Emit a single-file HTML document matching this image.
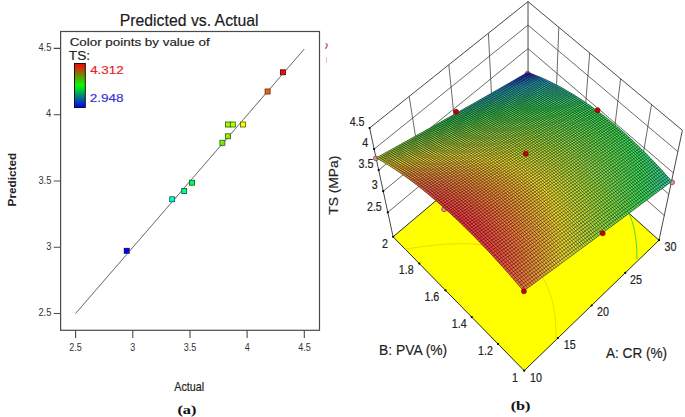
<!DOCTYPE html>
<html><head><meta charset="utf-8"><style>
html,body{margin:0;padding:0;background:#fff;}
body{width:685px;height:417px;overflow:hidden;}
svg{display:block;}
</style></head><body>
<svg width="685" height="417" viewBox="0 0 685 417">
<rect width="685" height="417" fill="#fff"/>
<rect x="60.6" y="31.5" width="258.9" height="298.8" fill="none" stroke="#4a4a4a" stroke-width="1.2"/>
<path d="M53.7 48.4H60.6M75.6 330.2V338M53.7 114.7H60.6M132.8 330.2V338M53.7 181.0H60.6M190.0 330.2V338M53.7 247.2H60.6M247.1 330.2V338M53.7 313.5H60.6M304.3 330.2V338" stroke="#4a4a4a" stroke-width="1.1"/>
<line x1="75.6" y1="313.5" x2="304.2" y2="49.1" stroke="#666" stroke-width="0.8"/>
<rect x="124.2" y="248.3" width="5" height="5" fill="#0000ff" stroke="#000059" stroke-width="0.8"/>
<rect x="169.7" y="196.8" width="5" height="5" fill="#00ffd6" stroke="#00594b" stroke-width="0.8"/>
<rect x="181.7" y="188.5" width="5" height="5" fill="#00ff88" stroke="#00592f" stroke-width="0.8"/>
<rect x="189.5" y="180.2" width="5" height="5" fill="#00ff55" stroke="#00591e" stroke-width="0.8"/>
<rect x="219.9" y="140.3" width="5" height="5" fill="#72ff00" stroke="#285900" stroke-width="0.8"/>
<rect x="225.5" y="133.8" width="5" height="5" fill="#97ff00" stroke="#355900" stroke-width="0.8"/>
<rect x="225.5" y="122.0" width="5" height="5" fill="#97ff00" stroke="#355900" stroke-width="0.8"/>
<rect x="230.3" y="122.0" width="5" height="5" fill="#b7ff00" stroke="#405900" stroke-width="0.8"/>
<rect x="240.5" y="122.0" width="5" height="5" fill="#f9ff00" stroke="#575900" stroke-width="0.8"/>
<rect x="265.1" y="89.0" width="5" height="5" fill="#ff6600" stroke="#592400" stroke-width="0.8"/>
<rect x="280.4" y="69.8" width="5" height="5" fill="#ff0000" stroke="#590000" stroke-width="0.8"/>
<line x1="75.6" y1="313.5" x2="304.2" y2="49.1" stroke="#666" stroke-width="0.8" opacity="0.5"/>
<defs><linearGradient id="cb" x1="0" y1="0" x2="0" y2="1"><stop offset="0" stop-color="#ff0000"/><stop offset="0.5" stop-color="#00ff00"/><stop offset="1" stop-color="#0000ff"/></linearGradient></defs>
<rect x="74.5" y="63.5" width="10.8" height="44" fill="url(#cb)" stroke="#111" stroke-width="1"/>
<path d="M325.6 43.6q2.4 0.6 1.4 2.6q-0.8 1.8-1.8 2.4" stroke="#c83040" stroke-width="1.3" fill="none" opacity="0.85"/>
<path d="M326.4 57.2v6" stroke="#d04050" stroke-width="0.9" stroke-dasharray="1.2 0.8" fill="none" opacity="0.7"/>
<path d="M387.8 212.3L528.1 95.7L664.3 215.5M383.2 191.2L528 72.2L668.8 194.2M378.7 170.1L528 48.6L673.3 172.9M374.1 149.1L528 25.1L677.8 151.6M422.9 183.2L409.2 96.4M457.9 154L448.8 64.8M493 124.9L488.4 33.2M637 191.5L651.5 104.5M609.8 167.6L620.6 78.8M582.5 143.6L589.7 53M555.3 119.7L558.8 27.3" stroke="#3a3a3a" stroke-width="0.75" fill="none"/>
<path d="M393.1 236.8L369.6 128L528 1.6L682.4 130.3L659 240.2M528 1.6L528.1 123" stroke="#333" stroke-width="0.9" fill="none"/>
<path d="M524.2 370.7L393.1 236.8L528.1 123L659 240.2Z" fill="#ffff00" stroke="#111" stroke-width="0.9"/>
<path d="M450.3 188.3L453.4 187.5L456.7 186.7L460.1 185.8L463.5 185L466.9 184.2L470.3 183.4L473.7 182.6L477.2 181.9L480.4 181.2L483.2 180.6L486.1 180L489.4 179.4L493 178.7L496.5 178.1L499.8 177.5L502.5 177L505.5 176.6L509.2 176L512.9 175.5L515.5 175.1L518.4 174.8L522.2 174.4L525.5 174L528 173.8L531.9 173.5L535 173.3L537.8 173.1L541.8 173L544.1 172.9L548.1 172.9L550.6 172.9L554.6 172.9L556.9 173L561 173.3L563.6 173.5L566.9 173.8L570.7 174.3L573.4 174.7L576.2 175.1L579.8 175.9L583.2 176.7L586.5 177.6L589.8 178.6" stroke="#30d040" stroke-width="0.9" fill="none"/>
<path d="M628.8 212.8L630.1 216L631.2 218.9L632.2 221.7L632.9 224.3L633.8 227.7L634.6 231.2L635.1 234.2L635.5 236.7L636 240.5L636.3 243.2L636.6 246.4L636.8 249.6L636.9 252.7L636.9 255.8L637 259.2" stroke="#30d040" stroke-width="0.9" fill="none"/>
<path d="M405.2 249.3L408.9 248.6L411.7 248.2L414.6 247.7L418.4 247.1L422.3 246.6L425.2 246.2L428.1 245.9L432.1 245.4L435.5 245L438.1 244.8L442.1 244.5L445.4 244.2L448.3 244.1L452.5 243.9L454.9 243.8L458.9 243.7L461.8 243.7L465.5 243.7L468.4 243.8L472.4 244L474.7 244.2L478.8 244.5L482 244.8L484.8 245.2L488.6 245.8L492.4 246.5L495.3 247.1L498.2 247.8L501.3 248.6L504.6 249.6L507.9 250.8L511.6 252.2L515.6 254L518.5 255.5L521.3 257.1L525.2 259.7L528.7 262.3L531.3 264.5L534.6 267.8L536.9 270.2L539.7 273.7L542.4 277.6L544 280.3L545.6 283.1L547.3 286.8L548.9 290.5L550.1 293.8L551.1 297L552 300L552.7 302.9L553.4 306.2L554.1 310L554.6 313.7L555 316.2L555.3 320L555.6 323.6L555.8 326.3L555.9 330.6L555.9 332.9L555.9 337.5L555.9 339.9" stroke="#e2cc00" stroke-width="0.7" fill="none"/>
<circle cx="527.6" cy="73.6" r="2.4" fill="#ec8c94" stroke="#633" stroke-width="0.7"/>
<circle cx="375.8" cy="158.4" r="2.4" fill="#ec8c94" stroke="#633" stroke-width="0.7"/>
<circle cx="672.2" cy="182.3" r="2.4" fill="#ec8c94" stroke="#633" stroke-width="0.7"/>
<circle cx="444.1" cy="209.3" r="2.4" fill="#ec8c94" stroke="#633" stroke-width="0.7"/>
<path d="M523.6 291L526.9 288.5L523.7 284.7L520.3 287.1ZM523.7 284.7L527 282.3L523.8 278.4L520.4 280.9ZM523.8 278.4L527.1 276.1L523.8 272.3L520.5 274.7ZM440.7 184.8L444 182.7L441.2 180.5L437.8 182.5ZM456.1 187.8L459.5 185.8L456.6 183.4L453.2 185.4ZM502.5 214.5L505.7 212.4L502.7 209.4L499.4 211.5ZM499.4 211.5L502.7 209.4L499.6 206.4L496.3 208.5ZM496.3 208.5L499.6 206.4L496.5 203.5L493.2 205.6ZM493.2 205.6L496.5 203.5L493.4 200.6L490.2 202.8Z" fill="#f07a40" stroke="#f07a40" stroke-width="0.5"/>
<path d="M520.3 287.1L523.7 284.7L520.4 280.9L517 283.3ZM520.4 280.9L523.8 278.4L520.5 274.7L517.2 277.1ZM437.3 186.8L440.7 184.8L437.8 182.5L434.4 184.5ZM452.8 189.9L456.1 187.8L453.2 185.4L449.8 187.5ZM462.1 192.8L465.4 190.8L462.4 188.2L459.1 190.3ZM499.2 216.7L502.5 214.5L499.4 211.5L496.1 213.7ZM496.1 213.7L499.4 211.5L496.3 208.5L493 210.7ZM493 210.7L496.3 208.5L493.2 205.6L489.9 207.8ZM489.9 207.8L493.2 205.6L490.2 202.8L486.8 204.9Z" fill="#f07241" stroke="#f07241" stroke-width="0.5"/>
<path d="M517 283.3L520.4 280.9L517.2 277.1L513.8 279.5ZM433.8 188.9L437.3 186.8L434.4 184.5L431 186.6ZM449.4 192L452.8 189.9L449.8 187.5L446.5 189.5ZM458.7 194.9L462.1 192.8L459.1 190.3L455.7 192.4ZM492.8 215.8L496.1 213.7L493 210.7L489.7 212.8ZM489.7 212.8L493 210.7L489.9 207.8L486.6 209.9ZM486.6 209.9L489.9 207.8L486.8 204.9L483.5 207Z" fill="#f06a42" stroke="#f06a42" stroke-width="0.5"/>
<path d="M513.8 279.5L517.2 277.1L513.9 273.4L510.5 275.7ZM436.7 191.3L440.1 189.2L437.3 186.8L433.8 188.9ZM511 257.7L514.3 255.4L511.1 251.9L507.8 254.2ZM504.9 239.4L508.2 237.1L505.1 233.8L501.7 236ZM495.7 224.2L499 222L495.9 218.9L492.5 221.1Z" fill="#f16442" stroke="#f16442" stroke-width="0.5"/>
<path d="M510.5 275.7L513.9 273.4L510.7 269.7L507.3 272ZM495.4 229.6L498.8 227.3L495.7 224.2L492.3 226.4ZM473.8 208.5L477.1 206.3L474.1 203.5L470.7 205.6Z" fill="#f15d43" stroke="#f15d43" stroke-width="0.5"/>
<path d="M507.3 272L510.7 269.7L507.5 266L504.1 268.4ZM436.2 195.8L439.6 193.7L436.7 191.3L433.3 193.3ZM495.2 235L498.6 232.8L495.4 229.6L492.1 231.8Z" fill="#f15743" stroke="#f15743" stroke-width="0.5"/>
<path d="M504.1 268.4L507.5 266L504.2 262.4L500.8 264.8ZM439.1 198.3L442.6 196.1L439.6 193.7L436.2 195.8ZM448.5 201.3L451.9 199.1L448.9 196.6L445.5 198.7ZM495 240.6L498.4 238.3L495.2 235L491.9 237.3ZM482.7 222.4L486.1 220.2L483 217.2L479.6 219.4ZM479.6 219.4L483 217.2L479.9 214.2L476.5 216.4Z" fill="#f15244" stroke="#f15244" stroke-width="0.5"/>
<path d="M500.8 264.8L504.2 262.4L501 258.9L497.6 261.2Z" fill="#f14d45" stroke="#f14d45" stroke-width="0.5"/>
<path d="M497.6 261.2L501 258.9L497.8 255.4L494.4 257.7ZM494.6 251.9L498 249.6L494.8 246.2L491.4 248.5Z" fill="#f14845" stroke="#f14845" stroke-width="0.5"/>
<path d="M494.4 257.7L497.8 255.4L494.6 251.9L491.2 254.2ZM482.2 233.1L485.6 230.8L482.4 227.7L479 229.9ZM466.6 217.8L470.1 215.7L467 212.8L463.6 214.9Z" fill="#f14445" stroke="#f14445" stroke-width="0.5"/>
<path d="M491.2 254.2L494.6 251.9L491.4 248.5L488 250.8Z" fill="#f14046" stroke="#f14046" stroke-width="0.5"/>
<path d="M488 250.8L491.4 248.5L488.2 245.1L484.8 247.4ZM460.1 217.1L463.6 214.9L460.5 212.1L457.1 214.3Z" fill="#f13d46" stroke="#f13d46" stroke-width="0.5"/>
<path d="M484.8 247.4L488.2 245.1L485.1 241.8L481.6 244.1ZM469.4 226L472.8 223.8L469.7 220.8L466.3 223Z" fill="#f23a46" stroke="#f23a46" stroke-width="0.5"/>
<path d="M481.6 244.1L485.1 241.8L481.9 238.6L478.5 240.8Z" fill="#f23847" stroke="#f23847" stroke-width="0.5"/>
<path d="M478.5 240.8L481.9 238.6L478.8 235.3L475.3 237.6Z" fill="#f23647" stroke="#f23647" stroke-width="0.5"/>
<path d="M475.3 237.6L478.8 235.3L475.6 232.2L472.2 234.4ZM459.8 222.2L463.2 220L460.1 217.1L456.7 219.3Z" fill="#f23447" stroke="#f23447" stroke-width="0.5"/>
<path d="M472.2 234.4L475.6 232.2L472.5 229.1L469.1 231.3ZM469.1 231.3L472.5 229.1L469.4 226L465.9 228.2ZM462.8 225.2L466.3 223L463.2 220L459.8 222.2Z" fill="#f23347" stroke="#f23347" stroke-width="0.5"/>
<path d="M465.9 228.2L469.4 226L466.3 223L462.8 225.2Z" fill="#f23247" stroke="#f23247" stroke-width="0.5"/>
<path d="M456.7 219.3L460.1 217.1L457.1 214.3L453.6 216.5Z" fill="#f23547" stroke="#f23547" stroke-width="0.5"/>
<path d="M453.6 216.5L457.1 214.3L454.1 211.5L450.6 213.6Z" fill="#f23747" stroke="#f23747" stroke-width="0.5"/>
<path d="M450.6 213.6L454.1 211.5L451 208.7L447.6 210.9Z" fill="#f23946" stroke="#f23946" stroke-width="0.5"/>
<path d="M447.6 210.9L451 208.7L448 206L444.6 208.2ZM475.6 232.2L479 229.9L475.9 226.8L472.5 229.1Z" fill="#f13b46" stroke="#f13b46" stroke-width="0.5"/>
<path d="M444.6 208.2L448 206L445 203.4L441.6 205.5ZM481.9 238.6L485.3 236.3L482.2 233.1L478.8 235.3Z" fill="#f13e46" stroke="#f13e46" stroke-width="0.5"/>
<path d="M441.6 205.5L445 203.4L442.1 200.8L438.6 202.9ZM488.2 245.1L491.6 242.8L488.5 239.5L485.1 241.8Z" fill="#f14246" stroke="#f14246" stroke-width="0.5"/>
<path d="M438.6 202.9L442.1 200.8L439.1 198.3L435.7 200.4ZM448 206L451.5 203.9L448.5 201.3L445 203.4ZM485.3 236.3L488.7 234L485.6 230.8L482.2 233.1Z" fill="#f14645" stroke="#f14645" stroke-width="0.5"/>
<path d="M435.7 200.4L439.1 198.3L436.2 195.8L432.7 197.9ZM445 203.4L448.5 201.3L445.5 198.7L442.1 200.8ZM491.6 242.8L495 240.6L491.9 237.3L488.5 239.5ZM479.3 224.6L482.7 222.4L479.6 219.4L476.2 221.6ZM476.2 221.6L479.6 219.4L476.5 216.4L473.1 218.6Z" fill="#f14a45" stroke="#f14a45" stroke-width="0.5"/>
<path d="M432.7 197.9L436.2 195.8L433.3 193.3L429.8 195.4ZM491.9 237.3L495.2 235L492.1 231.8L488.7 234Z" fill="#f14f44" stroke="#f14f44" stroke-width="0.5"/>
<path d="M429.8 195.4L433.3 193.3L430.4 191L426.9 193ZM504.2 262.4L507.6 260.1L504.4 256.5L501 258.9ZM501.2 253L504.6 250.7L501.4 247.3L498 249.6ZM489 228.6L492.3 226.4L489.2 223.3L485.8 225.5Z" fill="#f15444" stroke="#f15444" stroke-width="0.5"/>
<path d="M426.9 193L430.4 191L427.5 188.6L424.1 190.7ZM507.5 266L510.8 263.7L507.6 260.1L504.2 262.4ZM442.6 196.1L446 194.1L443.1 191.6L439.6 193.7ZM451.9 199.1L455.3 197L452.3 194.5L448.9 196.6ZM498.4 238.3L501.7 236L498.6 232.8L495.2 235ZM486.1 220.2L489.4 218L486.3 215L483 217.2ZM483 217.2L486.3 215L483.3 212.1L479.9 214.2Z" fill="#f15a43" stroke="#f15a43" stroke-width="0.5"/>
<path d="M424.1 190.7L427.5 188.6L424.7 186.4L421.2 188.4ZM507.8 254.2L511.1 251.9L507.9 248.4L504.6 250.7ZM504.7 245L508.1 242.7L504.9 239.4L501.6 241.6ZM467.7 202.9L471.1 200.8L468 198.1L464.7 200.2Z" fill="#f16043" stroke="#f16043" stroke-width="0.5"/>
<path d="M421.2 188.4L424.7 186.4L421.8 184.2L418.4 186.2ZM514.1 267.3L517.4 264.9L514.2 261.3L510.8 263.7ZM443.1 191.6L446.5 189.5L443.5 187.1L440.1 189.2ZM501.9 230.5L505.2 228.3L502.1 225.1L498.8 227.3Z" fill="#f06742" stroke="#f06742" stroke-width="0.5"/>
<path d="M418.4 186.2L421.8 184.2L419 182L415.6 184ZM455.7 192.4L459.1 190.3L456.1 187.8L452.8 189.9ZM465 195.4L468.4 193.3L465.4 190.8L462.1 192.8ZM477.4 201.4L480.8 199.3L477.7 196.6L474.4 198.7Z" fill="#f06e41" stroke="#f06e41" stroke-width="0.5"/>
<path d="M415.6 184L419 182L416.2 179.9L412.8 181.9ZM459.1 190.3L462.4 188.2L459.5 185.8L456.1 187.8ZM468.4 193.3L471.7 191.3L468.7 188.7L465.4 190.8ZM480.8 199.3L484.1 197.2L481 194.5L477.7 196.6Z" fill="#f07641" stroke="#f07641" stroke-width="0.5"/>
<path d="M412.8 181.9L416.2 179.9L413.5 177.8L410 179.9ZM419 182L422.5 180L419.7 177.9L416.2 179.9ZM425.3 182.1L428.7 180.1L425.9 178L422.5 180ZM471.7 191.3L475 189.2L472.1 186.6L468.7 188.7ZM484.1 197.2L487.4 195.1L484.3 192.4L481 194.5Z" fill="#f07e40" stroke="#f07e40" stroke-width="0.5"/>
<path d="M410 179.9L413.5 177.8L410.7 175.8L407.3 177.8ZM416.2 179.9L419.7 177.9L416.9 175.8L413.5 177.8ZM422.5 180L425.9 178L423.1 175.9L419.7 177.9ZM428.7 180.1L432.1 178.1L429.3 176L425.9 178ZM475 189.2L478.3 187.1L475.4 184.6L472.1 186.6ZM515.1 221.7L518.3 219.5L515.2 216.4L512 218.5ZM487.4 195.1L490.6 193L487.6 190.3L484.3 192.4Z" fill="#f0863f" stroke="#f0863f" stroke-width="0.5"/>
<path d="M407.3 177.8L410.7 175.8L408 173.9L404.5 175.9ZM438.3 178.2L441.7 176.2L438.8 174.1L435.5 176.1ZM459.9 181.3L463.2 179.3L460.3 177L457 179ZM527.6 240.5L530.8 238.2L527.7 234.8L524.4 237.1ZM524.5 231.5L527.7 229.2L524.6 226L521.4 228.2Z" fill="#ef8f3e" stroke="#ef8f3e" stroke-width="0.5"/>
<path d="M404.5 175.9L408 173.9L405.3 172L401.9 174ZM536.8 281.3L540.1 278.9L536.9 275.1L533.6 277.4ZM536.9 275.1L540.2 272.7L537 268.9L533.7 271.3ZM533.9 247.4L537.2 245.2L534 241.7L530.8 243.9ZM469.4 179.7L472.7 177.6L469.8 175.3L466.5 177.3ZM478.6 182.5L481.9 180.5L478.9 178L475.7 180.1ZM515.5 205.9L518.7 203.8L515.6 200.9L512.4 203ZM512.4 203L515.6 200.9L512.5 197.9L509.3 200ZM509.3 200L512.5 197.9L509.5 195.1L506.3 197.2ZM506.3 197.2L509.5 195.1L506.4 192.3L503.2 194.3Z" fill="#ef993d" stroke="#ef993d" stroke-width="0.5"/>
<path d="M401.9 174L405.3 172L402.6 170.2L399.2 172.1ZM540.2 266.6L543.5 264.2L540.3 260.5L537 262.9ZM457.4 174.7L460.7 172.7L457.8 170.4L454.5 172.4ZM534.1 230.4L537.3 228.2L534.2 224.8L531 227ZM491.1 183.6L494.3 181.5L491.4 179L488.1 181ZM521.8 206.8L525 204.7L521.9 201.7L518.7 203.8ZM506.4 192.3L509.6 190.2L506.6 187.4L503.4 189.5Z" fill="#efa23c" stroke="#efa23c" stroke-width="0.5"/>
<path d="M399.2 172.1L402.6 170.2L400 168.4L396.5 170.4ZM439.4 170L442.7 168L439.9 166L436.6 167.9ZM491.4 179L494.6 177L491.6 174.5L488.4 176.5ZM531.2 210.9L534.3 208.7L531.2 205.6L528.1 207.8ZM503.6 184.7L506.8 182.7L503.7 180.1L500.6 182.1Z" fill="#efad3b" stroke="#efad3b" stroke-width="0.5"/>
<path d="M396.5 170.4L400 168.4L397.3 166.7L393.9 168.6ZM424.3 167.9L427.7 166L424.9 164.1L421.6 166ZM537.4 211.9L540.6 209.7L537.5 206.6L534.3 208.7Z" fill="#efb73a" stroke="#efb73a" stroke-width="0.5"/>
<path d="M393.9 168.6L397.3 166.7L394.7 165L391.3 166.9ZM553.1 245.5L556.2 243.2L553.1 239.7L549.9 241.9ZM476.6 167L479.9 165L477 162.8L473.7 164.8Z" fill="#eec339" stroke="#eec339" stroke-width="0.5"/>
<path d="M391.3 166.9L394.7 165L392.1 163.4L388.7 165.3ZM440.4 162.1L443.7 160.1L440.9 158.2L437.7 160.2ZM464.8 162.4L468 160.5L465.1 158.4L461.9 160.3ZM546.8 205.5L549.9 203.4L546.8 200.3L543.7 202.4ZM513.2 174L516.4 172L513.4 169.5L510.2 171.5Z" fill="#eece38" stroke="#eece38" stroke-width="0.5"/>
<path d="M388.7 165.3L392.1 163.4L389.6 161.8L386.2 163.7ZM425.6 160.3L428.9 158.4L426.2 156.6L422.9 158.5ZM562.5 238.7L565.6 236.5L562.4 233L559.3 235.2ZM486.2 161.1L489.4 159.2L486.5 157L483.3 158.9ZM546.8 195.1L549.9 193.1L546.8 190.1L543.8 192.2Z" fill="#edd937" stroke="#edd937" stroke-width="0.5"/>
<path d="M386.2 163.7L389.6 161.8L387.1 160.3L383.6 162.2ZM401.5 161.1L404.9 159.2L402.3 157.6L398.9 159.5ZM444.2 156.3L447.5 154.4L444.7 152.6L441.5 154.5ZM480.5 156.8L483.6 154.9L480.8 152.8L477.6 154.7ZM565.5 225.1L568.6 223L565.4 219.6L562.4 221.8ZM510.5 162.6L513.6 160.7L510.7 158.3L507.6 160.2ZM546.8 185.1L549.9 183.1L546.8 180.2L543.8 182.2ZM537.7 176.7L540.8 174.7L537.7 171.9L534.7 173.9ZM534.7 173.9L537.7 171.9L534.7 169.3L531.7 171.3Z" fill="#e2d939" stroke="#e2d939" stroke-width="0.5"/>
<path d="M383.6 162.2L387.1 160.3L384.5 158.8L381.1 160.7ZM429.5 154.7L432.8 152.8L430.1 151.2L426.8 153ZM462.7 152.5L465.9 150.6L463.1 148.7L459.9 150.6ZM468.7 152.5L471.9 150.6L469.1 148.7L465.9 150.6ZM474.7 152.6L477.9 150.7L475.1 148.7L471.9 150.6ZM501.7 155.6L504.8 153.7L501.9 151.5L498.8 153.4ZM562.1 195L565.2 193L562.1 189.9L559.1 192ZM528.7 164.1L531.8 162.2L528.8 159.7L525.7 161.6Z" fill="#d6da3b" stroke="#d6da3b" stroke-width="0.5"/>
<path d="M381.1 160.7L384.5 158.8L382.1 157.4L378.7 159.3ZM442 150.8L445.2 148.9L442.5 147.2L439.3 149.1ZM577.7 222.1L580.8 219.9L577.7 216.5L574.6 218.7ZM574.5 207.7L577.5 205.6L574.4 202.4L571.4 204.5ZM571.3 199.2L574.3 197.1L571.2 194L568.2 196ZM565.1 187.9L568.1 185.8L565 182.8L562 184.9Z" fill="#cada3e" stroke="#cada3e" stroke-width="0.5"/>
<path d="M378.7 159.3L382.1 157.4L379.6 156L376.2 157.9ZM454.4 146.9L457.6 145.1L454.9 143.3L451.7 145.2ZM583.9 223.3L586.9 221.2L583.8 217.8L580.8 219.9ZM508.1 147.7L511.1 145.8L508.3 143.7L505.2 145.6ZM543.8 158.9L546.8 156.9L543.8 154.4L540.9 156.4Z" fill="#bedb40" stroke="#bedb40" stroke-width="0.5"/>
<path d="M526.9 288.5L530.2 286.1L527 282.3L523.7 284.7ZM524.1 254.3L527.4 252L524.2 248.5L520.9 250.8ZM468.7 188.7L472.1 186.6L469.1 184.1L465.8 186.2ZM515 227.1L518.2 224.9L515.1 221.7L511.8 223.9ZM499.6 206.4L502.8 204.3L499.8 201.4L496.5 203.5Z" fill="#f0813f" stroke="#f0813f" stroke-width="0.5"/>
<path d="M517.2 277.1L520.5 274.7L517.3 271L513.9 273.4ZM511.3 246.1L514.6 243.8L511.4 240.4L508.1 242.7ZM468 198.1L471.4 196L468.4 193.3L465 195.4ZM495.9 218.9L499.2 216.7L496.1 213.7L492.8 215.8ZM483.5 207L486.8 204.9L483.8 202.1L480.5 204.2Z" fill="#f06b42" stroke="#f06b42" stroke-width="0.5"/>
<path d="M513.9 273.4L517.3 271L514.1 267.3L510.7 269.7ZM498.8 227.3L502.1 225.1L499 222L495.7 224.2ZM477.1 206.3L480.5 204.2L477.4 201.4L474.1 203.5Z" fill="#f06542" stroke="#f06542" stroke-width="0.5"/>
<path d="M510.7 269.7L514.1 267.3L510.8 263.7L507.5 266ZM439.6 193.7L443.1 191.6L440.1 189.2L436.7 191.3ZM498.6 232.8L501.9 230.5L498.8 227.3L495.4 229.6Z" fill="#f15f43" stroke="#f15f43" stroke-width="0.5"/>
<path d="M501 258.9L504.4 256.5L501.2 253L497.8 255.4ZM498 249.6L501.4 247.3L498.2 243.9L494.8 246.2Z" fill="#f15044" stroke="#f15044" stroke-width="0.5"/>
<path d="M497.8 255.4L501.2 253L498 249.6L494.6 251.9ZM485.6 230.8L489 228.6L485.8 225.5L482.4 227.7ZM470.1 215.7L473.5 213.5L470.4 210.6L467 212.8Z" fill="#f14c45" stroke="#f14c45" stroke-width="0.5"/>
<path d="M491.4 248.5L494.8 246.2L491.6 242.8L488.2 245.1ZM463.6 214.9L467 212.8L463.9 209.9L460.5 212.1Z" fill="#f14545" stroke="#f14545" stroke-width="0.5"/>
<path d="M485.1 241.8L488.5 239.5L485.3 236.3L481.9 238.6ZM457.1 214.3L460.5 212.1L457.5 209.3L454.1 211.5Z" fill="#f13f46" stroke="#f13f46" stroke-width="0.5"/>
<path d="M478.8 235.3L482.2 233.1L479 229.9L475.6 232.2ZM463.2 220L466.6 217.8L463.6 214.9L460.1 217.1Z" fill="#f13c46" stroke="#f13c46" stroke-width="0.5"/>
<path d="M472.5 229.1L475.9 226.8L472.8 223.8L469.4 226ZM466.3 223L469.7 220.8L466.6 217.8L463.2 220Z" fill="#f23b46" stroke="#f23b46" stroke-width="0.5"/>
<path d="M454.1 211.5L457.5 209.3L454.5 206.6L451 208.7Z" fill="#f14146" stroke="#f14146" stroke-width="0.5"/>
<path d="M451 208.7L454.5 206.6L451.5 203.9L448 206ZM479 229.9L482.4 227.7L479.3 224.6L475.9 226.8ZM475.9 226.8L479.3 224.6L476.2 221.6L472.8 223.8ZM469.7 220.8L473.1 218.6L470.1 215.7L466.6 217.8Z" fill="#f14345" stroke="#f14345" stroke-width="0.5"/>
<path d="M442.1 200.8L445.5 198.7L442.6 196.1L439.1 198.3ZM451.5 203.9L454.9 201.8L451.9 199.1L448.5 201.3ZM463.9 209.9L467.3 207.8L464.3 205L460.9 207.2Z" fill="#f14e44" stroke="#f14e44" stroke-width="0.5"/>
<path d="M433.3 193.3L436.7 191.3L433.8 188.9L430.4 191ZM507.6 260.1L511 257.7L507.8 254.2L504.4 256.5ZM504.6 250.7L507.9 248.4L504.7 245L501.4 247.3ZM501.6 241.6L504.9 239.4L501.7 236L498.4 238.3ZM492.3 226.4L495.7 224.2L492.5 221.1L489.2 223.3Z" fill="#f15c43" stroke="#f15c43" stroke-width="0.5"/>
<path d="M430.4 191L433.8 188.9L431 186.6L427.5 188.6ZM446 194.1L449.4 192L446.5 189.5L443.1 191.6ZM455.3 197L458.7 194.9L455.7 192.4L452.3 194.5ZM501.7 236L505.1 233.8L501.9 230.5L498.6 232.8ZM489.4 218L492.8 215.8L489.7 212.8L486.3 215ZM486.3 215L489.7 212.8L486.6 209.9L483.3 212.1ZM483.3 212.1L486.6 209.9L483.5 207L480.2 209.2Z" fill="#f16242" stroke="#f16242" stroke-width="0.5"/>
<path d="M427.5 188.6L431 186.6L428.1 184.3L424.7 186.4ZM511.1 251.9L514.4 249.6L511.3 246.1L507.9 248.4ZM508.1 242.7L511.4 240.4L508.2 237.1L504.9 239.4ZM471.1 200.8L474.4 198.7L471.4 196L468 198.1Z" fill="#f06842" stroke="#f06842" stroke-width="0.5"/>
<path d="M424.7 186.4L428.1 184.3L425.3 182.1L421.8 184.2ZM517.4 264.9L520.7 262.6L517.5 259L514.2 261.3ZM446.5 189.5L449.8 187.5L446.9 185.1L443.5 187.1ZM505.2 228.3L508.5 226.1L505.4 222.9L502.1 225.1Z" fill="#f06f41" stroke="#f06f41" stroke-width="0.5"/>
<path d="M421.8 184.2L425.3 182.1L422.5 180L419 182Z" fill="#f07640" stroke="#f07640" stroke-width="0.5"/>
<path d="M413.5 177.8L416.9 175.8L414.1 173.9L410.7 175.8ZM432.1 178.1L435.5 176.1L432.7 174L429.3 176ZM530.6 255.6L533.9 253.3L530.7 249.7L527.4 252ZM518.3 219.5L521.6 217.3L518.5 214.2L515.2 216.4Z" fill="#ef8e3e" stroke="#ef8e3e" stroke-width="0.5"/>
<path d="M410.7 175.8L414.1 173.9L411.4 171.9L408 173.9ZM441.7 176.2L445 174.2L442.2 172.1L438.8 174.1ZM530.8 238.2L534 236L530.9 232.6L527.7 234.8ZM527.7 229.2L531 227L527.8 223.8L524.6 226ZM490.9 188.2L494.1 186.2L491.1 183.6L487.9 185.6Z" fill="#ef973d" stroke="#ef973d" stroke-width="0.5"/>
<path d="M408 173.9L411.4 171.9L408.7 170L405.3 172ZM540.1 278.9L543.4 276.5L540.2 272.7L536.9 275.1ZM540.2 272.7L543.4 270.3L540.2 266.6L537 268.9ZM472.7 177.6L476 175.6L473.1 173.3L469.8 175.3ZM481.9 180.5L485.1 178.5L482.2 176L478.9 178ZM518.7 203.8L521.9 201.7L518.8 198.7L515.6 200.9ZM515.6 200.9L518.8 198.7L515.7 195.8L512.5 197.9ZM512.5 197.9L515.7 195.8L512.7 193L509.5 195.1ZM509.5 195.1L512.7 193L509.6 190.2L506.4 192.3Z" fill="#efa13c" stroke="#efa13c" stroke-width="0.5"/>
<path d="M405.3 172L408.7 170L406 168.2L402.6 170.2ZM543.5 258.2L546.7 255.9L543.5 252.3L540.3 254.6Z" fill="#efaa3b" stroke="#efaa3b" stroke-width="0.5"/>
<path d="M402.6 170.2L406 168.2L403.4 166.4L400 168.4ZM442.7 168L446 166.1L443.2 164L439.9 166ZM546.7 244.2L549.9 241.9L546.7 238.4L543.6 240.6ZM534.3 208.7L537.5 206.6L534.4 203.5L531.2 205.6Z" fill="#efb53a" stroke="#efb53a" stroke-width="0.5"/>
<path d="M400 168.4L403.4 166.4L400.7 164.7L397.3 166.7ZM427.7 166L431 164L428.3 162.1L424.9 164.1ZM464.4 166.5L467.6 164.5L464.8 162.4L461.5 164.4ZM549.9 236.2L553.1 233.9L549.9 230.5L546.8 232.7ZM540.6 209.7L543.7 207.6L540.6 204.5L537.5 206.6ZM525.2 189.6L528.4 187.6L525.3 184.8L522.2 186.8Z" fill="#eebf39" stroke="#eebf39" stroke-width="0.5"/>
<path d="M397.3 166.7L400.7 164.7L398.1 163.1L394.7 165ZM556.2 243.2L559.4 241L556.2 237.4L553.1 239.7ZM479.9 165L483.1 163.1L480.2 160.9L477 162.8ZM495 168.1L498.2 166.1L495.2 163.7L492.1 165.7ZM516.2 176.6L519.4 174.6L516.4 172L513.2 174Z" fill="#eecb38" stroke="#eecb38" stroke-width="0.5"/>
<path d="M394.7 165L398.1 163.1L395.5 161.5L392.1 163.4ZM443.7 160.1L447 158.2L444.2 156.3L440.9 158.2ZM468 160.5L471.2 158.5L468.4 156.5L465.1 158.4ZM559.3 229.5L562.4 227.3L559.3 223.9L556.2 226.1ZM549.9 203.4L553 201.3L549.9 198.2L546.8 200.3ZM537.6 186.3L540.7 184.3L537.7 181.4L534.6 183.5ZM534.6 183.5L537.7 181.4L534.6 178.7L531.5 180.7Z" fill="#eed637" stroke="#eed637" stroke-width="0.5"/>
<path d="M392.1 163.4L395.5 161.5L393 159.9L389.6 161.8ZM407.5 160.9L410.9 159L408.3 157.3L404.9 159.2ZM504.5 162.2L507.6 160.2L504.7 157.9L501.5 159.8ZM513.5 165L516.6 163.1L513.6 160.7L510.5 162.6ZM553 196.1L556 194L553 191L549.9 193.1Z" fill="#e5d939" stroke="#e5d939" stroke-width="0.5"/>
<path d="M389.6 161.8L393 159.9L390.5 158.4L387.1 160.3ZM420.2 156.8L423.5 154.9L420.9 153.3L417.6 155.2ZM441.5 154.5L444.7 152.6L442 150.8L438.7 152.7ZM572 255.5L575.1 253.2L571.9 249.5L568.8 251.8ZM571.9 243.6L574.9 241.4L571.8 237.8L568.7 240ZM571.8 237.8L574.9 235.6L571.7 232.1L568.7 234.3ZM489.7 155.1L492.8 153.2L489.9 151L486.8 152.9ZM568.5 217.4L571.5 215.3L568.4 212L565.4 214.1ZM565.3 208.7L568.4 206.6L565.3 203.4L562.2 205.5ZM562.2 200.2L565.2 198.1L562.1 195L559.1 197.1ZM534.7 169.3L537.8 167.3L534.8 164.7L531.7 166.7Z" fill="#dada3b" stroke="#dada3b" stroke-width="0.5"/>
<path d="M387.1 160.3L390.5 158.4L387.9 156.9L384.5 158.8ZM432.8 152.8L436 151L433.4 149.3L430.1 151.2ZM465.9 150.6L469.1 148.7L466.3 146.8L463.1 148.7ZM471.9 150.6L475.1 148.7L472.3 146.8L469.1 148.7ZM477.9 150.7L481.1 148.8L478.2 146.9L475.1 148.7ZM483.9 150.9L487 149L484.2 146.9L481.1 148.8ZM565.2 193L568.2 190.9L565.1 187.9L562.1 189.9ZM552.9 176.2L555.9 174.2L552.9 171.4L549.9 173.4ZM549.9 173.4L552.9 171.4L549.9 168.7L546.8 170.7Z" fill="#cfda3d" stroke="#cfda3d" stroke-width="0.5"/>
<path d="M384.5 158.8L387.9 156.9L385.5 155.5L382.1 157.4ZM445.2 148.9L448.5 147L445.7 145.3L442.5 147.2ZM580.8 219.9L583.8 217.8L580.7 214.4L577.7 216.5ZM577.5 205.6L580.5 203.5L577.4 200.3L574.4 202.4ZM574.3 197.1L577.3 195L574.2 191.9L571.2 194Z" fill="#c3da3f" stroke="#c3da3f" stroke-width="0.5"/>
<path d="M382.1 157.4L385.5 155.5L383 154.2L379.6 156ZM406.4 152.3L409.7 150.5L407.2 149L403.9 150.9ZM457.6 145.1L460.8 143.2L458 141.5L454.9 143.3ZM586.9 221.2L589.8 219L586.8 215.6L583.8 217.8ZM511.1 145.8L514.2 143.9L511.3 141.8L508.3 143.7ZM526 148.7L529 146.8L526.1 144.6L523.1 146.4ZM534.9 151.5L537.9 149.6L535 147.2L532 149.1ZM574 181.8L577 179.8L574 176.8L571 178.8ZM546.8 156.9L549.8 155L546.8 152.5L543.8 154.4Z" fill="#b7db41" stroke="#b7db41" stroke-width="0.5"/>
<path d="M530.2 286.1L533.6 283.7L530.3 279.8L527 282.3ZM527.4 252L530.7 249.7L527.5 246.2L524.2 248.5ZM472.1 186.6L475.4 184.6L472.4 182.1L469.1 184.1ZM518.2 224.9L521.5 222.7L518.3 219.5L515.1 221.7ZM505.9 207.2L509.2 205.1L506.1 202.2L502.8 204.3ZM502.8 204.3L506.1 202.2L503 199.3L499.8 201.4Z" fill="#f0893f" stroke="#f0893f" stroke-width="0.5"/>
<path d="M527 282.3L530.3 279.8L527.1 276.1L523.8 278.4ZM527.1 276.1L530.4 273.7L527.2 269.9L523.8 272.3ZM444 182.7L447.4 180.7L444.5 178.4L441.2 180.5ZM459.5 185.8L462.8 183.7L459.9 181.3L456.6 183.4ZM505.7 212.4L509 210.2L505.9 207.2L502.7 209.4ZM502.7 209.4L505.9 207.2L502.8 204.3L499.6 206.4ZM496.5 203.5L499.8 201.4L496.7 198.5L493.4 200.6Z" fill="#f0823f" stroke="#f0823f" stroke-width="0.5"/>
<path d="M520.5 274.7L523.8 272.3L520.6 268.6L517.3 271ZM514.6 243.8L517.9 241.6L514.7 238.2L511.4 240.4ZM471.4 196L474.7 193.9L471.7 191.3L468.4 193.3ZM502.3 219.8L505.6 217.6L502.5 214.5L499.2 216.7ZM486.8 204.9L490.2 202.8L487.1 199.9L483.8 202.1Z" fill="#f07341" stroke="#f07341" stroke-width="0.5"/>
<path d="M517.3 271L520.6 268.6L517.4 264.9L514.1 267.3ZM502.1 225.1L505.4 222.9L502.3 219.8L499 222Z" fill="#f06d41" stroke="#f06d41" stroke-width="0.5"/>
<path d="M510.8 263.7L514.2 261.3L511 257.7L507.6 260.1Z" fill="#f16142" stroke="#f16142" stroke-width="0.5"/>
<path d="M504.4 256.5L507.8 254.2L504.6 250.7L501.2 253ZM501.4 247.3L504.7 245L501.6 241.6L498.2 243.9Z" fill="#f15843" stroke="#f15843" stroke-width="0.5"/>
<path d="M494.8 246.2L498.2 243.9L495 240.6L491.6 242.8ZM488.7 234L492.1 231.8L489 228.6L485.6 230.8ZM467 212.8L470.4 210.6L467.3 207.8L463.9 209.9Z" fill="#f14d44" stroke="#f14d44" stroke-width="0.5"/>
<path d="M488.5 239.5L491.9 237.3L488.7 234L485.3 236.3ZM460.5 212.1L463.9 209.9L460.9 207.2L457.5 209.3Z" fill="#f14745" stroke="#f14745" stroke-width="0.5"/>
<path d="M472.8 223.8L476.2 221.6L473.1 218.6L469.7 220.8Z" fill="#f14245" stroke="#f14245" stroke-width="0.5"/>
<path d="M457.5 209.3L460.9 207.2L457.9 204.4L454.5 206.6Z" fill="#f14945" stroke="#f14945" stroke-width="0.5"/>
<path d="M454.5 206.6L457.9 204.4L454.9 201.8L451.5 203.9ZM482.4 227.7L485.8 225.5L482.7 222.4L479.3 224.6ZM473.1 218.6L476.5 216.4L473.5 213.5L470.1 215.7Z" fill="#f14b45" stroke="#f14b45" stroke-width="0.5"/>
<path d="M445.5 198.7L448.9 196.6L446 194.1L442.6 196.1ZM454.9 201.8L458.3 199.6L455.3 197L451.9 199.1ZM467.3 207.8L470.7 205.6L467.7 202.9L464.3 205Z" fill="#f15644" stroke="#f15644" stroke-width="0.5"/>
<path d="M431 186.6L434.4 184.5L431.5 182.3L428.1 184.3ZM514.4 249.6L517.8 247.3L514.6 243.8L511.3 246.1ZM511.4 240.4L514.7 238.2L511.5 234.8L508.2 237.1ZM474.4 198.7L477.7 196.6L474.7 193.9L471.4 196Z" fill="#f07041" stroke="#f07041" stroke-width="0.5"/>
<path d="M428.1 184.3L431.5 182.3L428.7 180.1L425.3 182.1ZM520.7 262.6L524 260.2L520.8 256.6L517.5 259ZM449.8 187.5L453.2 185.4L450.3 183L446.9 185.1ZM517.8 247.3L521 245L517.9 241.6L514.6 243.8ZM514.7 238.2L518 235.9L514.8 232.6L511.5 234.8ZM508.5 226.1L511.8 223.9L508.7 220.7L505.4 222.9Z" fill="#f07740" stroke="#f07740" stroke-width="0.5"/>
<path d="M419.7 177.9L423.1 175.9L420.3 173.8L416.9 175.8ZM425.9 178L429.3 176L426.5 173.9L423.1 175.9ZM478.3 187.1L481.6 185.1L478.6 182.5L475.4 184.6Z" fill="#f08e3e" stroke="#f08e3e" stroke-width="0.5"/>
<path d="M416.9 175.8L420.3 173.8L417.6 171.9L414.1 173.9ZM423.1 175.9L426.5 173.9L423.7 171.9L420.3 173.8ZM429.3 176L432.7 174L429.9 171.9L426.5 173.9ZM435.5 176.1L438.8 174.1L436 172L432.7 174ZM533.9 253.3L537.1 251L533.9 247.4L530.7 249.7ZM463.2 179.3L466.5 177.3L463.6 175L460.3 177ZM521.6 217.3L524.8 215.2L521.7 212L518.5 214.2Z" fill="#ef963d" stroke="#ef963d" stroke-width="0.5"/>
<path d="M414.1 173.9L417.6 171.9L414.8 170L411.4 171.9ZM445 174.2L448.4 172.2L445.5 170.1L442.2 172.1ZM494.1 186.2L497.3 184.1L494.3 181.5L491.1 183.6Z" fill="#ef9f3d" stroke="#ef9f3d" stroke-width="0.5"/>
<path d="M411.4 171.9L414.8 170L412.1 168.1L408.7 170ZM543.4 276.5L546.6 274.1L543.4 270.3L540.2 272.7ZM543.4 270.3L546.7 268L543.5 264.2L540.2 266.6ZM460.7 172.7L464 170.7L461.1 168.5L457.8 170.4ZM476 175.6L479.2 173.6L476.3 171.3L473.1 173.3ZM521.9 201.7L525.1 199.6L522 196.7L518.8 198.7ZM512.7 193L515.9 190.9L512.8 188.1L509.6 190.2Z" fill="#efa93c" stroke="#efa93c" stroke-width="0.5"/>
<path d="M408.7 170L412.1 168.1L409.4 166.3L406 168.2ZM546.7 255.9L549.9 253.6L546.7 250L543.5 252.3ZM540.5 226L543.6 223.8L540.5 220.5L537.3 222.7ZM537.4 217.2L540.5 215.1L537.4 211.9L534.3 214ZM528.1 202.6L531.3 200.5L528.2 197.5L525.1 199.6Z" fill="#efb23b" stroke="#efb23b" stroke-width="0.5"/>
<path d="M406 168.2L409.4 166.3L406.8 164.5L403.4 166.4ZM439.9 166L443.2 164L440.4 162.1L437.1 164ZM446 166.1L449.3 164.1L446.5 162.1L443.2 164ZM549.9 241.9L553.1 239.7L549.9 236.2L546.7 238.4ZM546.8 227.1L549.9 224.9L546.8 221.6L543.6 223.8ZM543.7 218.3L546.8 216.1L543.7 212.9L540.5 215.1ZM537.5 206.6L540.6 204.5L537.5 201.4L534.4 203.5Z" fill="#eebd3a" stroke="#eebd3a" stroke-width="0.5"/>
<path d="M403.4 166.4L406.8 164.5L404.1 162.8L400.7 164.7ZM431 164L434.3 162.1L431.6 160.2L428.3 162.1ZM467.6 164.5L470.9 162.6L468 160.5L464.8 162.4ZM553.1 233.9L556.2 231.7L553.1 228.3L549.9 230.5ZM498 170.5L501.1 168.5L498.2 166.1L495 168.1ZM543.7 207.6L546.8 205.5L543.7 202.4L540.6 204.5ZM531.4 190.4L534.5 188.4L531.5 185.5L528.4 187.6ZM528.4 187.6L531.5 185.5L528.4 182.7L525.3 184.8ZM525.3 184.8L528.4 182.7L525.4 180L522.3 182Z" fill="#eec739" stroke="#eec739" stroke-width="0.5"/>
<path d="M400.7 164.7L404.1 162.8L401.5 161.1L398.1 163.1ZM559.4 241L562.5 238.7L559.3 235.2L556.2 237.4ZM498.2 166.1L501.3 164.1L498.4 161.8L495.2 163.7ZM507.3 169L510.4 167L507.4 164.6L504.3 166.5ZM519.4 174.6L522.5 172.6L519.5 170L516.4 172Z" fill="#eed338" stroke="#eed338" stroke-width="0.5"/>
<path d="M398.1 163.1L401.5 161.1L398.9 159.5L395.5 161.5ZM440.9 158.2L444.2 156.3L441.5 154.5L438.2 156.4ZM477.3 158.7L480.5 156.8L477.6 154.7L474.4 156.6ZM562.4 227.3L565.5 225.1L562.4 221.8L559.3 223.9ZM507.4 164.6L510.5 162.6L507.6 160.2L504.5 162.2ZM543.8 187.2L546.8 185.1L543.8 182.2L540.7 184.3ZM540.7 184.3L543.8 182.2L540.7 179.4L537.7 181.4ZM537.7 181.4L540.7 179.4L537.7 176.7L534.6 178.7ZM534.6 178.7L537.7 176.7L534.7 173.9L531.6 175.9Z" fill="#e9d938" stroke="#e9d938" stroke-width="0.5"/>
<path d="M395.5 161.5L398.9 159.5L396.4 158L393 159.9ZM410.9 159L414.2 157.1L411.6 155.4L408.3 157.3ZM568.6 228.6L571.7 226.4L568.6 223L565.5 225.1ZM565.4 214.1L568.4 212L565.3 208.7L562.3 210.8ZM562.2 205.5L565.3 203.4L562.2 200.2L559.1 202.3ZM556 194L559.1 192L556 189L553 191Z" fill="#ded93a" stroke="#ded93a" stroke-width="0.5"/>
<path d="M393 159.9L396.4 158L393.8 156.5L390.5 158.4ZM423.5 154.9L426.8 153L424.2 151.4L420.9 153.3ZM444.7 152.6L448 150.7L445.2 148.9L442 150.8ZM574.9 235.6L577.9 233.4L574.8 229.9L571.7 232.1ZM492.8 153.2L495.9 151.2L493 149.1L489.9 151ZM571.5 215.3L574.6 213.2L571.5 209.8L568.4 212ZM565.2 198.1L568.2 196L565.2 193L562.1 195ZM559 186.9L562 184.9L559 181.9L556 184ZM537.8 167.3L540.8 165.3L537.8 162.8L534.8 164.7Z" fill="#d3da3c" stroke="#d3da3c" stroke-width="0.5"/>
<path d="M390.5 158.4L393.8 156.5L391.3 155.1L387.9 156.9ZM436 151L439.3 149.1L436.6 147.4L433.4 149.3ZM463.1 148.7L466.3 146.8L463.5 145L460.3 146.8ZM469.1 148.7L472.3 146.8L469.5 144.9L466.3 146.8ZM481.1 148.8L484.2 146.9L481.4 145L478.2 146.9ZM487 149L490.2 147.1L487.3 145.1L484.2 146.9ZM577.7 216.5L580.7 214.4L577.6 211L574.6 213.2ZM568.2 190.9L571.2 188.8L568.1 185.8L565.1 187.9ZM559 177L561.9 175L558.9 172.2L555.9 174.2ZM555.9 174.2L558.9 172.2L555.9 169.4L552.9 171.4ZM552.9 171.4L555.9 169.4L552.9 166.7L549.9 168.7ZM549.9 168.7L552.9 166.7L549.8 164.1L546.8 166Z" fill="#c8da3e" stroke="#c8da3e" stroke-width="0.5"/>
<path d="M387.9 156.9L391.3 155.1L388.8 153.7L385.5 155.5ZM412.3 152L415.6 150.1L413 148.6L409.7 150.5ZM427.4 149.5L430.7 147.6L428.1 146.1L424.8 147.9ZM448.5 147L451.7 145.2L448.9 143.5L445.7 145.3ZM583.8 217.8L586.8 215.6L583.7 212.2L580.7 214.4ZM514.1 148L517.1 146.1L514.2 143.9L511.1 145.8ZM580.5 203.5L583.4 201.4L580.4 198.2L577.4 200.3ZM540.9 156.4L543.8 154.4L540.9 152L537.9 153.9Z" fill="#bcdb40" stroke="#bcdb40" stroke-width="0.5"/>
<path d="M385.5 155.5L388.8 153.7L386.4 152.3L383 154.2ZM514.2 143.9L517.2 142.1L514.3 140L511.3 141.8ZM529 146.8L532 144.9L529.1 142.7L526.1 144.6ZM537.9 149.6L540.9 147.7L537.9 145.3L535 147.2ZM577 179.8L579.9 177.7L576.9 174.8L574 176.8Z" fill="#b0db42" stroke="#b0db42" stroke-width="0.5"/>
<path d="M533.6 283.7L536.8 281.3L533.6 277.4L530.3 279.8ZM533.6 277.4L536.9 275.1L533.7 271.3L530.4 273.7ZM530.7 249.7L533.9 247.4L530.8 243.9L527.5 246.2ZM475.4 184.6L478.6 182.5L475.7 180.1L472.4 182.1ZM521.5 222.7L524.7 220.5L521.6 217.3L518.3 219.5ZM509.2 205.1L512.4 203L509.3 200L506.1 202.2ZM506.1 202.2L509.3 200L506.3 197.2L503 199.3ZM503 199.3L506.3 197.2L503.2 194.3L500 196.4Z" fill="#ef913e" stroke="#ef913e" stroke-width="0.5"/>
<path d="M530.3 279.8L533.6 277.4L530.4 273.7L527.1 276.1ZM530.4 273.7L533.7 271.3L530.5 267.6L527.2 269.9ZM447.4 180.7L450.8 178.7L447.9 176.4L444.5 178.4ZM462.8 183.7L466.1 181.7L463.2 179.3L459.9 181.3ZM481.3 189.7L484.6 187.7L481.6 185.1L478.3 187.1ZM509 210.2L512.3 208.1L509.2 205.1L505.9 207.2ZM499.8 201.4L503 199.3L500 196.4L496.7 198.5ZM496.7 198.5L500 196.4L496.9 193.6L493.7 195.7Z" fill="#f08a3f" stroke="#f08a3f" stroke-width="0.5"/>
<path d="M523.8 272.3L527.2 269.9L523.9 266.2L520.6 268.6ZM517.9 241.6L521.2 239.3L518 235.9L514.7 238.2ZM474.7 193.9L478 191.8L475 189.2L471.7 191.3ZM505.6 217.6L508.9 215.4L505.7 212.4L502.5 214.5ZM490.2 202.8L493.4 200.6L490.4 197.8L487.1 199.9Z" fill="#f07b40" stroke="#f07b40" stroke-width="0.5"/>
<path d="M520.6 268.6L523.9 266.2L520.7 262.6L517.4 264.9ZM505.4 222.9L508.7 220.7L505.6 217.6L502.3 219.8Z" fill="#f07541" stroke="#f07541" stroke-width="0.5"/>
<path d="M514.2 261.3L517.5 259L514.3 255.4L511 257.7ZM505.1 233.8L508.4 231.6L505.2 228.3L501.9 230.5Z" fill="#f06942" stroke="#f06942" stroke-width="0.5"/>
<path d="M498.2 243.9L501.6 241.6L498.4 238.3L495 240.6ZM492.1 231.8L495.4 229.6L492.3 226.4L489 228.6ZM470.4 210.6L473.8 208.5L470.7 205.6L467.3 207.8Z" fill="#f15544" stroke="#f15544" stroke-width="0.5"/>
<path d="M460.9 207.2L464.3 205L461.3 202.3L457.9 204.4Z" fill="#f15144" stroke="#f15144" stroke-width="0.5"/>
<path d="M457.9 204.4L461.3 202.3L458.3 199.6L454.9 201.8ZM485.8 225.5L489.2 223.3L486.1 220.2L482.7 222.4ZM476.5 216.4L479.9 214.2L476.8 211.3L473.5 213.5ZM473.5 213.5L476.8 211.3L473.8 208.5L470.4 210.6Z" fill="#f15344" stroke="#f15344" stroke-width="0.5"/>
<path d="M448.9 196.6L452.3 194.5L449.4 192L446 194.1ZM458.3 199.6L461.7 197.5L458.7 194.9L455.3 197ZM470.7 205.6L474.1 203.5L471.1 200.8L467.7 202.9Z" fill="#f15e43" stroke="#f15e43" stroke-width="0.5"/>
<path d="M440.1 189.2L443.5 187.1L440.7 184.8L437.3 186.8ZM514.3 255.4L517.6 253.1L514.4 249.6L511.1 251.9ZM508.2 237.1L511.5 234.8L508.4 231.6L505.1 233.8ZM480.5 204.2L483.8 202.1L480.8 199.3L477.4 201.4Z" fill="#f06c41" stroke="#f06c41" stroke-width="0.5"/>
<path d="M434.4 184.5L437.8 182.5L434.9 180.3L431.5 182.3ZM477.7 196.6L481 194.5L478 191.8L474.7 193.9Z" fill="#f07840" stroke="#f07840" stroke-width="0.5"/>
<path d="M431.5 182.3L434.9 180.3L432.1 178.1L428.7 180.1ZM524 260.2L527.3 257.9L524.1 254.3L520.8 256.6ZM453.2 185.4L456.6 183.4L453.7 181L450.3 183ZM521 245L524.3 242.7L521.2 239.3L517.9 241.6ZM518 235.9L521.3 233.7L518.1 230.4L514.8 232.6ZM511.8 223.9L515.1 221.7L512 218.5L508.7 220.7Z" fill="#f07f40" stroke="#f07f40" stroke-width="0.5"/>
<path d="M420.3 173.8L423.7 171.9L420.9 169.9L417.6 171.9ZM426.5 173.9L429.9 171.9L427.1 169.9L423.7 171.9ZM432.7 174L436 172L433.2 169.9L429.9 171.9ZM438.8 174.1L442.2 172.1L439.4 170L436 172ZM537.1 251L540.3 248.7L537.2 245.2L533.9 247.4ZM466.5 177.3L469.8 175.3L466.9 173L463.6 175ZM534 236L537.3 233.7L534.1 230.4L530.9 232.6ZM531 227L534.2 224.8L531 221.6L527.8 223.8ZM524.8 215.2L528 213L524.9 209.9L521.7 212Z" fill="#ef9e3d" stroke="#ef9e3d" stroke-width="0.5"/>
<path d="M417.6 171.9L420.9 169.9L418.2 168L414.8 170ZM448.4 172.2L451.7 170.3L448.8 168.1L445.5 170.1ZM497.3 184.1L500.6 182.1L497.6 179.5L494.3 181.5Z" fill="#efa73c" stroke="#efa73c" stroke-width="0.5"/>
<path d="M414.8 170L418.2 168L415.5 166.1L412.1 168.1ZM546.6 274.1L549.9 271.8L546.7 268L543.4 270.3ZM546.7 268L549.9 265.6L546.7 261.9L543.5 264.2ZM546.7 261.9L549.9 259.6L546.7 255.9L543.5 258.2ZM464 170.7L467.3 168.7L464.4 166.5L461.1 168.5ZM479.2 173.6L482.5 171.6L479.5 169.3L476.3 171.3ZM497.6 179.5L500.7 177.5L497.8 174.9L494.6 177ZM525.1 199.6L528.2 197.5L525.1 194.6L522 196.7ZM512.8 188.1L516 186.1L513 183.3L509.8 185.4Z" fill="#efb13b" stroke="#efb13b" stroke-width="0.5"/>
<path d="M412.1 168.1L415.5 166.1L412.8 164.3L409.4 166.3ZM549.9 253.6L553.1 251.3L549.9 247.7L546.7 250ZM546.8 232.7L549.9 230.5L546.8 227.1L543.6 229.3ZM540.5 215.1L543.7 212.9L540.6 209.7L537.4 211.9ZM513 183.3L516.1 181.3L513.1 178.6L509.9 180.7Z" fill="#eeba3a" stroke="#eeba3a" stroke-width="0.5"/>
<path d="M409.4 166.3L412.8 164.3L410.2 162.6L406.8 164.5ZM443.2 164L446.5 162.1L443.7 160.1L440.4 162.1ZM449.3 164.1L452.6 162.2L449.8 160.2L446.5 162.1ZM455.4 164.2L458.7 162.3L455.8 160.2L452.6 162.2ZM553.1 239.7L556.2 237.4L553.1 233.9L549.9 236.2ZM482.8 167.3L486 165.3L483.1 163.1L479.9 165ZM549.9 224.9L553 222.7L549.9 219.4L546.8 221.6ZM546.8 216.1L549.9 214L546.8 210.8L543.7 212.9Z" fill="#eec539" stroke="#eec539" stroke-width="0.5"/>
<path d="M406.8 164.5L410.2 162.6L407.5 160.9L404.1 162.8ZM434.3 162.1L437.7 160.2L434.9 158.3L431.6 160.2ZM470.9 162.6L474.1 160.6L471.2 158.5L468 160.5ZM556.2 231.7L559.3 229.5L556.2 226.1L553.1 228.3ZM501.1 168.5L504.3 166.5L501.3 164.1L498.2 166.1ZM537.6 191.3L540.7 189.2L537.6 186.3L534.5 188.4ZM534.5 188.4L537.6 186.3L534.6 183.5L531.5 185.5ZM531.5 185.5L534.6 183.5L531.5 180.7L528.4 182.7ZM528.4 182.7L531.5 180.7L528.5 177.9L525.4 180Z" fill="#eecf38" stroke="#eecf38" stroke-width="0.5"/>
<path d="M404.1 162.8L407.5 160.9L404.9 159.2L401.5 161.1ZM501.3 164.1L504.5 162.2L501.5 159.8L498.4 161.8ZM510.4 167L513.5 165L510.5 162.6L507.4 164.6ZM549.9 198.2L553 196.1L549.9 193.1L546.8 195.1ZM522.5 172.6L525.6 170.6L522.6 168.1L519.5 170Z" fill="#ecd937" stroke="#ecd937" stroke-width="0.5"/>
<path d="M398.9 159.5L402.3 157.6L399.7 156.1L396.4 158ZM414.2 157.1L417.6 155.2L414.9 153.5L411.6 155.4ZM571.7 226.4L574.7 224.2L571.6 220.8L568.6 223ZM568.4 212L571.5 209.8L568.4 206.6L565.3 208.7ZM565.3 203.4L568.3 201.3L565.2 198.1L562.2 200.2Z" fill="#d7da3b" stroke="#d7da3b" stroke-width="0.5"/>
<path d="M396.4 158L399.7 156.1L397.2 154.6L393.8 156.5ZM426.8 153L430.1 151.2L427.4 149.5L424.2 151.4ZM448 150.7L451.2 148.8L448.5 147L445.2 148.9ZM577.9 233.4L580.9 231.2L577.8 227.7L574.8 229.9ZM574.6 213.2L577.6 211L574.5 207.7L571.5 209.8ZM562 184.9L565 182.8L562 179.9L559 181.9ZM540.8 165.3L543.8 163.4L540.8 160.8L537.8 162.8Z" fill="#ccda3d" stroke="#ccda3d" stroke-width="0.5"/>
<path d="M393.8 156.5L397.2 154.6L394.7 153.2L391.3 155.1ZM439.3 149.1L442.5 147.2L439.8 145.5L436.6 147.4ZM466.3 146.8L469.5 144.9L466.7 143.1L463.5 145ZM472.3 146.8L475.4 144.9L472.6 143.1L469.5 144.9ZM490.2 147.1L493.3 145.2L490.4 143.2L487.3 145.1ZM580.7 214.4L583.7 212.2L580.6 208.9L577.6 211ZM525.9 152.9L528.9 151L526 148.7L523 150.6ZM561.9 175L564.9 173L561.9 170.2L558.9 172.2ZM558.9 172.2L561.9 170.2L558.9 167.5L555.9 169.4ZM552.9 166.7L555.8 164.8L552.8 162.1L549.8 164.1Z" fill="#c1da3f" stroke="#c1da3f" stroke-width="0.5"/>
<path d="M391.3 155.1L394.7 153.2L392.2 151.8L388.8 153.7ZM415.6 150.1L418.9 148.3L416.3 146.8L413 148.6ZM430.7 147.6L433.9 145.8L431.3 144.2L428.1 146.1ZM517.1 146.1L520.1 144.2L517.2 142.1L514.2 143.9ZM577.1 184.8L580 182.7L577 179.8L574 181.8ZM543.8 154.4L546.8 152.5L543.9 150.1L540.9 152Z" fill="#b5db42" stroke="#b5db42" stroke-width="0.5"/>
<path d="M388.8 153.7L392.2 151.8L389.7 150.5L386.4 152.3ZM592.7 211.4L595.6 209.3L592.5 205.9L589.6 208ZM589.3 197.3L592.3 195.2L589.2 192L586.3 194.1ZM586.2 188.9L589.1 186.9L586 183.8L583.1 185.8Z" fill="#a9db44" stroke="#a9db44" stroke-width="0.5"/>
<path d="M527.2 269.9L530.5 267.6L527.2 263.9L523.9 266.2ZM521.2 239.3L524.4 237.1L521.3 233.7L518 235.9ZM478 191.8L481.3 189.7L478.3 187.1L475 189.2ZM508.9 215.4L512.1 213.3L509 210.2L505.7 212.4ZM493.4 200.6L496.7 198.5L493.7 195.7L490.4 197.8Z" fill="#f0833f" stroke="#f0833f" stroke-width="0.5"/>
<path d="M523.9 266.2L527.2 263.9L524 260.2L520.7 262.6ZM462.4 188.2L465.8 186.2L462.8 183.7L459.5 185.8ZM508.7 220.7L512 218.5L508.9 215.4L505.6 217.6Z" fill="#f07d40" stroke="#f07d40" stroke-width="0.5"/>
<path d="M517.5 259L520.8 256.6L517.6 253.1L514.3 255.4ZM508.4 231.6L511.7 229.3L508.5 226.1L505.2 228.3Z" fill="#f07141" stroke="#f07141" stroke-width="0.5"/>
<path d="M507.9 248.4L511.3 246.1L508.1 242.7L504.7 245ZM464.7 200.2L468 198.1L465 195.4L461.7 197.5ZM492.5 221.1L495.9 218.9L492.8 215.8L489.4 218ZM480.2 209.2L483.5 207L480.5 204.2L477.1 206.3Z" fill="#f16342" stroke="#f16342" stroke-width="0.5"/>
<path d="M464.3 205L467.7 202.9L464.7 200.2L461.3 202.3Z" fill="#f15943" stroke="#f15943" stroke-width="0.5"/>
<path d="M461.3 202.3L464.7 200.2L461.7 197.5L458.3 199.6ZM489.2 223.3L492.5 221.1L489.4 218L486.1 220.2ZM479.9 214.2L483.3 212.1L480.2 209.2L476.8 211.3ZM476.8 211.3L480.2 209.2L477.1 206.3L473.8 208.5Z" fill="#f15b43" stroke="#f15b43" stroke-width="0.5"/>
<path d="M452.3 194.5L455.7 192.4L452.8 189.9L449.4 192ZM461.7 197.5L465 195.4L462.1 192.8L458.7 194.9ZM474.1 203.5L477.4 201.4L474.4 198.7L471.1 200.8Z" fill="#f06642" stroke="#f06642" stroke-width="0.5"/>
<path d="M443.5 187.1L446.9 185.1L444 182.7L440.7 184.8ZM517.6 253.1L520.9 250.8L517.8 247.3L514.4 249.6ZM511.5 234.8L514.8 232.6L511.7 229.3L508.4 231.6ZM483.8 202.1L487.1 199.9L484.1 197.2L480.8 199.3Z" fill="#f07441" stroke="#f07441" stroke-width="0.5"/>
<path d="M437.8 182.5L441.2 180.5L438.3 178.2L434.9 180.3ZM481 194.5L484.3 192.4L481.3 189.7L478 191.8Z" fill="#f08040" stroke="#f08040" stroke-width="0.5"/>
<path d="M434.9 180.3L438.3 178.2L435.5 176.1L432.1 178.1ZM527.3 257.9L530.6 255.6L527.4 252L524.1 254.3ZM456.6 183.4L459.9 181.3L457 179L453.7 181ZM524.3 242.7L527.6 240.5L524.4 237.1L521.2 239.3ZM521.3 233.7L524.5 231.5L521.4 228.2L518.1 230.4Z" fill="#f0873f" stroke="#f0873f" stroke-width="0.5"/>
<path d="M423.7 171.9L427.1 169.9L424.3 167.9L420.9 169.9ZM429.9 171.9L433.2 169.9L430.4 167.9L427.1 169.9ZM436 172L439.4 170L436.6 167.9L433.2 169.9ZM442.2 172.1L445.5 170.1L442.7 168L439.4 170ZM540.3 248.7L543.5 246.4L540.4 242.9L537.2 245.2ZM469.8 175.3L473.1 173.3L470.2 171L466.9 173ZM537.3 233.7L540.4 231.5L537.3 228.2L534.1 230.4ZM534.2 224.8L537.3 222.7L534.2 219.4L531 221.6ZM528 213L531.2 210.9L528.1 207.8L524.9 209.9Z" fill="#efa63c" stroke="#efa63c" stroke-width="0.5"/>
<path d="M420.9 169.9L424.3 167.9L421.6 166L418.2 168ZM451.7 170.3L455 168.3L452.1 166.2L448.8 168.1ZM500.6 182.1L503.7 180.1L500.7 177.5L497.6 179.5Z" fill="#efaf3b" stroke="#efaf3b" stroke-width="0.5"/>
<path d="M418.2 168L421.6 166L418.9 164.2L415.5 166.1ZM549.9 271.8L553.1 269.4L549.9 265.6L546.7 268ZM549.9 265.6L553.1 263.3L549.9 259.6L546.7 261.9ZM549.9 259.6L553.1 257.3L549.9 253.6L546.7 255.9ZM467.3 168.7L470.5 166.7L467.6 164.5L464.4 166.5ZM482.5 171.6L485.7 169.6L482.8 167.3L479.5 169.3ZM543.6 223.8L546.8 221.6L543.7 218.3L540.5 220.5ZM500.7 177.5L503.9 175.5L500.9 172.9L497.8 174.9ZM531.3 200.5L534.4 198.4L531.4 195.4L528.2 197.5ZM516 186.1L519.1 184L516.1 181.3L513 183.3Z" fill="#eeb93a" stroke="#eeb93a" stroke-width="0.5"/>
<path d="M415.5 166.1L418.9 164.2L416.2 162.4L412.8 164.3ZM553.1 251.3L556.2 249.1L553.1 245.5L549.9 247.7ZM549.9 230.5L553.1 228.3L549.9 224.9L546.8 227.1ZM543.7 212.9L546.8 210.8L543.7 207.6L540.6 209.7ZM537.5 201.4L540.6 199.3L537.6 196.3L534.4 198.4ZM516.1 181.3L519.3 179.3L516.2 176.6L513.1 178.6Z" fill="#eec239" stroke="#eec239" stroke-width="0.5"/>
<path d="M412.8 164.3L416.2 162.4L413.5 160.7L410.2 162.6ZM446.5 162.1L449.8 160.2L447 158.2L443.7 160.1ZM452.6 162.2L455.8 160.2L453 158.2L449.8 160.2ZM458.7 162.3L461.9 160.3L459.1 158.3L455.8 160.2ZM556.2 237.4L559.3 235.2L556.2 231.7L553.1 233.9ZM486 165.3L489.1 163.4L486.2 161.1L483.1 163.1ZM553 222.7L556.2 220.6L553 217.3L549.9 219.4ZM549.9 214L553 211.8L549.9 208.6L546.8 210.8Z" fill="#eecd38" stroke="#eecd38" stroke-width="0.5"/>
<path d="M410.2 162.6L413.5 160.7L410.9 159L407.5 160.9ZM437.7 160.2L440.9 158.2L438.2 156.4L434.9 158.3ZM474.1 160.6L477.3 158.7L474.4 156.6L471.2 158.5ZM504.3 166.5L507.4 164.6L504.5 162.2L501.3 164.1ZM540.7 189.2L543.8 187.2L540.7 184.3L537.6 186.3ZM531.5 180.7L534.6 178.7L531.6 175.9L528.5 177.9Z" fill="#eed737" stroke="#eed737" stroke-width="0.5"/>
<path d="M404.9 159.2L408.3 157.3L405.7 155.7L402.3 157.6ZM447.5 154.4L450.7 152.5L448 150.7L444.7 152.6ZM483.6 154.9L486.8 152.9L483.9 150.9L480.8 152.8ZM513.6 160.7L516.7 158.7L513.8 156.4L510.7 158.3ZM549.9 183.1L552.9 181.1L549.9 178.2L546.8 180.2Z" fill="#dbda3a" stroke="#dbda3a" stroke-width="0.5"/>
<path d="M402.3 157.6L405.7 155.7L403.1 154.2L399.7 156.1ZM417.6 155.2L420.9 153.3L418.2 151.7L414.9 153.5ZM574.7 224.2L577.7 222.1L574.6 218.7L571.6 220.8ZM571.5 209.8L574.5 207.7L571.4 204.5L568.4 206.6ZM568.3 201.3L571.3 199.2L568.2 196L565.2 198.1Z" fill="#d0da3c" stroke="#d0da3c" stroke-width="0.5"/>
<path d="M399.7 156.1L403.1 154.2L400.5 152.7L397.2 154.6ZM430.1 151.2L433.4 149.3L430.7 147.6L427.4 149.5ZM580.9 231.2L584 229L580.9 225.5L577.8 227.7Z" fill="#c5da3e" stroke="#c5da3e" stroke-width="0.5"/>
<path d="M397.2 154.6L400.5 152.7L398 151.3L394.7 153.2ZM442.5 147.2L445.7 145.3L443.1 143.7L439.8 145.5ZM469.5 144.9L472.6 143.1L469.8 141.3L466.7 143.1ZM499.2 145.4L502.3 143.5L499.4 141.5L496.4 143.3ZM528.9 151L532 149.1L529 146.8L526 148.7ZM568 175.9L570.9 173.9L567.9 171.1L564.9 173ZM564.9 173L567.9 171.1L564.9 168.3L561.9 170.2ZM552.8 162.1L555.8 160.2L552.8 157.6L549.8 159.5Z" fill="#badb41" stroke="#badb41" stroke-width="0.5"/>
<path d="M394.7 153.2L398 151.3L395.5 149.9L392.2 151.8ZM418.9 148.3L422.2 146.4L419.6 144.9L416.3 146.8ZM433.9 145.8L437.2 143.9L434.5 142.4L431.3 144.2ZM487.6 141.3L490.7 139.4L487.9 137.5L484.8 139.4ZM493.5 141.3L496.6 139.5L493.8 137.6L490.7 139.4ZM520.1 144.2L523.2 142.4L520.2 140.2L517.2 142.1ZM580 182.7L583 180.7L579.9 177.7L577 179.8ZM567.8 166.3L570.7 164.3L567.7 161.6L564.8 163.5ZM564.8 163.5L567.7 161.6L564.7 158.9L561.8 160.9Z" fill="#aedb43" stroke="#aedb43" stroke-width="0.5"/>
<path d="M392.2 151.8L395.5 149.9L393 148.6L389.7 150.5ZM595.6 209.3L598.5 207.2L595.5 203.8L592.5 205.9ZM592.3 195.2L595.2 193.2L592.1 190L589.2 192ZM589.1 186.9L592 184.8L588.9 181.8L586 183.8ZM552.7 148.7L555.7 146.8L552.7 144.4L549.8 146.3Z" fill="#a2db45" stroke="#a2db45" stroke-width="0.5"/>
<path d="M533.7 271.3L537 268.9L533.7 265.2L530.5 267.6ZM450.8 178.7L454.1 176.7L451.2 174.4L447.9 176.4ZM466.1 181.7L469.4 179.7L466.5 177.3L463.2 179.3ZM484.6 187.7L487.9 185.6L484.9 183L481.6 185.1ZM512.3 208.1L515.5 205.9L512.4 203L509.2 205.1ZM500 196.4L503.2 194.3L500.2 191.6L496.9 193.6Z" fill="#ef923e" stroke="#ef923e" stroke-width="0.5"/>
<path d="M530.5 267.6L533.7 265.2L530.5 261.5L527.2 263.9Z" fill="#f08b3e" stroke="#f08b3e" stroke-width="0.5"/>
<path d="M527.2 263.9L530.5 261.5L527.3 257.9L524 260.2ZM465.8 186.2L469.1 184.1L466.1 181.7L462.8 183.7ZM512 218.5L515.2 216.4L512.1 213.3L508.9 215.4Z" fill="#f0853f" stroke="#f0853f" stroke-width="0.5"/>
<path d="M520.8 256.6L524.1 254.3L520.9 250.8L517.6 253.1ZM465.4 190.8L468.7 188.7L465.8 186.2L462.4 188.2ZM511.7 229.3L515 227.1L511.8 223.9L508.5 226.1Z" fill="#f07940" stroke="#f07940" stroke-width="0.5"/>
<path d="M446.9 185.1L450.3 183L447.4 180.7L444 182.7ZM520.9 250.8L524.2 248.5L521 245L517.8 247.3ZM514.8 232.6L518.1 230.4L515 227.1L511.7 229.3ZM487.1 199.9L490.4 197.8L487.4 195.1L484.1 197.2Z" fill="#f07c40" stroke="#f07c40" stroke-width="0.5"/>
<path d="M441.2 180.5L444.5 178.4L441.7 176.2L438.3 178.2ZM484.3 192.4L487.6 190.3L484.6 187.7L481.3 189.7Z" fill="#f0883f" stroke="#f0883f" stroke-width="0.5"/>
<path d="M427.1 169.9L430.4 167.9L427.7 166L424.3 167.9ZM433.2 169.9L436.6 167.9L433.8 166L430.4 167.9ZM445.5 170.1L448.8 168.1L446 166.1L442.7 168ZM543.5 246.4L546.7 244.2L543.6 240.6L540.4 242.9ZM473.1 173.3L476.3 171.3L473.4 169L470.2 171ZM540.4 231.5L543.6 229.3L540.5 226L537.3 228.2ZM537.3 222.7L540.5 220.5L537.4 217.2L534.2 219.4Z" fill="#efae3b" stroke="#efae3b" stroke-width="0.5"/>
<path d="M421.6 166L424.9 164.1L422.2 162.3L418.9 164.2ZM553.1 269.4L556.3 267.1L553.1 263.3L549.9 265.6ZM553.1 263.3L556.2 261L553.1 257.3L549.9 259.6ZM485.7 169.6L488.9 167.7L486 165.3L482.8 167.3ZM494.8 172.5L498 170.5L495 168.1L491.8 170ZM531.4 195.4L534.5 193.3L531.4 190.4L528.3 192.5ZM528.3 192.5L531.4 190.4L528.4 187.6L525.2 189.6ZM522.2 186.8L525.3 184.8L522.3 182L519.1 184Z" fill="#eec039" stroke="#eec039" stroke-width="0.5"/>
<path d="M418.9 164.2L422.2 162.3L419.5 160.5L416.2 162.4ZM556.2 249.1L559.4 246.8L556.2 243.2L553.1 245.5ZM553.1 228.3L556.2 226.1L553 222.7L549.9 224.9ZM540.6 199.3L543.7 197.2L540.7 194.2L537.6 196.3ZM519.3 179.3L522.4 177.3L519.4 174.6L516.2 176.6Z" fill="#eeca38" stroke="#eeca38" stroke-width="0.5"/>
<path d="M416.2 162.4L419.5 160.5L416.9 158.7L413.5 160.7ZM449.8 160.2L453 158.2L450.2 156.3L447 158.2ZM455.8 160.2L459.1 158.3L456.3 156.3L453 158.2ZM461.9 160.3L465.1 158.4L462.3 156.4L459.1 158.3ZM489.1 163.4L492.3 161.4L489.4 159.2L486.2 161.1ZM556.2 220.6L559.2 218.4L556.1 215.1L553 217.3ZM516.4 172L519.5 170L516.5 167.5L513.4 169.5Z" fill="#eed537" stroke="#eed537" stroke-width="0.5"/>
<path d="M413.5 160.7L416.9 158.7L414.2 157.1L410.9 159ZM565.7 260.1L568.9 257.8L565.7 254.1L562.6 256.4ZM565.7 254.1L568.8 251.8L565.7 248.1L562.5 250.4ZM565.7 248.1L568.8 245.9L565.6 242.3L562.5 244.5ZM483.3 158.9L486.5 157L483.6 154.9L480.5 156.8ZM498.4 161.8L501.5 159.8L498.6 157.6L495.5 159.5ZM559.2 213L562.3 210.8L559.2 207.6L556.1 209.7ZM516.5 167.5L519.6 165.5L516.6 163.1L513.5 165ZM546.8 190.1L549.9 188L546.8 185.1L543.8 187.2ZM531.6 175.9L534.7 173.9L531.7 171.3L528.6 173.3Z" fill="#e8d938" stroke="#e8d938" stroke-width="0.5"/>
<path d="M408.3 157.3L411.6 155.4L409 153.9L405.7 155.7ZM450.7 152.5L453.9 150.6L451.2 148.8L448 150.7ZM575.1 253.2L578.1 251L575 247.3L571.9 249.5ZM575 247.3L578.1 245L574.9 241.4L571.9 243.6ZM574.9 241.4L578 239.2L574.9 235.6L571.8 237.8ZM507.8 156L510.8 154L507.9 151.8L504.8 153.7ZM568.4 206.6L571.4 204.5L568.3 201.3L565.3 203.4ZM525.7 161.6L528.8 159.7L525.8 157.2L522.8 159.2ZM556 184L559 181.9L555.9 179L552.9 181.1ZM540.8 170L543.8 168L540.8 165.3L537.8 167.3Z" fill="#d4da3c" stroke="#d4da3c" stroke-width="0.5"/>
<path d="M405.7 155.7L409 153.9L406.4 152.3L403.1 154.2ZM420.9 153.3L424.2 151.4L421.5 149.8L418.2 151.7ZM475.1 148.7L478.2 146.9L475.4 144.9L472.3 146.8ZM507.9 151.8L511 149.9L508.1 147.7L505 149.6ZM534.8 160.2L537.8 158.3L534.9 155.8L531.8 157.7Z" fill="#c9da3e" stroke="#c9da3e" stroke-width="0.5"/>
<path d="M403.1 154.2L406.4 152.3L403.9 150.9L400.5 152.7Z" fill="#beda40" stroke="#beda40" stroke-width="0.5"/>
<path d="M400.5 152.7L403.9 150.9L401.3 149.5L398 151.3ZM445.7 145.3L448.9 143.5L446.3 141.8L443.1 143.7ZM472.6 143.1L475.7 141.2L473 139.4L469.8 141.3ZM502.3 143.5L505.4 141.6L502.5 139.6L499.4 141.5ZM523.1 146.4L526.1 144.6L523.2 142.4L520.1 144.2ZM583.3 196.1L586.3 194.1L583.2 190.9L580.3 193ZM540.9 152L543.9 150.1L540.9 147.7L537.9 149.6ZM570.9 173.9L573.9 171.9L570.8 169.1L567.9 171.1ZM555.8 160.2L558.8 158.2L555.8 155.6L552.8 157.6Z" fill="#b3db42" stroke="#b3db42" stroke-width="0.5"/>
<path d="M398 151.3L401.3 149.5L398.8 148.1L395.5 149.9ZM422.2 146.4L425.4 144.5L422.8 143.1L419.6 144.9ZM437.2 143.9L440.4 142.1L437.7 140.5L434.5 142.4ZM484.8 139.4L487.9 137.5L485.1 135.7L482 137.5ZM490.7 139.4L493.8 137.6L490.9 135.7L487.9 137.5ZM496.6 139.5L499.7 137.6L496.8 135.7L493.8 137.6ZM502.5 139.6L505.5 137.7L502.7 135.8L499.7 137.6ZM592.5 205.9L595.5 203.8L592.4 200.5L589.5 202.6ZM573.8 167.1L576.7 165.1L573.7 162.4L570.7 164.3ZM570.7 164.3L573.7 162.4L570.6 159.7L567.7 161.6ZM567.7 161.6L570.6 159.7L567.6 157L564.7 158.9ZM564.7 158.9L567.6 157L564.6 154.4L561.7 156.3Z" fill="#a7db44" stroke="#a7db44" stroke-width="0.5"/>
<path d="M395.5 149.9L398.8 148.1L396.3 146.8L393 148.6ZM598.5 207.2L601.5 205.1L598.4 201.7L595.5 203.8ZM529.1 138.6L532.1 136.8L529.2 134.6L526.2 136.5ZM588.8 176.7L591.7 174.7L588.7 171.8L585.8 173.8ZM555.7 146.8L558.6 144.9L555.6 142.5L552.7 144.4Z" fill="#9bdc46" stroke="#9bdc46" stroke-width="0.5"/>
<path d="M537 268.9L540.2 266.6L537 262.9L533.7 265.2ZM454.1 176.7L457.4 174.7L454.5 172.4L451.2 174.4ZM530.9 232.6L534.1 230.4L531 227L527.7 229.2ZM487.9 185.6L491.1 183.6L488.1 181L484.9 183ZM518.6 209L521.8 206.8L518.7 203.8L515.5 205.9ZM503.2 194.3L506.4 192.3L503.4 189.5L500.2 191.6Z" fill="#ef9a3d" stroke="#ef9a3d" stroke-width="0.5"/>
<path d="M533.7 265.2L537 262.9L533.8 259.2L530.5 261.5ZM527.7 234.8L530.9 232.6L527.7 229.2L524.5 231.5ZM524.6 226L527.8 223.8L524.7 220.5L521.5 222.7ZM515.3 211.1L518.6 209L515.5 205.9L512.3 208.1Z" fill="#ef933e" stroke="#ef933e" stroke-width="0.5"/>
<path d="M530.5 261.5L533.8 259.2L530.6 255.6L527.3 257.9ZM469.1 184.1L472.4 182.1L469.4 179.7L466.1 181.7ZM490.6 193L493.9 190.9L490.9 188.2L487.6 190.3Z" fill="#f08d3e" stroke="#f08d3e" stroke-width="0.5"/>
<path d="M450.3 183L453.7 181L450.8 178.7L447.4 180.7ZM524.2 248.5L527.5 246.2L524.3 242.7L521 245ZM518.1 230.4L521.4 228.2L518.2 224.9L515 227.1ZM490.4 197.8L493.7 195.7L490.6 193L487.4 195.1Z" fill="#f0843f" stroke="#f0843f" stroke-width="0.5"/>
<path d="M444.5 178.4L447.9 176.4L445 174.2L441.7 176.2ZM487.6 190.3L490.9 188.2L487.9 185.6L484.6 187.7Z" fill="#ef903e" stroke="#ef903e" stroke-width="0.5"/>
<path d="M430.4 167.9L433.8 166L431 164L427.7 166ZM436.6 167.9L439.9 166L437.1 164L433.8 166ZM448.8 168.1L452.1 166.2L449.3 164.1L446 166.1ZM455 168.3L458.2 166.3L455.4 164.2L452.1 166.2ZM476.3 171.3L479.5 169.3L476.6 167L473.4 169ZM543.6 229.3L546.8 227.1L543.6 223.8L540.5 226ZM540.5 220.5L543.7 218.3L540.5 215.1L537.4 217.2ZM503.7 180.1L506.9 178L503.9 175.5L500.7 177.5Z" fill="#efb63a" stroke="#efb63a" stroke-width="0.5"/>
<path d="M424.9 164.1L428.3 162.1L425.6 160.3L422.2 162.3ZM556.3 267.1L559.4 264.7L556.2 261L553.1 263.3ZM556.2 261L559.4 258.7L556.2 255L553.1 257.3ZM488.9 167.7L492.1 165.7L489.1 163.4L486 165.3ZM534.5 193.3L537.6 191.3L534.5 188.4L531.4 190.4ZM522.3 182L525.4 180L522.4 177.3L519.3 179.3Z" fill="#eec839" stroke="#eec839" stroke-width="0.5"/>
<path d="M422.2 162.3L425.6 160.3L422.9 158.5L419.5 160.5ZM483.1 163.1L486.2 161.1L483.3 158.9L480.2 160.9ZM543.7 197.2L546.8 195.1L543.8 192.2L540.7 194.2Z" fill="#eed238" stroke="#eed238" stroke-width="0.5"/>
<path d="M419.5 160.5L422.9 158.5L420.2 156.8L416.9 158.7ZM459.1 158.3L462.3 156.4L459.5 154.4L456.3 156.3ZM492.3 161.4L495.5 159.5L492.6 157.3L489.4 159.2ZM559.2 218.4L562.3 216.3L559.2 213L556.1 215.1Z" fill="#ebd938" stroke="#ebd938" stroke-width="0.5"/>
<path d="M416.9 158.7L420.2 156.8L417.6 155.2L414.2 157.1ZM438.2 156.4L441.5 154.5L438.7 152.7L435.5 154.6ZM568.9 257.8L572 255.5L568.8 251.8L565.7 254.1ZM568.8 251.8L571.9 249.5L568.8 245.9L565.7 248.1ZM568.8 245.9L571.9 243.6L568.7 240L565.6 242.3ZM486.5 157L489.7 155.1L486.8 152.9L483.6 154.9ZM501.5 159.8L504.7 157.9L501.7 155.6L498.6 157.6ZM562.3 210.8L565.3 208.7L562.2 205.5L559.2 207.6ZM559.1 202.3L562.2 200.2L559.1 197.1L556.1 199.2ZM519.6 165.5L522.7 163.6L519.7 161.1L516.6 163.1ZM549.9 188L552.9 186L549.9 183.1L546.8 185.1Z" fill="#e1d939" stroke="#e1d939" stroke-width="0.5"/>
<path d="M411.6 155.4L414.9 153.5L412.3 152L409 153.9ZM453.9 150.6L457.2 148.7L454.4 146.9L451.2 148.8ZM578.1 251L581.2 248.7L578.1 245L575 247.3ZM578.1 245L581.1 242.8L578 239.2L574.9 241.4ZM578 239.2L581 237L577.9 233.4L574.9 235.6ZM495.9 151.2L499 149.3L496.1 147.2L493 149.1ZM510.8 154L513.9 152.1L511 149.9L507.9 151.8ZM571.4 204.5L574.4 202.4L571.3 199.2L568.3 201.3ZM568.2 196L571.2 194L568.2 190.9L565.2 193ZM528.8 159.7L531.8 157.7L528.9 155.3L525.8 157.2ZM559 181.9L562 179.9L559 177L555.9 179Z" fill="#cdda3d" stroke="#cdda3d" stroke-width="0.5"/>
<path d="M409 153.9L412.3 152L409.7 150.5L406.4 152.3ZM424.2 151.4L427.4 149.5L424.8 147.9L421.5 149.8ZM478.2 146.9L481.4 145L478.5 143.1L475.4 144.9ZM484.2 146.9L487.3 145.1L484.5 143.1L481.4 145ZM511 149.9L514.1 148L511.1 145.8L508.1 147.7ZM571.2 188.8L574.1 186.8L571.1 183.8L568.1 185.8ZM537.8 158.3L540.9 156.4L537.9 153.9L534.9 155.8ZM555.9 169.4L558.9 167.5L555.8 164.8L552.9 166.7Z" fill="#c2da3f" stroke="#c2da3f" stroke-width="0.5"/>
<path d="M403.9 150.9L407.2 149L404.6 147.6L401.3 149.5ZM593.3 239.8L596.3 237.6L593.2 233.9L590.2 236.1ZM593.2 233.9L596.1 231.8L593.1 228.2L590.1 230.4ZM593.1 228.2L596 226L592.9 222.5L590 224.7ZM505.4 141.6L508.4 139.8L505.5 137.7L502.5 139.6ZM526.1 144.6L529.1 142.7L526.2 140.5L523.2 142.4ZM586.3 194.1L589.2 192L586.2 188.9L583.2 190.9ZM583.1 185.8L586 183.8L583 180.7L580 182.7ZM543.9 150.1L546.8 148.2L543.9 145.8L540.9 147.7ZM555.8 155.6L558.7 153.7L555.7 151.2L552.8 153.1Z" fill="#acdb43" stroke="#acdb43" stroke-width="0.5"/>
<path d="M401.3 149.5L404.6 147.6L402.1 146.3L398.8 148.1ZM425.4 144.5L428.7 142.7L426.1 141.2L422.8 143.1ZM440.4 142.1L443.6 140.3L440.9 138.7L437.7 140.5ZM487.9 137.5L490.9 135.7L488.1 133.9L485.1 135.7ZM493.8 137.6L496.8 135.7L494 133.8L490.9 135.7ZM499.7 137.6L502.7 135.8L499.9 133.9L496.8 135.7ZM505.5 137.7L508.6 135.9L505.7 134L502.7 135.8ZM595.5 203.8L598.4 201.7L595.3 198.5L592.4 200.5ZM540.9 143.5L543.9 141.6L540.9 139.3L538 141.2ZM576.7 165.1L579.6 163.2L576.6 160.4L573.7 162.4ZM567.6 157L570.6 155.1L567.6 152.4L564.6 154.4Z" fill="#a0db45" stroke="#a0db45" stroke-width="0.5"/>
<path d="M398.8 148.1L402.1 146.3L399.6 145L396.3 146.8ZM467.5 136L470.6 134.1L467.8 132.5L464.7 134.3ZM532.1 136.8L535.1 134.9L532.2 132.8L529.2 134.6ZM591.7 174.7L594.6 172.8L591.5 169.8L588.7 171.8ZM579.5 158.5L582.3 156.6L579.3 153.9L576.5 155.8ZM576.5 155.8L579.3 153.9L576.3 151.2L573.5 153.1Z" fill="#94dc48" stroke="#94dc48" stroke-width="0.5"/>
<path d="M537 262.9L540.3 260.5L537.1 256.9L533.8 259.2ZM534 241.7L537.2 239.4L534 236L530.8 238.2ZM527.8 223.8L531 221.6L527.9 218.3L524.7 220.5ZM500.2 191.6L503.4 189.5L500.4 186.8L497.1 188.9Z" fill="#ef9b3d" stroke="#ef9b3d" stroke-width="0.5"/>
<path d="M533.8 259.2L537.1 256.9L533.9 253.3L530.6 255.6ZM457 179L460.3 177L457.4 174.7L454.1 176.7ZM530.8 243.9L534 241.7L530.8 238.2L527.6 240.5ZM518.5 214.2L521.7 212L518.6 209L515.3 211.1ZM496.9 193.6L500.2 191.6L497.1 188.9L493.9 190.9Z" fill="#ef943e" stroke="#ef943e" stroke-width="0.5"/>
<path d="M499 222L502.3 219.8L499.2 216.7L495.9 218.9Z" fill="#f06c42" stroke="#f06c42" stroke-width="0.5"/>
<path d="M453.7 181L457 179L454.1 176.7L450.8 178.7ZM527.5 246.2L530.8 243.9L527.6 240.5L524.3 242.7ZM521.4 228.2L524.6 226L521.5 222.7L518.2 224.9ZM515.2 216.4L518.5 214.2L515.3 211.1L512.1 213.3ZM493.7 195.7L496.9 193.6L493.9 190.9L490.6 193Z" fill="#f08c3e" stroke="#f08c3e" stroke-width="0.5"/>
<path d="M447.9 176.4L451.2 174.4L448.4 172.2L445 174.2ZM524.7 220.5L527.9 218.3L524.8 215.2L521.6 217.3Z" fill="#ef983d" stroke="#ef983d" stroke-width="0.5"/>
<path d="M433.8 166L437.1 164L434.3 162.1L431 164ZM452.1 166.2L455.4 164.2L452.6 162.2L449.3 164.1ZM458.2 166.3L461.5 164.4L458.7 162.3L455.4 164.2ZM479.5 169.3L482.8 167.3L479.9 165L476.6 167ZM506.9 178L510.1 176L507.1 173.5L503.9 175.5Z" fill="#eebe3a" stroke="#eebe3a" stroke-width="0.5"/>
<path d="M428.3 162.1L431.6 160.2L428.9 158.4L425.6 160.3ZM559.4 264.7L562.6 262.4L559.4 258.7L556.2 261ZM559.4 258.7L562.6 256.4L559.4 252.7L556.2 255ZM559.4 252.7L562.5 250.4L559.4 246.8L556.2 249.1ZM477 162.8L480.2 160.9L477.3 158.7L474.1 160.6ZM492.1 165.7L495.2 163.7L492.3 161.4L489.1 163.4ZM553 217.3L556.1 215.1L553 211.8L549.9 214ZM510.2 171.5L513.4 169.5L510.4 167L507.3 169ZM540.7 194.2L543.8 192.2L540.7 189.2L537.6 191.3ZM525.4 180L528.5 177.9L525.5 175.3L522.4 177.3Z" fill="#eed038" stroke="#eed038" stroke-width="0.5"/>
<path d="M422.9 158.5L426.2 156.6L423.5 154.9L420.2 156.8ZM462.3 156.4L465.5 154.4L462.7 152.5L459.5 154.4ZM468.4 156.5L471.6 154.5L468.7 152.5L465.5 154.4ZM565.5 230.8L568.6 228.6L565.5 225.1L562.4 227.3ZM495.5 159.5L498.6 157.6L495.7 155.3L492.6 157.3ZM562.3 216.3L565.4 214.1L562.3 210.8L559.2 213ZM559.2 207.6L562.2 205.5L559.1 202.3L556.1 204.4ZM522.6 168.1L525.7 166.1L522.7 163.6L519.6 165.5Z" fill="#e4d939" stroke="#e4d939" stroke-width="0.5"/>
<path d="M414.9 153.5L418.2 151.7L415.6 150.1L412.3 152ZM581.2 248.7L584.2 246.5L581.1 242.8L578.1 245ZM581.1 242.8L584.1 240.6L581 237L578 239.2ZM581 237L584.1 234.8L580.9 231.2L577.9 233.4ZM499 149.3L502.1 147.5L499.2 145.4L496.1 147.2ZM577.6 211L580.6 208.9L577.5 205.6L574.5 207.7ZM571.2 194L574.2 191.9L571.2 188.8L568.2 190.9ZM565 182.8L568 180.8L565 177.9L562 179.9ZM543.8 163.4L546.8 161.4L543.8 158.9L540.8 160.8Z" fill="#c6da3e" stroke="#c6da3e" stroke-width="0.5"/>
<path d="M409.7 150.5L413 148.6L410.5 147.2L407.2 149ZM424.8 147.9L428.1 146.1L425.4 144.5L422.2 146.4ZM439.8 145.5L443.1 143.7L440.4 142.1L437.2 143.9ZM460.8 143.2L463.9 141.3L461.2 139.6L458 141.5ZM589.8 219L592.8 216.9L589.7 213.5L586.8 215.6ZM549.8 155L552.8 153.1L549.8 150.6L546.8 152.5Z" fill="#b1db42" stroke="#b1db42" stroke-width="0.5"/>
<path d="M407.2 149L410.5 147.2L407.9 145.8L404.6 147.6ZM473 139.4L476.1 137.6L473.3 135.8L470.2 137.7ZM596.3 237.6L599.2 235.4L596.1 231.8L593.2 233.9ZM596 226L599 223.9L595.9 220.4L592.9 222.5ZM514.3 140L517.3 138.1L514.5 136.1L511.4 137.9ZM592.4 200.5L595.3 198.5L592.3 195.2L589.3 197.3ZM579.8 172.8L582.7 170.8L579.7 168L576.8 169.9ZM558.7 153.7L561.6 151.8L558.7 149.3L555.7 151.2Z" fill="#a5db45" stroke="#a5db45" stroke-width="0.5"/>
<path d="M404.6 147.6L407.9 145.8L405.4 144.4L402.1 146.3ZM428.7 142.7L431.9 140.9L429.3 139.4L426.1 141.2ZM443.6 140.3L446.8 138.4L444.1 136.9L440.9 138.7ZM490.9 135.7L494 133.8L491.2 132L488.1 133.9ZM508.6 135.9L511.6 134.1L508.7 132.1L505.7 134ZM514.5 136.1L517.5 134.2L514.6 132.2L511.6 134.1ZM595 187.9L597.9 185.9L594.9 182.8L592 184.8ZM543.9 141.6L546.8 139.7L543.9 137.5L540.9 139.3ZM552.7 144.4L555.6 142.5L552.7 140.2L549.8 142ZM582.6 166L585.5 164L582.5 161.2L579.6 163.2ZM567.6 152.4L570.5 150.5L567.5 148L564.6 149.9Z" fill="#99dc47" stroke="#99dc47" stroke-width="0.5"/>
<path d="M402.1 146.3L405.4 144.4L402.9 143.1L399.6 145ZM470.6 134.1L473.7 132.3L470.9 130.7L467.8 132.5ZM604.2 197.6L607.1 195.5L604 192.3L601.1 194.3ZM585.4 159.3L588.2 157.4L585.2 154.6L582.3 156.6ZM582.3 156.6L585.2 154.6L582.2 152L579.3 153.9ZM579.3 153.9L582.2 152L579.2 149.3L576.3 151.2ZM576.3 151.2L579.2 149.3L576.2 146.7L573.4 148.6Z" fill="#8ddc49" stroke="#8ddc49" stroke-width="0.5"/>
<path d="M543.5 264.2L546.7 261.9L543.5 258.2L540.3 260.5ZM537.3 228.2L540.5 226L537.3 222.7L534.2 224.8ZM494.3 181.5L497.6 179.5L494.6 177L491.4 179ZM525 204.7L528.1 202.6L525.1 199.6L521.9 201.7ZM509.6 190.2L512.8 188.1L509.8 185.4L506.6 187.4Z" fill="#efaa3c" stroke="#efaa3c" stroke-width="0.5"/>
<path d="M540.3 260.5L543.5 258.2L540.3 254.6L537.1 256.9ZM537.2 239.4L540.4 237.2L537.3 233.7L534 236ZM531 221.6L534.2 219.4L531.1 216.2L527.9 218.3ZM503.4 189.5L506.6 187.4L503.6 184.7L500.4 186.8Z" fill="#efa33c" stroke="#efa33c" stroke-width="0.5"/>
<path d="M537.1 256.9L540.3 254.6L537.1 251L533.9 253.3ZM460.3 177L463.6 175L460.7 172.7L457.4 174.7ZM521.7 212L524.9 209.9L521.8 206.8L518.6 209Z" fill="#ef9c3d" stroke="#ef9c3d" stroke-width="0.5"/>
<path d="M451.2 174.4L454.5 172.4L451.7 170.3L448.4 172.2ZM537.2 245.2L540.4 242.9L537.2 239.4L534 241.7ZM527.9 218.3L531.1 216.2L528 213L524.8 215.2Z" fill="#efa03c" stroke="#efa03c" stroke-width="0.5"/>
<path d="M437.1 164L440.4 162.1L437.7 160.2L434.3 162.1ZM461.5 164.4L464.8 162.4L461.9 160.3L458.7 162.3ZM510.1 176L513.2 174L510.2 171.5L507.1 173.5Z" fill="#eec639" stroke="#eec639" stroke-width="0.5"/>
<path d="M431.6 160.2L434.9 158.3L432.2 156.5L428.9 158.4ZM562.6 262.4L565.7 260.1L562.6 256.4L559.4 258.7ZM562.6 256.4L565.7 254.1L562.5 250.4L559.4 252.7ZM562.5 250.4L565.7 248.1L562.5 244.5L559.4 246.8ZM480.2 160.9L483.3 158.9L480.5 156.8L477.3 158.7ZM495.2 163.7L498.4 161.8L495.5 159.5L492.3 161.4ZM556.1 215.1L559.2 213L556.1 209.7L553 211.8ZM513.4 169.5L516.5 167.5L513.5 165L510.4 167ZM543.8 192.2L546.8 190.1L543.8 187.2L540.7 189.2ZM528.5 177.9L531.6 175.9L528.6 173.3L525.5 175.3Z" fill="#eed837" stroke="#eed837" stroke-width="0.5"/>
<path d="M428.9 158.4L432.2 156.5L429.5 154.7L426.2 156.6ZM565.6 236.5L568.7 234.3L565.5 230.8L562.4 233ZM489.4 159.2L492.6 157.3L489.7 155.1L486.5 157Z" fill="#e6d938" stroke="#e6d938" stroke-width="0.5"/>
<path d="M426.2 156.6L429.5 154.7L426.8 153L423.5 154.9ZM459.5 154.4L462.7 152.5L459.9 150.6L456.7 152.5ZM465.5 154.4L468.7 152.5L465.9 150.6L462.7 152.5ZM471.6 154.5L474.7 152.6L471.9 150.6L468.7 152.5ZM525.7 166.1L528.7 164.1L525.7 161.6L522.7 163.6Z" fill="#ddda3a" stroke="#ddda3a" stroke-width="0.5"/>
<path d="M418.2 151.7L421.5 149.8L418.9 148.3L415.6 150.1ZM433.4 149.3L436.6 147.4L433.9 145.8L430.7 147.6ZM584.1 234.8L587.1 232.6L584 229L580.9 231.2ZM584 229L587 226.8L583.9 223.3L580.9 225.5ZM502.1 147.5L505.2 145.6L502.3 143.5L499.2 145.4ZM580.6 208.9L583.6 206.8L580.5 203.5L577.5 205.6ZM574.2 191.9L577.2 189.9L574.1 186.8L571.2 188.8ZM568 180.8L571 178.8L568 175.9L565 177.9ZM546.8 161.4L549.8 159.5L546.8 156.9L543.8 158.9Z" fill="#bfda40" stroke="#bfda40" stroke-width="0.5"/>
<path d="M413 148.6L416.3 146.8L413.8 145.3L410.5 147.2ZM428.1 146.1L431.3 144.2L428.7 142.7L425.4 144.5ZM443.1 143.7L446.3 141.8L443.6 140.3L440.4 142.1ZM463.9 141.3L467.1 139.5L464.3 137.8L461.2 139.6ZM592.8 216.9L595.8 214.8L592.7 211.4L589.7 213.5ZM517.2 142.1L520.2 140.2L517.3 138.1L514.3 140ZM532 144.9L535 143L532.1 140.8L529.1 142.7ZM540.9 147.7L543.9 145.8L540.9 143.5L537.9 145.3ZM579.9 177.7L582.9 175.7L579.8 172.8L576.9 174.8ZM552.8 153.1L555.7 151.2L552.7 148.7L549.8 150.6Z" fill="#aadb44" stroke="#aadb44" stroke-width="0.5"/>
<path d="M410.5 147.2L413.8 145.3L411.2 143.9L407.9 145.8ZM476.1 137.6L479.2 135.7L476.4 134L473.3 135.8ZM599.2 235.4L602.2 233.2L599.1 229.6L596.1 231.8ZM599 223.9L601.9 221.7L598.8 218.2L595.9 220.4ZM598.8 218.2L601.8 216.1L598.7 212.7L595.8 214.8ZM517.3 138.1L520.4 136.3L517.5 134.2L514.5 136.1ZM595.3 198.5L598.2 196.4L595.2 193.2L592.3 195.2ZM582.7 170.8L585.6 168.9L582.6 166L579.7 168Z" fill="#9edc46" stroke="#9edc46" stroke-width="0.5"/>
<path d="M407.9 145.8L411.2 143.9L408.7 142.6L405.4 144.4ZM431.9 140.9L435.1 139L432.5 137.6L429.3 139.4ZM446.8 138.4L449.9 136.6L447.3 135.1L444.1 136.9ZM488.1 133.9L491.2 132L488.4 130.3L485.3 132.1ZM494 133.8L497 132L494.2 130.2L491.2 132ZM517.5 134.2L520.5 132.4L517.6 130.4L514.6 132.2ZM538 137.1L540.9 135.2L538 133.1L535.1 134.9ZM597.9 185.9L600.8 183.9L597.8 180.8L594.9 182.8ZM594.7 177.7L597.6 175.7L594.6 172.8L591.7 174.7ZM555.6 142.5L558.6 140.6L555.6 138.3L552.7 140.2ZM567.5 148L570.4 146.1L567.4 143.6L564.5 145.5Z" fill="#92dc48" stroke="#92dc48" stroke-width="0.5"/>
<path d="M405.4 144.4L408.7 142.6L406.2 141.3L402.9 143.1ZM473.7 132.3L476.7 130.5L474 128.9L470.9 130.7ZM505.9 130.2L508.9 128.4L506.1 126.6L503.1 128.4ZM511.7 130.3L514.7 128.5L511.9 126.6L508.9 128.4ZM607.1 195.5L609.9 193.5L606.9 190.2L604 192.3ZM552.7 136L555.6 134.2L552.6 131.9L549.7 133.8ZM591.2 160.2L594.1 158.2L591.1 155.5L588.2 157.4ZM588.2 157.4L591.1 155.5L588.1 152.7L585.2 154.6ZM576.2 146.7L579.1 144.9L576.1 142.3L573.2 144.2Z" fill="#86dc4a" stroke="#86dc4a" stroke-width="0.5"/>
<path d="M540.3 254.6L543.5 252.3L540.3 248.7L537.1 251ZM463.6 175L466.9 173L464 170.7L460.7 172.7ZM524.9 209.9L528.1 207.8L525 204.7L521.8 206.8Z" fill="#efa43c" stroke="#efa43c" stroke-width="0.5"/>
<path d="M524.4 237.1L527.7 234.8L524.5 231.5L521.3 233.7ZM512.1 213.3L515.3 211.1L512.3 208.1L509 210.2Z" fill="#f08b3f" stroke="#f08b3f" stroke-width="0.5"/>
<path d="M454.5 172.4L457.8 170.4L455 168.3L451.7 170.3ZM540.4 242.9L543.6 240.6L540.4 237.2L537.2 239.4ZM485.1 178.5L488.4 176.5L485.4 174L482.2 176ZM531.1 216.2L534.3 214L531.2 210.9L528 213ZM518.8 198.7L522 196.7L518.9 193.8L515.7 195.8ZM515.7 195.8L518.9 193.8L515.9 190.9L512.7 193Z" fill="#efa83c" stroke="#efa83c" stroke-width="0.5"/>
<path d="M434.9 158.3L438.2 156.4L435.5 154.6L432.2 156.5ZM565.6 242.3L568.7 240L565.6 236.5L562.5 238.7ZM562.4 221.8L565.4 219.6L562.3 216.3L559.2 218.4ZM556.1 204.4L559.1 202.3L556.1 199.2L553 201.3ZM549.9 193.1L553 191L549.9 188L546.8 190.1ZM528.6 173.3L531.7 171.3L528.7 168.7L525.6 170.6Z" fill="#e7d938" stroke="#e7d938" stroke-width="0.5"/>
<path d="M432.2 156.5L435.5 154.6L432.8 152.8L429.5 154.7ZM568.7 234.3L571.7 232.1L568.6 228.6L565.5 230.8ZM492.6 157.3L495.7 155.3L492.8 153.2L489.7 155.1ZM507.6 160.2L510.7 158.3L507.8 156L504.7 157.9ZM516.6 163.1L519.7 161.1L516.7 158.7L513.6 160.7ZM528.7 168.7L531.7 166.7L528.7 164.1L525.7 166.1Z" fill="#dfd93a" stroke="#dfd93a" stroke-width="0.5"/>
<path d="M421.5 149.8L424.8 147.9L422.2 146.4L418.9 148.3ZM436.6 147.4L439.8 145.5L437.2 143.9L433.9 145.8ZM587 226.8L590 224.7L586.9 221.2L583.9 223.3ZM583.6 206.8L586.5 204.7L583.4 201.4L580.5 203.5ZM571 178.8L574 176.8L570.9 173.9L568 175.9Z" fill="#b8db41" stroke="#b8db41" stroke-width="0.5"/>
<path d="M416.3 146.8L419.6 144.9L417 143.5L413.8 145.3ZM446.3 141.8L449.4 140L446.8 138.4L443.6 140.3ZM467.1 139.5L470.2 137.7L467.5 136L464.3 137.8ZM595.8 214.8L598.7 212.7L595.6 209.3L592.7 211.4ZM520.2 140.2L523.2 138.3L520.4 136.3L517.3 138.1ZM535 143L538 141.2L535 138.9L532.1 140.8ZM543.9 145.8L546.8 143.9L543.9 141.6L540.9 143.5ZM582.9 175.7L585.8 173.8L582.7 170.8L579.8 172.8ZM555.7 151.2L558.7 149.3L555.7 146.8L552.7 148.7Z" fill="#a3db45" stroke="#a3db45" stroke-width="0.5"/>
<path d="M413.8 145.3L417 143.5L414.5 142.1L411.2 143.9ZM479.2 135.7L482.3 133.9L479.5 132.2L476.4 134ZM601.8 216.1L604.7 214L601.6 210.5L598.7 212.7ZM520.4 136.3L523.3 134.4L520.5 132.4L517.5 134.2Z" fill="#97dc47" stroke="#97dc47" stroke-width="0.5"/>
<path d="M411.2 143.9L414.5 142.1L411.9 140.8L408.7 142.6ZM435.1 139L438.3 137.2L435.7 135.8L432.5 137.6ZM464.7 134.3L467.8 132.5L465.1 130.9L462 132.7ZM491.2 132L494.2 130.2L491.4 128.5L488.4 130.3ZM608.1 228.8L611 226.7L607.9 223.1L605 225.2ZM607.9 223.1L610.8 221L607.7 217.4L604.8 219.6ZM607.7 217.4L610.6 215.3L607.6 211.9L604.7 214ZM520.5 132.4L523.4 130.6L520.6 128.6L517.6 130.4ZM604 192.3L606.9 190.2L603.9 187L601 189.1ZM540.9 135.2L543.9 133.4L541 131.3L538 133.1ZM597.6 175.7L600.5 173.8L597.4 170.8L594.6 172.8ZM591.4 164.9L594.2 163L591.2 160.2L588.4 162.1ZM570.4 146.1L573.2 144.2L570.3 141.7L567.4 143.6Z" fill="#8bdc49" stroke="#8bdc49" stroke-width="0.5"/>
<path d="M408.7 142.6L411.9 140.8L409.4 139.5L406.2 141.3ZM503.1 128.4L506.1 126.6L503.3 124.8L500.3 126.6ZM508.9 128.4L511.9 126.6L509.1 124.8L506.1 126.6ZM514.7 128.5L517.7 126.7L514.9 124.8L511.9 126.6ZM520.6 128.6L523.5 126.8L520.7 124.9L517.7 126.7ZM606.5 179.9L609.4 177.9L606.3 174.8L603.5 176.8ZM555.6 134.2L558.4 132.3L555.5 130.1L552.6 131.9ZM564.3 136.9L567.2 135.1L564.3 132.8L561.4 134.6ZM594.1 158.2L596.9 156.3L593.9 153.5L591.1 155.5ZM579.1 144.9L581.9 143L579 140.5L576.1 142.3Z" fill="#7fdd4c" stroke="#7fdd4c" stroke-width="0.5"/>
<path d="M543.5 252.3L546.7 250L543.5 246.4L540.3 248.7ZM482.2 176L485.4 174L482.5 171.6L479.2 173.6Z" fill="#efac3b" stroke="#efac3b" stroke-width="0.5"/>
<path d="M472.4 182.1L475.7 180.1L472.7 177.6L469.4 179.7ZM481.6 185.1L484.9 183L481.9 180.5L478.6 182.5ZM493.9 190.9L497.1 188.9L494.1 186.2L490.9 188.2Z" fill="#ef953e" stroke="#ef953e" stroke-width="0.5"/>
<path d="M457.8 170.4L461.1 168.5L458.2 166.3L455 168.3ZM543.6 240.6L546.7 238.4L543.6 234.9L540.4 237.2ZM488.4 176.5L491.6 174.5L488.6 172L485.4 174ZM534.3 214L537.4 211.9L534.3 208.7L531.2 210.9ZM522 196.7L525.1 194.6L522.1 191.7L518.9 193.8ZM518.9 193.8L522.1 191.7L519 188.9L515.9 190.9ZM515.9 190.9L519 188.9L516 186.1L512.8 188.1Z" fill="#efb03b" stroke="#efb03b" stroke-width="0.5"/>
<path d="M435.5 154.6L438.7 152.7L436 151L432.8 152.8ZM571.7 232.1L574.8 229.9L571.7 226.4L568.6 228.6ZM495.7 155.3L498.8 153.4L495.9 151.2L492.8 153.2ZM510.7 158.3L513.8 156.4L510.8 154L507.8 156ZM519.7 161.1L522.8 159.2L519.8 156.8L516.7 158.7ZM559.1 192L562.1 189.9L559 186.9L556 189ZM531.7 166.7L534.8 164.7L531.8 162.2L528.7 164.1Z" fill="#d8da3b" stroke="#d8da3b" stroke-width="0.5"/>
<path d="M419.6 144.9L422.8 143.1L420.3 141.7L417 143.5ZM449.4 140L452.6 138.2L449.9 136.6L446.8 138.4ZM470.2 137.7L473.3 135.8L470.6 134.1L467.5 136ZM595.2 193.2L598.1 191.1L595 187.9L592.1 190ZM538 141.2L540.9 139.3L538 137.1L535 138.9ZM592 184.8L594.9 182.8L591.8 179.7L588.9 181.8ZM546.8 143.9L549.8 142L546.8 139.7L543.9 141.6Z" fill="#9cdc46" stroke="#9cdc46" stroke-width="0.5"/>
<path d="M417 143.5L420.3 141.7L417.7 140.3L414.5 142.1ZM482.3 133.9L485.3 132.1L482.6 130.4L479.5 132.2ZM604.5 208.4L607.4 206.3L604.4 203L601.5 205.1ZM591.5 169.8L594.4 167.8L591.4 164.9L588.5 166.9ZM564.5 145.5L567.4 143.6L564.4 141.2L561.5 143Z" fill="#90dc48" stroke="#90dc48" stroke-width="0.5"/>
<path d="M414.5 142.1L417.7 140.3L415.2 139L411.9 140.8ZM523.4 130.6L526.4 128.7L523.5 126.8L520.6 128.6ZM543.9 133.4L546.8 131.6L543.9 129.4L541 131.3ZM600.5 173.8L603.3 171.8L600.3 168.8L597.4 170.8ZM573.2 144.2L576.1 142.3L573.1 139.9L570.3 141.7Z" fill="#85dc4b" stroke="#85dc4b" stroke-width="0.5"/>
<path d="M411.9 140.8L415.2 139L412.7 137.7L409.4 139.5ZM506.1 126.6L509.1 124.8L506.3 123L503.3 124.8ZM511.9 126.6L514.9 124.8L512 123L509.1 124.8ZM523.5 126.8L526.5 125L523.6 123.1L520.7 124.9ZM529.3 126.9L532.3 125.1L529.4 123.2L526.5 125ZM549.7 129.7L552.6 127.9L549.7 125.8L546.8 127.6ZM609.4 177.9L612.2 175.9L609.2 172.8L606.3 174.8ZM606.1 169.8L609 167.9L605.9 164.9L603.1 166.8ZM567.2 135.1L570.1 133.2L567.1 130.9L564.3 132.8ZM599.9 159.1L602.7 157.2L599.7 154.4L596.9 156.3ZM579 140.5L581.8 138.6L578.8 136.2L576 138Z" fill="#78dd4d" stroke="#78dd4d" stroke-width="0.5"/>
<path d="M553.1 257.3L556.2 255L553.1 251.3L549.9 253.6ZM470.5 166.7L473.7 164.8L470.9 162.6L467.6 164.5ZM546.8 221.6L549.9 219.4L546.8 216.1L543.7 218.3ZM503.9 175.5L507.1 173.5L504.1 171L500.9 172.9ZM534.4 198.4L537.6 196.3L534.5 193.3L531.4 195.4ZM519.1 184L522.3 182L519.3 179.3L516.1 181.3Z" fill="#eec139" stroke="#eec139" stroke-width="0.5"/>
<path d="M546.7 250L549.9 247.7L546.7 244.2L543.5 246.4ZM485.4 174L488.6 172L485.7 169.6L482.5 171.6ZM494.6 177L497.8 174.9L494.8 172.5L491.6 174.5ZM506.8 182.7L509.9 180.7L506.9 178L503.7 180.1Z" fill="#efb43b" stroke="#efb43b" stroke-width="0.5"/>
<path d="M475.7 180.1L478.9 178L476 175.6L472.7 177.6ZM484.9 183L488.1 181L485.1 178.5L481.9 180.5ZM497.1 188.9L500.4 186.8L497.3 184.1L494.1 186.2Z" fill="#ef9d3d" stroke="#ef9d3d" stroke-width="0.5"/>
<path d="M466.9 173L470.2 171L467.3 168.7L464 170.7ZM540.4 237.2L543.6 234.9L540.4 231.5L537.3 233.7ZM534.2 219.4L537.4 217.2L534.3 214L531.1 216.2ZM528.1 207.8L531.2 205.6L528.1 202.6L525 204.7ZM506.6 187.4L509.8 185.4L506.8 182.7L503.6 184.7Z" fill="#efab3b" stroke="#efab3b" stroke-width="0.5"/>
<path d="M461.1 168.5L464.4 166.5L461.5 164.4L458.2 166.3ZM546.7 238.4L549.9 236.2L546.8 232.7L543.6 234.9Z" fill="#efb83a" stroke="#efb83a" stroke-width="0.5"/>
<path d="M447 158.2L450.2 156.3L447.5 154.4L444.2 156.3ZM453 158.2L456.3 156.3L453.5 154.4L450.2 156.3ZM465.1 158.4L468.4 156.5L465.5 154.4L462.3 156.4ZM471.2 158.5L474.4 156.6L471.6 154.5L468.4 156.5ZM553 201.3L556.1 199.2L553 196.1L549.9 198.2ZM519.5 170L522.6 168.1L519.6 165.5L516.5 167.5Z" fill="#ead938" stroke="#ead938" stroke-width="0.5"/>
<path d="M438.7 152.7L442 150.8L439.3 149.1L436 151ZM513.8 156.4L516.9 154.4L513.9 152.1L510.8 154ZM522.8 159.2L525.8 157.2L522.9 154.8L519.8 156.8ZM562.1 189.9L565.1 187.9L562 184.9L559 186.9Z" fill="#d1da3c" stroke="#d1da3c" stroke-width="0.5"/>
<path d="M422.8 143.1L426.1 141.2L423.5 139.8L420.3 141.7ZM601.5 205.1L604.4 203L601.3 199.7L598.4 201.7ZM558.6 144.9L561.5 143L558.6 140.6L555.6 142.5Z" fill="#95dc48" stroke="#95dc48" stroke-width="0.5"/>
<path d="M420.3 141.7L423.5 139.8L420.9 138.5L417.7 140.3ZM607.4 206.3L610.3 204.3L607.2 200.9L604.4 203ZM532.2 132.8L535.1 131L532.2 128.9L529.3 130.8ZM546.8 135.6L549.7 133.8L546.8 131.6L543.9 133.4ZM555.6 138.3L558.5 136.4L555.6 134.2L552.7 136ZM594.4 167.8L597.3 165.9L594.2 163L591.4 164.9Z" fill="#89dc4a" stroke="#89dc4a" stroke-width="0.5"/>
<path d="M417.7 140.3L420.9 138.5L418.4 137.2L415.2 139ZM441.5 135.4L444.6 133.6L442 132.2L438.9 134ZM456.2 133L459.3 131.2L456.7 129.7L453.5 131.5ZM497.3 128.4L500.3 126.6L497.5 124.9L494.5 126.7ZM613.9 224.5L616.8 222.4L613.7 218.8L610.8 221ZM613.7 218.8L616.6 216.7L613.5 213.2L610.6 215.3ZM613.5 213.2L616.4 211.1L613.3 207.7L610.5 209.8ZM526.4 128.7L529.3 126.9L526.5 125L523.5 126.8ZM609.7 188.2L612.6 186.2L609.6 183L606.7 185ZM546.8 131.6L549.7 129.7L546.8 127.6L543.9 129.4ZM603.3 171.8L606.1 169.8L603.1 166.8L600.3 168.8ZM597.1 161.1L599.9 159.1L596.9 156.3L594.1 158.2ZM576.1 142.3L579 140.5L576 138L573.1 139.9Z" fill="#7edd4c" stroke="#7edd4c" stroke-width="0.5"/>
<path d="M415.2 139L418.4 137.2L415.9 135.9L412.7 137.7ZM462.4 129.4L465.5 127.6L462.9 126.1L459.8 127.9ZM509.1 124.8L512 123L509.2 121.3L506.3 123ZM619.4 214.6L622.3 212.5L619.3 209L616.4 211.1ZM619.3 209L622.1 206.9L619.1 203.5L616.2 205.6ZM532.3 125.1L535.2 123.3L532.3 121.4L529.4 123.2ZM615.4 184.2L618.2 182.2L615.2 179L612.4 181ZM552.6 127.9L555.5 126.1L552.5 124L549.7 125.8ZM602.7 157.2L605.5 155.3L602.5 152.5L599.7 154.4ZM581.8 138.6L584.6 136.8L581.7 134.3L578.8 136.2Z" fill="#71dd4e" stroke="#71dd4e" stroke-width="0.5"/>
<path d="M556.2 255L559.4 252.7L556.2 249.1L553.1 251.3ZM473.7 164.8L477 162.8L474.1 160.6L470.9 162.6ZM549.9 219.4L553 217.3L549.9 214L546.8 216.1ZM507.1 173.5L510.2 171.5L507.3 169L504.1 171ZM537.6 196.3L540.7 194.2L537.6 191.3L534.5 193.3Z" fill="#eec939" stroke="#eec939" stroke-width="0.5"/>
<path d="M549.9 247.7L553.1 245.5L549.9 241.9L546.7 244.2ZM473.4 169L476.6 167L473.7 164.8L470.5 166.7ZM534.4 203.5L537.5 201.4L534.4 198.4L531.3 200.5Z" fill="#eebb3a" stroke="#eebb3a" stroke-width="0.5"/>
<path d="M478.9 178L482.2 176L479.2 173.6L476 175.6ZM488.1 181L491.4 179L488.4 176.5L485.1 178.5ZM500.4 186.8L503.6 184.7L500.6 182.1L497.3 184.1Z" fill="#efa53c" stroke="#efa53c" stroke-width="0.5"/>
<path d="M470.2 171L473.4 169L470.5 166.7L467.3 168.7ZM543.6 234.9L546.8 232.7L543.6 229.3L540.4 231.5ZM531.2 205.6L534.4 203.5L531.3 200.5L528.1 202.6ZM509.8 185.4L513 183.3L509.9 180.7L506.8 182.7Z" fill="#efb33b" stroke="#efb33b" stroke-width="0.5"/>
<path d="M450.2 156.3L453.5 154.4L450.7 152.5L447.5 154.4ZM456.3 156.3L459.5 154.4L456.7 152.5L453.5 154.4ZM474.4 156.6L477.6 154.7L474.7 152.6L471.6 154.5ZM556.1 199.2L559.1 197.1L556 194L553 196.1ZM543.8 182.2L546.8 180.2L543.8 177.4L540.7 179.4ZM540.7 179.4L543.8 177.4L540.8 174.7L537.7 176.7Z" fill="#e3d939" stroke="#e3d939" stroke-width="0.5"/>
<path d="M431.3 144.2L434.5 142.4L431.9 140.9L428.7 142.7ZM595.9 220.4L598.8 218.2L595.8 214.8L592.8 216.9Z" fill="#a4db45" stroke="#a4db45" stroke-width="0.5"/>
<path d="M426.1 141.2L429.3 139.4L426.7 138L423.5 139.8ZM604.4 203L607.2 200.9L604.2 197.6L601.3 199.7ZM535.1 134.9L538 133.1L535.1 131L532.2 132.8ZM594.6 172.8L597.4 170.8L594.4 167.8L591.5 169.8ZM561.5 143L564.4 141.2L561.5 138.8L558.6 140.6Z" fill="#8edc49" stroke="#8edc49" stroke-width="0.5"/>
<path d="M423.5 139.8L426.7 138L424.1 136.7L420.9 138.5ZM488.4 130.3L491.4 128.5L488.7 126.8L485.6 128.6ZM610.3 204.3L613.2 202.2L610.1 198.8L607.2 200.9ZM597.3 165.9L600.1 163.9L597.1 161.1L594.2 163ZM570.3 141.7L573.1 139.9L570.2 137.4L567.3 139.3Z" fill="#83dc4b" stroke="#83dc4b" stroke-width="0.5"/>
<path d="M420.9 138.5L424.1 136.7L421.6 135.4L418.4 137.2ZM444.6 133.6L447.8 131.8L445.1 130.4L442 132.2ZM459.3 131.2L462.4 129.4L459.8 127.9L456.7 129.7ZM474 128.9L477.1 127.1L474.4 125.5L471.3 127.3ZM500.3 126.6L503.3 124.8L500.5 123.1L497.5 124.9ZM616.8 222.4L619.6 220.2L616.6 216.7L613.7 218.8ZM616.6 216.7L619.4 214.6L616.4 211.1L613.5 213.2ZM616.4 211.1L619.3 209L616.2 205.6L613.3 207.7ZM616.2 205.6L619.1 203.5L616 200.1L613.2 202.2ZM535.2 127.1L538.1 125.3L535.2 123.3L532.3 125.1ZM612.6 186.2L615.4 184.2L612.4 181L609.6 183Z" fill="#77dd4d" stroke="#77dd4d" stroke-width="0.5"/>
<path d="M418.4 137.2L421.6 135.4L419.1 134.1L415.9 135.9ZM512 123L515 121.2L512.2 119.5L509.2 121.3ZM517.8 123L520.8 121.2L517.9 119.4L515 121.2ZM529.4 123.2L532.3 121.4L529.5 119.5L526.5 121.3ZM535.2 123.3L538.1 121.5L535.2 119.6L532.3 121.4ZM555.5 126.1L558.3 124.3L555.4 122.2L552.5 124ZM611.8 165.9L614.6 164L611.6 161L608.8 163ZM572.9 131.4L575.7 129.6L572.8 127.3L570 129.1ZM605.5 155.3L608.3 153.4L605.3 150.6L602.5 152.5ZM584.6 136.8L587.4 134.9L584.5 132.5L581.7 134.3Z" fill="#6bdd4f" stroke="#6bdd4f" stroke-width="0.5"/>
<path d="M453.5 154.4L456.7 152.5L453.9 150.6L450.7 152.5ZM477.6 154.7L480.8 152.8L477.9 150.7L474.7 152.6ZM568.6 223L571.6 220.8L568.5 217.4L565.4 219.6ZM559.1 197.1L562.1 195L559.1 192L556 194ZM546.8 180.2L549.9 178.2L546.8 175.4L543.8 177.4ZM543.8 177.4L546.8 175.4L543.8 172.7L540.8 174.7ZM540.8 174.7L543.8 172.7L540.8 170L537.7 171.9Z" fill="#dcda3a" stroke="#dcda3a" stroke-width="0.5"/>
<path d="M434.5 142.4L437.7 140.5L435.1 139L431.9 140.9ZM598.7 212.7L601.6 210.5L598.5 207.2L595.6 209.3ZM523.2 138.3L526.2 136.5L523.3 134.4L520.4 136.3ZM585.8 173.8L588.7 171.8L585.6 168.9L582.7 170.8ZM558.7 149.3L561.6 147.4L558.6 144.9L555.7 146.8Z" fill="#9ddc46" stroke="#9ddc46" stroke-width="0.5"/>
<path d="M429.3 139.4L432.5 137.6L429.9 136.2L426.7 138ZM538 133.1L541 131.3L538 129.2L535.1 131ZM597.4 170.8L600.3 168.8L597.3 165.9L594.4 167.8ZM585.2 154.6L588.1 152.7L585.1 150.1L582.2 152ZM582.2 152L585.1 150.1L582.1 147.4L579.2 149.3ZM579.2 149.3L582.1 147.4L579.1 144.9L576.2 146.7Z" fill="#87dc4a" stroke="#87dc4a" stroke-width="0.5"/>
<path d="M426.7 138L429.9 136.2L427.3 134.9L424.1 136.7ZM491.4 128.5L494.5 126.7L491.7 125L488.7 126.8ZM613.2 202.2L616 200.1L613 196.8L610.1 198.8ZM538 129.2L541 127.3L538.1 125.3L535.2 127.1ZM552.6 131.9L555.5 130.1L552.6 127.9L549.7 129.7ZM606.3 174.8L609.2 172.8L606.1 169.8L603.3 171.8ZM561.4 134.6L564.3 132.8L561.3 130.5L558.4 132.3ZM600.1 163.9L602.9 162L599.9 159.1L597.1 161.1Z" fill="#7cdd4c" stroke="#7cdd4c" stroke-width="0.5"/>
<path d="M424.1 136.7L427.3 134.9L424.8 133.6L421.6 135.4ZM447.8 131.8L450.9 130L448.3 128.6L445.1 130.4ZM477.1 127.1L480.1 125.3L477.4 123.8L474.4 125.5ZM503.3 124.8L506.3 123L503.5 121.3L500.5 123.1ZM619.6 220.2L622.5 218.1L619.4 214.6L616.6 216.7ZM619.1 203.5L621.9 201.4L618.9 198.1L616 200.1ZM538.1 125.3L541 123.5L538.1 121.5L535.2 123.3ZM605.7 160L608.5 158.1L605.5 155.3L602.7 157.2ZM578.8 136.2L581.7 134.3L578.7 131.9L575.9 133.8Z" fill="#70dd4e" stroke="#70dd4e" stroke-width="0.5"/>
<path d="M421.6 135.4L424.8 133.6L422.3 132.4L419.1 134.1ZM515 121.2L517.9 119.4L515.1 117.7L512.2 119.5ZM625.1 210.4L627.9 208.3L624.9 204.8L622.1 206.9ZM624.9 204.8L627.7 202.8L624.7 199.4L621.9 201.4ZM538.1 121.5L541 119.8L538.1 117.8L535.2 119.6ZM621 180.2L623.8 178.2L620.8 175L618 177ZM608.3 153.4L611.1 151.5L608.1 148.7L605.3 150.6Z" fill="#64dd51" stroke="#64dd51" stroke-width="0.5"/>
<path d="M559.4 246.8L562.5 244.5L559.4 241L556.2 243.2ZM556.2 226.1L559.3 223.9L556.2 220.6L553 222.7ZM549.9 208.6L553 206.5L549.9 203.4L546.8 205.5ZM522.4 177.3L525.5 175.3L522.5 172.6L519.4 174.6Z" fill="#eed138" stroke="#eed138" stroke-width="0.5"/>
<path d="M456.7 152.5L459.9 150.6L457.2 148.7L453.9 150.6ZM480.8 152.8L483.9 150.9L481.1 148.8L477.9 150.7ZM486.8 152.9L489.9 151L487 149L483.9 150.9ZM571.6 220.8L574.6 218.7L571.5 215.3L568.5 217.4ZM516.7 158.7L519.8 156.8L516.9 154.4L513.8 156.4ZM552.9 181.1L555.9 179L552.9 176.2L549.9 178.2ZM549.9 178.2L552.9 176.2L549.9 173.4L546.8 175.4ZM546.8 175.4L549.9 173.4L546.8 170.7L543.8 172.7ZM543.8 172.7L546.8 170.7L543.8 168L540.8 170Z" fill="#d5da3c" stroke="#d5da3c" stroke-width="0.5"/>
<path d="M451.2 148.8L454.4 146.9L451.7 145.2L448.5 147Z" fill="#c5da3f" stroke="#c5da3f" stroke-width="0.5"/>
<path d="M437.7 140.5L440.9 138.7L438.3 137.2L435.1 139ZM452.6 138.2L455.8 136.3L453.1 134.8L449.9 136.6ZM473.3 135.8L476.4 134L473.7 132.3L470.6 134.1ZM601.6 210.5L604.5 208.4L601.5 205.1L598.5 207.2ZM526.2 136.5L529.2 134.6L526.3 132.6L523.3 134.4ZM540.9 139.3L543.9 137.5L540.9 135.2L538 137.1ZM549.8 142L552.7 140.2L549.7 137.9L546.8 139.7ZM588.7 171.8L591.5 169.8L588.5 166.9L585.6 168.9ZM561.6 147.4L564.5 145.5L561.5 143L558.6 144.9Z" fill="#96dc47" stroke="#96dc47" stroke-width="0.5"/>
<path d="M432.5 137.6L435.7 135.8L433.1 134.4L429.9 136.2ZM476.7 130.5L479.8 128.7L477.1 127.1L474 128.9ZM609.9 193.5L612.8 191.4L609.7 188.2L606.9 190.2ZM591.1 155.5L593.9 153.5L590.9 150.8L588.1 152.7ZM588.1 152.7L590.9 150.8L587.9 148.2L585.1 150.1ZM585.1 150.1L587.9 148.2L584.9 145.5L582.1 147.4ZM582.1 147.4L584.9 145.5L581.9 143L579.1 144.9Z" fill="#80dd4b" stroke="#80dd4b" stroke-width="0.5"/>
<path d="M429.9 136.2L433.1 134.4L430.5 133.1L427.3 134.9ZM541 127.3L543.9 125.5L541 123.5L538.1 125.3ZM555.5 130.1L558.4 128.3L555.5 126.1L552.6 127.9ZM609.2 172.8L612 170.9L609 167.9L606.1 169.8Z" fill="#75dd4d" stroke="#75dd4d" stroke-width="0.5"/>
<path d="M427.3 134.9L430.5 133.1L428 131.8L424.8 133.6ZM450.9 130L454 128.2L451.4 126.9L448.3 128.6ZM480.1 125.3L483.2 123.5L480.4 122L477.4 123.8ZM500.5 123.1L503.5 121.3L500.7 119.7L497.7 121.4ZM621.7 196L624.5 194L621.5 190.7L618.7 192.7ZM570 129.1L572.8 127.3L569.9 125L567 126.8ZM608.5 158.1L611.3 156.2L608.3 153.4L605.5 155.3ZM581.7 134.3L584.5 132.5L581.5 130.1L578.7 131.9Z" fill="#69dd50" stroke="#69dd50" stroke-width="0.5"/>
<path d="M424.8 133.6L428 131.8L425.4 130.6L422.3 132.4ZM471.7 124L474.7 122.3L472 120.8L469 122.6ZM512.2 119.5L515.1 117.7L512.3 116L509.4 117.8ZM628.2 213.9L631 211.8L627.9 208.3L625.1 210.4ZM627.9 208.3L630.8 206.2L627.7 202.8L624.9 204.8ZM627.7 202.8L630.5 200.7L627.5 197.3L624.7 199.4ZM627.5 197.3L630.3 195.3L627.3 191.9L624.5 194ZM546.7 119.9L549.6 118.1L546.7 116.2L543.9 118ZM587.3 130.6L590.1 128.8L587.1 126.4L584.3 128.3Z" fill="#5dde52" stroke="#5dde52" stroke-width="0.5"/>
<path d="M562.5 244.5L565.6 242.3L562.5 238.7L559.4 241ZM559.3 223.9L562.4 221.8L559.2 218.4L556.2 220.6ZM553 206.5L556.1 204.4L553 201.3L549.9 203.4ZM525.5 175.3L528.6 173.3L525.6 170.6L522.5 172.6Z" fill="#eed937" stroke="#eed937" stroke-width="0.5"/>
<path d="M491.6 174.5L494.8 172.5L491.8 170L488.6 172ZM528.2 197.5L531.4 195.4L528.3 192.5L525.1 194.6ZM525.1 194.6L528.3 192.5L525.2 189.6L522.1 191.7ZM522.1 191.7L525.2 189.6L522.2 186.8L519 188.9ZM519 188.9L522.2 186.8L519.1 184L516 186.1Z" fill="#eeb83a" stroke="#eeb83a" stroke-width="0.5"/>
<path d="M488.6 172L491.8 170L488.9 167.7L485.7 169.6ZM497.8 174.9L500.9 172.9L498 170.5L494.8 172.5ZM509.9 180.7L513.1 178.6L510.1 176L506.9 178Z" fill="#eebc3a" stroke="#eebc3a" stroke-width="0.5"/>
<path d="M459.9 150.6L463.1 148.7L460.3 146.8L457.2 148.7ZM489.9 151L493 149.1L490.2 147.1L487 149ZM574.6 218.7L577.7 216.5L574.6 213.2L571.5 215.3ZM519.8 156.8L522.9 154.8L519.9 152.5L516.9 154.4ZM555.9 179L559 177L555.9 174.2L552.9 176.2ZM546.8 170.7L549.9 168.7L546.8 166L543.8 168ZM543.8 168L546.8 166L543.8 163.4L540.8 165.3Z" fill="#ceda3d" stroke="#ceda3d" stroke-width="0.5"/>
<path d="M457.2 148.7L460.3 146.8L457.6 145.1L454.4 146.9ZM493 149.1L496.1 147.2L493.3 145.2L490.2 147.1ZM513.9 152.1L517 150.2L514.1 148L511 149.9ZM574.4 202.4L577.4 200.3L574.3 197.1L571.3 199.2ZM522.9 154.8L525.9 152.9L523 150.6L519.9 152.5ZM531.8 157.7L534.9 155.8L531.9 153.4L528.9 155.3ZM562 179.9L565 177.9L561.9 175L559 177ZM546.8 166L549.8 164.1L546.8 161.4L543.8 163.4Z" fill="#c7da3e" stroke="#c7da3e" stroke-width="0.5"/>
<path d="M451.7 145.2L454.9 143.3L452.1 141.6L448.9 143.5ZM586.8 215.6L589.7 213.5L586.6 210.1L583.7 212.2ZM583.4 201.4L586.4 199.4L583.3 196.1L580.4 198.2ZM580.3 193L583.2 190.9L580.2 187.8L577.2 189.9Z" fill="#b6db41" stroke="#b6db41" stroke-width="0.5"/>
<path d="M448.9 143.5L452.1 141.6L449.4 140L446.3 141.8ZM475.7 141.2L478.9 139.4L476.1 137.6L473 139.4ZM481.7 141.2L484.8 139.4L482 137.5L478.9 139.4ZM499.4 141.5L502.5 139.6L499.7 137.6L496.6 139.5ZM589.6 208L592.5 205.9L589.5 202.6L586.5 204.7ZM535 147.2L537.9 145.3L535 143L532 144.9ZM573.9 171.9L576.8 169.9L573.8 167.1L570.8 169.1ZM570.8 169.1L573.8 167.1L570.7 164.3L567.8 166.3ZM561.8 160.9L564.7 158.9L561.7 156.3L558.8 158.2ZM558.8 158.2L561.7 156.3L558.7 153.7L555.8 155.6Z" fill="#addb43" stroke="#addb43" stroke-width="0.5"/>
<path d="M440.9 138.7L444.1 136.9L441.5 135.4L438.3 137.2ZM455.8 136.3L458.9 134.5L456.2 133L453.1 134.8ZM476.4 134L479.5 132.2L476.7 130.5L473.7 132.3ZM529.2 134.6L532.2 132.8L529.3 130.8L526.3 132.6ZM601 189.1L603.9 187L600.8 183.9L597.9 185.9ZM543.9 137.5L546.8 135.6L543.9 133.4L540.9 135.2ZM597.8 180.8L600.6 178.8L597.6 175.7L594.7 177.7ZM552.7 140.2L555.6 138.3L552.7 136L549.7 137.9Z" fill="#8fdc49" stroke="#8fdc49" stroke-width="0.5"/>
<path d="M438.3 137.2L441.5 135.4L438.9 134L435.7 135.8ZM467.8 132.5L470.9 130.7L468.2 129.1L465.1 130.9ZM494.2 130.2L497.3 128.4L494.5 126.7L491.4 128.5ZM611 226.7L613.9 224.5L610.8 221L607.9 223.1ZM610.8 221L613.7 218.8L610.6 215.3L607.7 217.4ZM610.6 215.3L613.5 213.2L610.5 209.8L607.6 211.9ZM610.5 209.8L613.3 207.7L610.3 204.3L607.4 206.3ZM529.3 130.8L532.2 128.9L529.3 126.9L526.4 128.7ZM606.9 190.2L609.7 188.2L606.7 185L603.9 187ZM594.2 163L597.1 161.1L594.1 158.2L591.2 160.2Z" fill="#84dc4b" stroke="#84dc4b" stroke-width="0.5"/>
<path d="M435.7 135.8L438.9 134L436.3 132.6L433.1 134.4ZM479.8 128.7L482.9 126.9L480.1 125.3L477.1 127.1ZM517.7 126.7L520.7 124.9L517.8 123L514.9 124.8ZM612.8 191.4L615.6 189.4L612.6 186.2L609.7 188.2ZM558.4 132.3L561.3 130.5L558.4 128.3L555.5 130.1ZM596.9 156.3L599.7 154.4L596.7 151.6L593.9 153.5ZM581.9 143L584.8 141.1L581.8 138.6L579 140.5Z" fill="#79dd4d" stroke="#79dd4d" stroke-width="0.5"/>
<path d="M433.1 134.4L436.3 132.6L433.7 131.3L430.5 133.1ZM491.7 125L494.7 123.2L491.9 121.6L488.9 123.3ZM618.7 192.7L621.5 190.7L618.4 187.4L615.6 189.4ZM615.2 179L618 177L615 173.9L612.2 175.9ZM608.8 163L611.6 161L608.5 158.1L605.7 160ZM575.9 133.8L578.7 131.9L575.7 129.6L572.9 131.4Z" fill="#6edd4f" stroke="#6edd4f" stroke-width="0.5"/>
<path d="M430.5 133.1L433.7 131.3L431.1 130L428 131.8ZM503.5 121.3L506.4 119.5L503.7 117.9L500.7 119.7ZM549.6 121.9L552.5 120.1L549.6 118.1L546.7 119.9ZM620.8 175L623.6 173.1L620.6 170L617.8 171.9ZM564.1 124.7L566.9 122.8L564 120.7L561.2 122.5ZM617.6 166.9L620.3 165L617.3 162L614.6 164Z" fill="#62de51" stroke="#62de51" stroke-width="0.5"/>
<path d="M428 131.8L431.1 130L428.6 128.8L425.4 130.6ZM474.7 122.3L477.7 120.5L475.1 119.1L472 120.8ZM515.1 117.7L518.1 115.9L515.3 114.3L512.3 116ZM630.3 195.3L633.1 193.2L630.1 189.9L627.3 191.9ZM630.1 189.9L632.8 187.9L629.8 184.6L627.1 186.6ZM549.6 118.1L552.5 116.4L549.6 114.4L546.7 116.2ZM578.4 123.7L581.2 121.9L578.3 119.6L575.5 121.4ZM616.9 152.4L619.6 150.5L616.6 147.7L613.9 149.6ZM590.1 128.8L592.8 127L589.9 124.6L587.1 126.4Z" fill="#56de53" stroke="#56de53" stroke-width="0.5"/>
<path d="M571.9 249.5L575 247.3L571.9 243.6L568.8 245.9ZM504.7 157.9L507.8 156L504.8 153.7L501.7 155.6ZM522.7 163.6L525.7 161.6L522.8 159.2L519.7 161.1ZM552.9 186L556 184L552.9 181.1L549.9 183.1ZM537.7 171.9L540.8 170L537.8 167.3L534.7 169.3Z" fill="#dbda3b" stroke="#dbda3b" stroke-width="0.5"/>
<path d="M559.3 235.2L562.4 233L559.3 229.5L556.2 231.7ZM553 211.8L556.1 209.7L553 206.5L549.9 208.6Z" fill="#eed437" stroke="#eed437" stroke-width="0.5"/>
<path d="M491.8 170L495 168.1L492.1 165.7L488.9 167.7ZM500.9 172.9L504.1 171L501.1 168.5L498 170.5ZM540.6 204.5L543.7 202.4L540.6 199.3L537.5 201.4ZM513.1 178.6L516.2 176.6L513.2 174L510.1 176Z" fill="#eec439" stroke="#eec439" stroke-width="0.5"/>
<path d="M460.3 146.8L463.5 145L460.8 143.2L457.6 145.1ZM584.2 246.5L587.3 244.2L584.1 240.6L581.1 242.8ZM584.1 240.6L587.2 238.4L584.1 234.8L581 237ZM577.4 200.3L580.4 198.2L577.3 195L574.3 197.1Z" fill="#c0da40" stroke="#c0da40" stroke-width="0.5"/>
<path d="M454.9 143.3L458 141.5L455.3 139.8L452.1 141.6ZM589.7 213.5L592.7 211.4L589.6 208L586.6 210.1ZM586.4 199.4L589.3 197.3L586.3 194.1L583.3 196.1ZM583.2 190.9L586.2 188.9L583.1 185.8L580.2 187.8ZM546.8 152.5L549.8 150.6L546.8 148.2L543.9 150.1Z" fill="#afdb43" stroke="#afdb43" stroke-width="0.5"/>
<path d="M452.1 141.6L455.3 139.8L452.6 138.2L449.4 140ZM478.9 139.4L482 137.5L479.2 135.7L476.1 137.6ZM508.4 139.8L511.4 137.9L508.6 135.9L505.5 137.7ZM529.1 142.7L532.1 140.8L529.1 138.6L526.2 140.5ZM589.2 192L592.1 190L589.1 186.9L586.2 188.9ZM537.9 145.3L540.9 143.5L538 141.2L535 143ZM546.8 148.2L549.8 146.3L546.8 143.9L543.9 145.8ZM576.8 169.9L579.7 168L576.7 165.1L573.8 167.1ZM561.7 156.3L564.6 154.4L561.6 151.8L558.7 153.7Z" fill="#a6db44" stroke="#a6db44" stroke-width="0.5"/>
<path d="M444.1 136.9L447.3 135.1L444.6 133.6L441.5 135.4ZM458.9 134.5L462 132.7L459.3 131.2L456.2 133ZM479.5 132.2L482.6 130.4L479.8 128.7L476.7 130.5ZM607.2 200.9L610.1 198.8L607.1 195.5L604.2 197.6ZM603.9 187L606.7 185L603.7 181.9L600.8 183.9ZM600.6 178.8L603.5 176.8L600.5 173.8L597.6 175.7ZM564.4 141.2L567.3 139.3L564.3 136.9L561.5 138.8Z" fill="#88dc4a" stroke="#88dc4a" stroke-width="0.5"/>
<path d="M438.9 134L442 132.2L439.4 130.8L436.3 132.6ZM615.6 189.4L618.4 187.4L615.4 184.2L612.6 186.2ZM596.7 151.6L599.5 149.7L596.6 147L593.7 148.9ZM587.8 143.7L590.6 141.8L587.6 139.2L584.8 141.1Z" fill="#73dd4e" stroke="#73dd4e" stroke-width="0.5"/>
<path d="M436.3 132.6L439.4 130.8L436.8 129.5L433.7 131.3ZM494.7 123.2L497.7 121.4L494.9 119.8L491.9 121.6ZM552.5 124L555.4 122.2L552.5 120.1L549.6 121.9ZM611.6 161L614.3 159.1L611.3 156.2L608.5 158.1ZM578.7 131.9L581.5 130.1L578.6 127.7L575.7 129.6ZM599.4 145.2L602.1 143.3L599.2 140.6L596.4 142.5ZM596.4 142.5L599.2 140.6L596.2 138.1L593.4 139.9Z" fill="#67dd50" stroke="#67dd50" stroke-width="0.5"/>
<path d="M433.7 131.3L436.8 129.5L434.3 128.3L431.1 130ZM506.4 119.5L509.4 117.8L506.6 116.1L503.7 117.9ZM627.1 186.6L629.8 184.6L626.8 181.4L624 183.4ZM552.5 120.1L555.4 118.4L552.5 116.4L549.6 118.1ZM623.6 173.1L626.4 171.1L623.3 168L620.6 170ZM584.3 128.3L587.1 126.4L584.2 124.1L581.4 125.9Z" fill="#5bde52" stroke="#5bde52" stroke-width="0.5"/>
<path d="M431.1 130L434.3 128.3L431.7 127.1L428.6 128.8ZM492.2 118.2L495.2 116.5L492.4 115L489.5 116.7ZM558.2 116.6L561 114.8L558.1 112.8L555.3 114.6ZM572.6 119.3L575.4 117.5L572.4 115.4L569.6 117.1ZM625.9 161.1L628.6 159.2L625.6 156.2L622.9 158.2Z" fill="#4fde55" stroke="#4fde55" stroke-width="0.5"/>
<path d="M568.7 240L571.8 237.8L568.7 234.3L565.6 236.5ZM565.4 219.6L568.5 217.4L565.4 214.1L562.3 216.3ZM553 191L556 189L552.9 186L549.9 188Z" fill="#e0d93a" stroke="#e0d93a" stroke-width="0.5"/>
<path d="M562.4 233L565.5 230.8L562.4 227.3L559.3 229.5ZM556.1 209.7L559.2 207.6L556.1 204.4L553 206.5Z" fill="#ebd937" stroke="#ebd937" stroke-width="0.5"/>
<path d="M463.5 145L466.7 143.1L463.9 141.3L460.8 143.2ZM587.3 244.2L590.3 242L587.2 238.4L584.1 240.6ZM587.2 238.4L590.2 236.1L587.1 232.6L584.1 234.8ZM587.1 232.6L590.1 230.4L587 226.8L584 229ZM505.2 145.6L508.3 143.7L505.4 141.6L502.3 143.5ZM520 148.3L523.1 146.4L520.1 144.2L517.1 146.1ZM580.4 198.2L583.3 196.1L580.3 193L577.3 195ZM577.2 189.9L580.2 187.8L577.1 184.8L574.1 186.8ZM537.9 153.9L540.9 152L537.9 149.6L534.9 151.5ZM549.8 159.5L552.8 157.6L549.8 155L546.8 156.9Z" fill="#b9db41" stroke="#b9db41" stroke-width="0.5"/>
<path d="M458 141.5L461.2 139.6L458.5 138L455.3 139.8ZM523.2 142.4L526.2 140.5L523.2 138.3L520.2 140.2ZM583 180.7L585.9 178.7L582.9 175.7L579.9 177.7ZM549.8 150.6L552.7 148.7L549.8 146.3L546.8 148.2Z" fill="#a8db44" stroke="#a8db44" stroke-width="0.5"/>
<path d="M455.3 139.8L458.5 138L455.8 136.3L452.6 138.2ZM482 137.5L485.1 135.7L482.3 133.9L479.2 135.7ZM599.1 229.6L602.1 227.4L599 223.9L596 226ZM511.4 137.9L514.5 136.1L511.6 134.1L508.6 135.9ZM532.1 140.8L535 138.9L532.1 136.8L529.1 138.6ZM592.1 190L595 187.9L592 184.8L589.1 186.9ZM588.9 181.8L591.8 179.7L588.8 176.7L585.9 178.7ZM549.8 146.3L552.7 144.4L549.8 142L546.8 143.9ZM579.7 168L582.6 166L579.6 163.2L576.7 165.1ZM561.6 151.8L564.6 149.9L561.6 147.4L558.7 149.3Z" fill="#9fdc46" stroke="#9fdc46" stroke-width="0.5"/>
<path d="M449.9 136.6L453.1 134.8L450.4 133.3L447.3 135.1ZM497 132L500.1 130.2L497.3 128.4L494.2 130.2ZM502.9 132.1L505.9 130.2L503.1 128.4L500.1 130.2ZM508.7 132.1L511.7 130.3L508.9 128.4L505.9 130.2ZM514.6 132.2L517.6 130.4L514.7 128.5L511.7 130.3ZM600.8 183.9L603.7 181.9L600.6 178.8L597.8 180.8ZM549.7 137.9L552.7 136L549.7 133.8L546.8 135.6ZM558.6 140.6L561.5 138.8L558.5 136.4L555.6 138.3ZM588.4 162.1L591.2 160.2L588.2 157.4L585.4 159.3ZM573.4 148.6L576.2 146.7L573.2 144.2L570.4 146.1Z" fill="#8cdc49" stroke="#8cdc49" stroke-width="0.5"/>
<path d="M447.3 135.1L450.4 133.3L447.8 131.8L444.6 133.6ZM462 132.7L465.1 130.9L462.4 129.4L459.3 131.2ZM610.1 198.8L613 196.8L609.9 193.5L607.1 195.5ZM567.3 139.3L570.2 137.4L567.2 135.1L564.3 136.9Z" fill="#81dc4b" stroke="#81dc4b" stroke-width="0.5"/>
<path d="M442 132.2L445.1 130.4L442.5 129.1L439.4 130.8ZM485.9 125.1L488.9 123.3L486.2 121.8L483.2 123.5ZM523.6 123.1L526.5 121.3L523.7 119.5L520.8 121.2ZM618.4 187.4L621.3 185.4L618.2 182.2L615.4 184.2ZM615 173.9L617.8 171.9L614.8 168.9L612 170.9ZM564.2 128.7L567 126.8L564.1 124.7L561.2 126.5ZM602.5 152.5L605.3 150.6L602.3 147.8L599.5 149.7ZM587.6 139.2L590.4 137.4L587.4 134.9L584.6 136.8Z" fill="#6cdd4f" stroke="#6cdd4f" stroke-width="0.5"/>
<path d="M439.4 130.8L442.5 129.1L440 127.8L436.8 129.5ZM462.9 126.1L465.9 124.3L463.3 122.9L460.2 124.7ZM477.4 123.8L480.4 122L477.7 120.5L474.7 122.3ZM497.7 121.4L500.7 119.7L497.9 118L494.9 119.8ZM624 183.4L626.8 181.4L623.8 178.2L621 180.2ZM555.4 122.2L558.3 120.4L555.4 118.4L552.5 120.1ZM605.1 146L607.9 144.1L604.9 141.4L602.1 143.3ZM602.1 143.3L604.9 141.4L601.9 138.8L599.2 140.6ZM596.2 138.1L599 136.2L596 133.7L593.2 135.5Z" fill="#60de51" stroke="#60de51" stroke-width="0.5"/>
<path d="M436.8 129.5L440 127.8L437.4 126.5L434.3 128.3ZM460.2 124.7L463.3 122.9L460.6 121.6L457.6 123.3ZM489.2 120L492.2 118.2L489.5 116.7L486.5 118.5ZM509.4 117.8L512.3 116L509.6 114.4L506.6 116.1ZM555.4 118.4L558.2 116.6L555.3 114.6L552.5 116.4ZM626.4 171.1L629.1 169.1L626.1 166.1L623.3 168ZM569.8 121.1L572.6 119.3L569.6 117.1L566.8 118.9ZM623.1 163.1L625.9 161.1L622.9 158.2L620.1 160.1Z" fill="#55de53" stroke="#55de53" stroke-width="0.5"/>
<path d="M434.3 128.3L437.4 126.5L434.9 125.3L431.7 127.1ZM466.3 121.2L469.4 119.4L466.7 118.1L463.7 119.8ZM495.2 116.5L498.1 114.7L495.4 113.2L492.4 115ZM515.3 114.3L518.2 112.5L515.4 110.9L512.5 112.6ZM635.4 180.6L638.1 178.6L635.1 175.4L632.4 177.4ZM561 114.8L563.8 113.1L560.9 111.1L558.1 112.8ZM631.8 167.2L634.6 165.2L631.6 162.2L628.9 164.1ZM575.4 117.5L578.1 115.7L575.2 113.6L572.4 115.4ZM592.7 122.8L595.4 121L592.5 118.7L589.7 120.5Z" fill="#48de56" stroke="#48de56" stroke-width="0.5"/>
<path d="M546.8 210.8L549.9 208.6L546.8 205.5L543.7 207.6Z" fill="#eec938" stroke="#eec938" stroke-width="0.5"/>
<path d="M504.1 171L507.3 169L504.3 166.5L501.1 168.5ZM543.7 202.4L546.8 200.3L543.7 197.2L540.6 199.3Z" fill="#eecc38" stroke="#eecc38" stroke-width="0.5"/>
<path d="M466.7 143.1L469.8 141.3L467.1 139.5L463.9 141.3ZM590.3 242L593.3 239.8L590.2 236.1L587.2 238.4ZM590.2 236.1L593.2 233.9L590.1 230.4L587.1 232.6ZM590.1 230.4L593.1 228.2L590 224.7L587 226.8ZM590 224.7L592.9 222.5L589.8 219L586.9 221.2ZM508.3 143.7L511.3 141.8L508.4 139.8L505.4 141.6ZM586.5 204.7L589.5 202.6L586.4 199.4L583.4 201.4ZM580.2 187.8L583.1 185.8L580 182.7L577.1 184.8ZM574 176.8L576.9 174.8L573.9 171.9L570.9 173.9ZM552.8 157.6L555.8 155.6L552.8 153.1L549.8 155Z" fill="#b2db42" stroke="#b2db42" stroke-width="0.5"/>
<path d="M461.2 139.6L464.3 137.8L461.6 136.1L458.5 138ZM526.2 140.5L529.1 138.6L526.2 136.5L523.2 138.3ZM585.9 178.7L588.8 176.7L585.8 173.8L582.9 175.7ZM573.7 162.4L576.6 160.4L573.6 157.7L570.6 159.7ZM570.6 159.7L573.6 157.7L570.6 155.1L567.6 157Z" fill="#a1db45" stroke="#a1db45" stroke-width="0.5"/>
<path d="M458.5 138L461.6 136.1L458.9 134.5L455.8 136.3ZM485.1 135.7L488.1 133.9L485.3 132.1L482.3 133.9ZM602.2 233.2L605.1 231L602.1 227.4L599.1 229.6ZM602.1 227.4L605 225.2L601.9 221.7L599 223.9ZM601.9 221.7L604.8 219.6L601.8 216.1L598.8 218.2ZM598.2 196.4L601.1 194.3L598.1 191.1L595.2 193.2ZM535 138.9L538 137.1L535.1 134.9L532.1 136.8ZM591.8 179.7L594.7 177.7L591.7 174.7L588.8 176.7ZM585.6 168.9L588.5 166.9L585.5 164L582.6 166ZM564.6 149.9L567.5 148L564.5 145.5L561.6 147.4Z" fill="#98dc47" stroke="#98dc47" stroke-width="0.5"/>
<path d="M453.1 134.8L456.2 133L453.5 131.5L450.4 133.3ZM500.1 130.2L503.1 128.4L500.3 126.6L497.3 128.4ZM517.6 130.4L520.6 128.6L517.7 126.7L514.7 128.5ZM603.7 181.9L606.5 179.9L603.5 176.8L600.6 178.8ZM561.5 138.8L564.3 136.9L561.4 134.6L558.5 136.4Z" fill="#85dc4a" stroke="#85dc4a" stroke-width="0.5"/>
<path d="M450.4 133.3L453.5 131.5L450.9 130L447.8 131.8ZM485.6 128.6L488.7 126.8L485.9 125.1L482.9 126.9ZM613 196.8L615.8 194.7L612.8 191.4L609.9 193.5ZM609.6 183L612.4 181L609.4 177.9L606.5 179.9ZM570.2 137.4L573 135.6L570.1 133.2L567.2 135.1Z" fill="#7bdd4c" stroke="#7bdd4c" stroke-width="0.5"/>
<path d="M445.1 130.4L448.3 128.6L445.7 127.3L442.5 129.1ZM488.9 123.3L491.9 121.6L489.2 120L486.2 121.8ZM520.8 121.2L523.7 119.5L520.9 117.7L517.9 119.4ZM526.5 121.3L529.5 119.5L526.6 117.7L523.7 119.5ZM532.3 121.4L535.2 119.6L532.4 117.7L529.5 119.5ZM617.8 171.9L620.6 170L617.6 166.9L614.8 168.9ZM614.6 164L617.3 162L614.3 159.1L611.6 161ZM575.7 129.6L578.6 127.7L575.6 125.5L572.8 127.3Z" fill="#65dd50" stroke="#65dd50" stroke-width="0.5"/>
<path d="M442.5 129.1L445.7 127.3L443.1 126L440 127.8ZM500.7 119.7L503.7 117.9L500.9 116.3L497.9 118ZM558.3 120.4L561.1 118.6L558.2 116.6L555.4 118.4ZM607.9 144.1L610.7 142.2L607.7 139.5L604.9 141.4ZM599 136.2L601.7 134.4L598.8 131.9L596 133.7Z" fill="#5ade53" stroke="#5ade53" stroke-width="0.5"/>
<path d="M440 127.8L443.1 126L440.5 124.7L437.4 126.5ZM463.3 122.9L466.3 121.2L463.7 119.8L460.6 121.6ZM512.3 116L515.3 114.3L512.5 112.6L509.6 114.4ZM632.6 182.6L635.4 180.6L632.4 177.4L629.6 179.4ZM629.1 169.1L631.8 167.2L628.9 164.1L626.1 166.1ZM622.6 153.3L625.3 151.4L622.4 148.6L619.6 150.5ZM589.9 124.6L592.7 122.8L589.7 120.5L586.9 122.3ZM607.5 135.1L610.2 133.2L607.2 130.7L604.5 132.5Z" fill="#4ede55" stroke="#4ede55" stroke-width="0.5"/>
<path d="M437.4 126.5L440.5 124.7L438 123.6L434.9 125.3ZM483.8 117L486.8 115.3L484.1 113.8L481.1 115.6ZM638.4 183.9L641.1 181.9L638.1 178.6L635.4 180.6ZM563.8 113.1L566.6 111.3L563.7 109.3L560.9 111.1ZM634.6 165.2L637.3 163.3L634.3 160.3L631.6 162.2ZM578.1 115.7L580.9 113.9L578 111.8L575.2 113.6ZM631.3 157.3L634 155.4L631.1 152.4L628.3 154.3Z" fill="#42df57" stroke="#42df57" stroke-width="0.5"/>
<path d="M475.4 144.9L478.5 143.1L475.7 141.2L472.6 143.1ZM481.4 145L484.5 143.1L481.7 141.2L478.5 143.1ZM487.3 145.1L490.4 143.2L487.6 141.3L484.5 143.1ZM574.1 186.8L577.1 184.8L574 181.8L571.1 183.8ZM561.9 170.2L564.9 168.3L561.8 165.5L558.9 167.5ZM558.9 167.5L561.8 165.5L558.8 162.8L555.8 164.8Z" fill="#bbdb40" stroke="#bbdb40" stroke-width="0.5"/>
<path d="M469.8 141.3L473 139.4L470.2 137.7L467.1 139.5ZM592.9 222.5L595.9 220.4L592.8 216.9L589.8 219ZM511.3 141.8L514.3 140L511.4 137.9L508.4 139.8ZM589.5 202.6L592.4 200.5L589.3 197.3L586.4 199.4ZM576.9 174.8L579.8 172.8L576.8 169.9L573.9 171.9Z" fill="#abdb43" stroke="#abdb43" stroke-width="0.5"/>
<path d="M464.3 137.8L467.5 136L464.7 134.3L461.6 136.1Z" fill="#9adc46" stroke="#9adc46" stroke-width="0.5"/>
<path d="M461.6 136.1L464.7 134.3L462 132.7L458.9 134.5ZM605.1 231L608.1 228.8L605 225.2L602.1 227.4ZM605 225.2L607.9 223.1L604.8 219.6L601.9 221.7ZM604.8 219.6L607.7 217.4L604.7 214L601.8 216.1ZM604.7 214L607.6 211.9L604.5 208.4L601.6 210.5ZM523.3 134.4L526.3 132.6L523.4 130.6L520.5 132.4ZM601.1 194.3L604 192.3L601 189.1L598.1 191.1ZM588.5 166.9L591.4 164.9L588.4 162.1L585.5 164Z" fill="#91dc48" stroke="#91dc48" stroke-width="0.5"/>
<path d="M453.5 131.5L456.7 129.7L454 128.2L450.9 130ZM468.2 129.1L471.3 127.3L468.6 125.8L465.5 127.6ZM488.7 126.8L491.7 125L488.9 123.3L485.9 125.1ZM615.8 194.7L618.7 192.7L615.6 189.4L612.8 191.4ZM546.8 127.6L549.7 125.8L546.8 123.7L543.9 125.5ZM605.9 164.9L608.8 163L605.7 160L602.9 162ZM573 135.6L575.9 133.8L572.9 131.4L570.1 133.2ZM593.7 148.9L596.6 147L593.6 144.4L590.7 146.3ZM590.7 146.3L593.6 144.4L590.6 141.8L587.8 143.7Z" fill="#74dd4e" stroke="#74dd4e" stroke-width="0.5"/>
<path d="M448.3 128.6L451.4 126.9L448.8 125.5L445.7 127.3ZM491.9 121.6L494.9 119.8L492.2 118.2L489.2 120ZM517.9 119.4L520.9 117.7L518.1 115.9L515.1 117.7ZM523.7 119.5L526.6 117.7L523.8 115.9L520.9 117.7ZM529.5 119.5L532.4 117.7L529.5 115.9L526.6 117.7ZM535.2 119.6L538.1 117.8L535.3 116L532.4 117.7ZM541 119.8L543.9 118L541 116.1L538.1 117.8ZM623.8 178.2L626.6 176.2L623.6 173.1L620.8 175ZM561.2 122.5L564 120.7L561.1 118.6L558.3 120.4ZM617.3 162L620.1 160.1L617.1 157.2L614.3 159.1ZM611.1 151.5L613.9 149.6L610.9 146.8L608.1 148.7ZM590.2 133.1L593 131.2L590.1 128.8L587.3 130.6Z" fill="#5ede52" stroke="#5ede52" stroke-width="0.5"/>
<path d="M445.7 127.3L448.8 125.5L446.2 124.2L443.1 126ZM503.7 117.9L506.6 116.1L503.8 114.5L500.9 116.3ZM629.6 179.4L632.4 177.4L629.4 174.2L626.6 176.2ZM561.1 118.6L563.9 116.8L561 114.8L558.2 116.6ZM613.6 144.9L616.4 143L613.4 140.3L610.7 142.2ZM610.7 142.2L613.4 140.3L610.4 137.7L607.7 139.5ZM601.7 134.4L604.5 132.5L601.5 130L598.8 131.9ZM598.8 131.9L601.5 130L598.6 127.6L595.8 129.4Z" fill="#53de54" stroke="#53de54" stroke-width="0.5"/>
<path d="M443.1 126L446.2 124.2L443.6 123L440.5 124.7ZM566.7 115.1L569.5 113.3L566.6 111.3L563.8 113.1ZM625.3 151.4L628.1 149.5L625.1 146.7L622.4 148.6ZM616.1 138.5L618.9 136.6L615.9 134L613.2 135.8ZM613.2 135.8L615.9 134L612.9 131.4L610.2 133.2ZM610.2 133.2L612.9 131.4L610 128.9L607.2 130.7ZM607.2 130.7L610 128.9L607 126.4L604.3 128.2Z" fill="#47de56" stroke="#47de56" stroke-width="0.5"/>
<path d="M440.5 124.7L443.6 123L441.1 121.8L438 123.6ZM472.4 117.7L475.4 115.9L472.8 114.6L469.7 116.3ZM521.1 110.8L524 109L521.2 107.4L518.3 109.2ZM621.6 134.8L624.3 133L621.3 130.3L618.6 132.2ZM618.6 132.2L621.3 130.3L618.4 127.8L615.6 129.6ZM615.6 129.6L618.4 127.8L615.4 125.3L612.7 127.1ZM612.7 127.1L615.4 125.3L612.4 122.8L609.7 124.6Z" fill="#3dde5b" stroke="#3dde5b" stroke-width="0.5"/>
<path d="M574.8 229.9L577.8 227.7L574.7 224.2L571.7 226.4ZM498.8 153.4L501.9 151.5L499 149.3L495.9 151.2ZM534.8 164.7L537.8 162.8L534.8 160.2L531.8 162.2Z" fill="#d2da3c" stroke="#d2da3c" stroke-width="0.5"/>
<path d="M546.8 200.3L549.9 198.2L546.8 195.1L543.7 197.2Z" fill="#eed438" stroke="#eed438" stroke-width="0.5"/>
<path d="M498.6 157.6L501.7 155.6L498.8 153.4L495.7 155.3Z" fill="#ddd93a" stroke="#ddd93a" stroke-width="0.5"/>
<path d="M478.5 143.1L481.7 141.2L478.9 139.4L475.7 141.2ZM484.5 143.1L487.6 141.3L484.8 139.4L481.7 141.2ZM490.4 143.2L493.5 141.3L490.7 139.4L487.6 141.3ZM496.4 143.3L499.4 141.5L496.6 139.5L493.5 141.3ZM586.6 210.1L589.6 208L586.5 204.7L583.6 206.8ZM532 149.1L535 147.2L532 144.9L529 146.8ZM567.9 171.1L570.8 169.1L567.8 166.3L564.9 168.3ZM564.9 168.3L567.8 166.3L564.8 163.5L561.8 165.5ZM561.8 165.5L564.8 163.5L561.8 160.9L558.8 162.8ZM558.8 162.8L561.8 160.9L558.8 158.2L555.8 160.2Z" fill="#b4db42" stroke="#b4db42" stroke-width="0.5"/>
<path d="M456.7 129.7L459.8 127.9L457.1 126.5L454 128.2ZM471.3 127.3L474.4 125.5L471.7 124L468.6 125.8ZM549.7 125.8L552.5 124L549.6 121.9L546.8 123.7ZM599.5 149.7L602.3 147.8L599.4 145.2L596.6 147ZM596.6 147L599.4 145.2L596.4 142.5L593.6 144.4ZM593.6 144.4L596.4 142.5L593.4 139.9L590.6 141.8ZM590.6 141.8L593.4 139.9L590.4 137.4L587.6 139.2Z" fill="#6ddd4f" stroke="#6ddd4f" stroke-width="0.5"/>
<path d="M454 128.2L457.1 126.5L454.5 125.1L451.4 126.9ZM483.2 123.5L486.2 121.8L483.5 120.2L480.4 122ZM624.5 194L627.3 191.9L624.3 188.6L621.5 190.7ZM572.8 127.3L575.6 125.5L572.7 123.2L569.9 125Z" fill="#62dd51" stroke="#62dd51" stroke-width="0.5"/>
<path d="M451.4 126.9L454.5 125.1L451.9 123.8L448.8 125.5ZM520.9 117.7L523.8 115.9L521 114.2L518.1 115.9ZM631 211.8L633.8 209.7L630.8 206.2L627.9 208.3ZM630.8 206.2L633.5 204.1L630.5 200.7L627.7 202.8ZM630.5 200.7L633.3 198.6L630.3 195.3L627.5 197.3ZM543.9 118L546.7 116.2L543.9 114.3L541 116.1ZM626.6 176.2L629.4 174.2L626.4 171.1L623.6 173.1Z" fill="#57de53" stroke="#57de53" stroke-width="0.5"/>
<path d="M448.8 125.5L451.9 123.8L449.3 122.5L446.2 124.2ZM472 120.8L475.1 119.1L472.4 117.7L469.4 119.4ZM486.5 118.5L489.5 116.7L486.8 115.3L483.8 117ZM632.4 177.4L635.1 175.4L632.1 172.3L629.4 174.2ZM628.9 164.1L631.6 162.2L628.6 159.2L625.9 161.1ZM578.3 119.6L581.1 117.9L578.1 115.7L575.4 117.5ZM586.9 122.3L589.7 120.5L586.8 118.3L584 120.1ZM616.4 143L619.1 141.2L616.1 138.5L613.4 140.3ZM601.5 130L604.3 128.2L601.3 125.8L598.6 127.6Z" fill="#4cde55" stroke="#4cde55" stroke-width="0.5"/>
<path d="M446.2 124.2L449.3 122.5L446.7 121.3L443.6 123ZM512.5 112.6L515.4 110.9L512.6 109.3L509.7 111.1ZM637.8 173.4L640.6 171.5L637.6 168.3L634.8 170.3ZM569.5 113.3L572.3 111.6L569.4 109.6L566.6 111.3ZM621.8 139.3L624.6 137.5L621.6 134.8L618.9 136.6ZM607 126.4L609.7 124.6L606.8 122.2L604 124Z" fill="#40df57" stroke="#40df57" stroke-width="0.5"/>
<path d="M443.6 123L446.7 121.3L444.2 120.1L441.1 121.8ZM475.4 115.9L478.4 114.2L475.8 112.9L472.8 114.6ZM575.1 109.8L577.9 108.1L575 106.1L572.2 107.8Z" fill="#3cdc62" stroke="#3cdc62" stroke-width="0.5"/>
<path d="M577.8 227.7L580.9 225.5L577.7 222.1L574.7 224.2ZM501.9 151.5L505 149.6L502.1 147.5L499 149.3ZM537.8 162.8L540.8 160.8L537.8 158.3L534.8 160.2Z" fill="#cbda3d" stroke="#cbda3d" stroke-width="0.5"/>
<path d="M465.1 130.9L468.2 129.1L465.5 127.6L462.4 129.4ZM603.1 166.8L605.9 164.9L602.9 162L600.1 163.9Z" fill="#7add4c" stroke="#7add4c" stroke-width="0.5"/>
<path d="M459.8 127.9L462.9 126.1L460.2 124.7L457.1 126.5ZM474.4 125.5L477.4 123.8L474.7 122.3L471.7 124ZM621.3 185.4L624 183.4L621 180.2L618.2 182.2ZM567 126.8L569.9 125L566.9 122.8L564.1 124.7ZM605.3 150.6L608.1 148.7L605.1 146L602.3 147.8ZM602.3 147.8L605.1 146L602.1 143.3L599.4 145.2ZM593.4 139.9L596.2 138.1L593.2 135.5L590.4 137.4ZM590.4 137.4L593.2 135.5L590.2 133.1L587.4 134.9Z" fill="#66dd50" stroke="#66dd50" stroke-width="0.5"/>
<path d="M457.1 126.5L460.2 124.7L457.6 123.3L454.5 125.1ZM486.2 121.8L489.2 120L486.5 118.5L483.5 120.2ZM627.3 191.9L630.1 189.9L627.1 186.6L624.3 188.6ZM566.9 122.8L569.8 121.1L566.8 118.9L564 120.7ZM620.3 165L623.1 163.1L620.1 160.1L617.3 162ZM575.6 125.5L578.4 123.7L575.5 121.4L572.7 123.2ZM614.1 154.3L616.9 152.4L613.9 149.6L611.1 151.5Z" fill="#5cde52" stroke="#5cde52" stroke-width="0.5"/>
<path d="M454.5 125.1L457.6 123.3L454.9 122L451.9 123.8ZM497.9 118L500.9 116.3L498.1 114.7L495.2 116.5ZM523.8 115.9L526.7 114.2L523.9 112.4L521 114.2ZM529.5 115.9L532.4 114.2L529.6 112.4L526.7 114.2ZM535.3 116L538.1 114.2L535.3 112.4L532.4 114.2ZM541 116.1L543.9 114.3L541 112.5L538.1 114.2ZM546.7 116.2L549.6 114.4L546.7 112.5L543.9 114.3ZM629.4 174.2L632.1 172.3L629.1 169.1L626.4 171.1ZM566.8 118.9L569.6 117.1L566.7 115.1L563.9 116.8ZM616.6 147.7L619.4 145.8L616.4 143L613.6 144.9ZM595.8 129.4L598.6 127.6L595.6 125.2L592.8 127Z" fill="#51de54" stroke="#51de54" stroke-width="0.5"/>
<path d="M451.9 123.8L454.9 122L452.4 120.7L449.3 122.5ZM475.1 119.1L478.1 117.3L475.4 115.9L472.4 117.7ZM489.5 116.7L492.4 115L489.7 113.5L486.8 115.3ZM541 112.5L543.9 110.7L541 108.9L538.2 110.7ZM572.4 115.4L575.2 113.6L572.3 111.6L569.5 113.3ZM631.6 162.2L634.3 160.3L631.3 157.3L628.6 159.2ZM628.3 154.3L631.1 152.4L628.1 149.5L625.3 151.4ZM589.7 120.5L592.5 118.7L589.5 116.5L586.8 118.3ZM622.1 143.9L624.8 142.1L621.8 139.3L619.1 141.2ZM601.3 125.8L604 124L601.1 121.6L598.4 123.4Z" fill="#45de56" stroke="#45de56" stroke-width="0.5"/>
<path d="M449.3 122.5L452.4 120.7L449.8 119.5L446.7 121.3ZM640.6 171.5L643.3 169.5L640.3 166.4L637.6 168.3ZM572.3 111.6L575.1 109.8L572.2 107.8L569.4 109.6ZM624.6 137.5L627.2 135.6L624.3 133L621.6 134.8ZM609.7 124.6L612.4 122.8L609.5 120.4L606.8 122.2Z" fill="#3dde5c" stroke="#3dde5c" stroke-width="0.5"/>
<path d="M446.7 121.3L449.8 119.5L447.2 118.4L444.2 120.1ZM478.4 114.2L481.4 112.5L478.7 111.2L475.8 112.9ZM646 167.6L648.6 165.6L645.7 162.5L643 164.5ZM577.9 108.1L580.6 106.3L577.7 104.3L575 106.1Z" fill="#3bda69" stroke="#3bda69" stroke-width="0.5"/>
<path d="M580.9 225.5L583.9 223.3L580.8 219.9L577.7 222.1ZM505 149.6L508.1 147.7L505.2 145.6L502.1 147.5ZM519.9 152.5L523 150.6L520 148.3L517 150.2ZM528.9 155.3L531.9 153.4L528.9 151L525.9 152.9ZM568.1 185.8L571.1 183.8L568 180.8L565 182.8ZM540.8 160.8L543.8 158.9L540.9 156.4L537.8 158.3Z" fill="#c4da3f" stroke="#c4da3f" stroke-width="0.5"/>
<path d="M525.6 170.6L528.7 168.7L525.7 166.1L522.6 168.1Z" fill="#e6d939" stroke="#e6d939" stroke-width="0.5"/>
<path d="M504.8 153.7L507.9 151.8L505 149.6L501.9 151.5ZM531.8 162.2L534.8 160.2L531.8 157.7L528.8 159.7Z" fill="#d0da3d" stroke="#d0da3d" stroke-width="0.5"/>
<path d="M496.1 147.2L499.2 145.4L496.4 143.3L493.3 145.2ZM517 150.2L520 148.3L517.1 146.1L514.1 148ZM534.9 155.8L537.9 153.9L534.9 151.5L531.9 153.4ZM565 177.9L568 175.9L564.9 173L561.9 175ZM549.8 164.1L552.8 162.1L549.8 159.5L546.8 161.4Z" fill="#c0da3f" stroke="#c0da3f" stroke-width="0.5"/>
<path d="M493.3 145.2L496.4 143.3L493.5 141.3L490.4 143.2ZM583.7 212.2L586.6 210.1L583.6 206.8L580.6 208.9ZM555.8 164.8L558.8 162.8L555.8 160.2L552.8 162.1Z" fill="#bbdb41" stroke="#bbdb41" stroke-width="0.5"/>
<path d="M470.9 130.7L474 128.9L471.3 127.3L468.2 129.1ZM613.3 207.7L616.2 205.6L613.2 202.2L610.3 204.3ZM532.2 128.9L535.2 127.1L532.3 125.1L529.3 126.9ZM573.1 139.9L576 138L573 135.6L570.2 137.4Z" fill="#7ddd4c" stroke="#7ddd4c" stroke-width="0.5"/>
<path d="M465.5 127.6L468.6 125.8L465.9 124.3L462.9 126.1ZM506.3 123L509.2 121.3L506.4 119.5L503.5 121.3ZM622.5 218.1L625.3 216L622.3 212.5L619.4 214.6ZM621.9 201.4L624.7 199.4L621.7 196L618.9 198.1ZM541 123.5L543.9 121.7L541 119.8L538.1 121.5Z" fill="#6add50" stroke="#6add50" stroke-width="0.5"/>
<path d="M457.6 123.3L460.6 121.6L458 120.3L454.9 122ZM500.9 116.3L503.8 114.5L501.1 113L498.1 114.7ZM526.7 114.2L529.6 112.4L526.8 110.7L523.9 112.4ZM636.3 202.1L639.1 200L636.1 196.6L633.3 198.6ZM636.1 196.6L638.9 194.6L635.9 191.2L633.1 193.2ZM549.6 114.4L552.4 112.7L549.6 110.8L546.7 112.5ZM632.1 172.3L634.8 170.3L631.8 167.2L629.1 169.1Z" fill="#4ade55" stroke="#4ade55" stroke-width="0.5"/>
<path d="M454.9 122L458 120.3L455.4 119L452.4 120.7ZM492.4 115L495.4 113.2L492.7 111.8L489.7 113.5ZM631.1 152.4L633.8 150.5L630.8 147.7L628.1 149.5ZM592.5 118.7L595.2 117L592.3 114.7L589.5 116.5ZM624.8 142.1L627.5 140.2L624.6 137.5L621.8 139.3ZM604 124L606.8 122.2L603.8 119.8L601.1 121.6Z" fill="#3fdf58" stroke="#3fdf58" stroke-width="0.5"/>
<path d="M452.4 120.7L455.4 119L452.8 117.8L449.8 119.5ZM518.3 109.2L521.2 107.4L518.4 105.9L515.5 107.6ZM643.3 169.5L646 167.6L643 164.5L640.3 166.4ZM639.7 156.4L642.4 154.5L639.4 151.6L636.7 153.5ZM589.3 112.5L592.1 110.8L589.2 108.7L586.4 110.4ZM597.9 115.2L600.7 113.4L597.7 111.2L595 113Z" fill="#3cdc63" stroke="#3cdc63" stroke-width="0.5"/>
<path d="M449.8 119.5L452.8 117.8L450.3 116.6L447.2 118.4ZM481.4 112.5L484.4 110.8L481.7 109.5L478.7 111.2ZM648.6 165.6L651.3 163.7L648.3 160.6L645.7 162.5Z" fill="#3ad870" stroke="#3ad870" stroke-width="0.5"/>
<path d="M531.7 171.3L534.7 169.3L531.7 166.7L528.7 168.7Z" fill="#e0d939" stroke="#e0d939" stroke-width="0.5"/>
<path d="M468.6 125.8L471.7 124L469 122.6L465.9 124.3ZM509.2 121.3L512.2 119.5L509.4 117.8L506.4 119.5ZM625.3 216L628.2 213.9L625.1 210.4L622.3 212.5ZM624.7 199.4L627.5 197.3L624.5 194L621.7 196ZM543.9 121.7L546.7 119.9L543.9 118L541 119.8ZM611.3 156.2L614.1 154.3L611.1 151.5L608.3 153.4ZM584.5 132.5L587.3 130.6L584.3 128.3L581.5 130.1Z" fill="#63dd51" stroke="#63dd51" stroke-width="0.5"/>
<path d="M465.9 124.3L469 122.6L466.3 121.2L463.3 122.9ZM480.4 122L483.5 120.2L480.8 118.7L477.7 120.5ZM626.8 181.4L629.6 179.4L626.6 176.2L623.8 178.2ZM572.7 123.2L575.5 121.4L572.6 119.3L569.8 121.1ZM610.9 146.8L613.6 144.9L610.7 142.2L607.9 144.1ZM596 133.7L598.8 131.9L595.8 129.4L593 131.2Z" fill="#59de53" stroke="#59de53" stroke-width="0.5"/>
<path d="M460.6 121.6L463.7 119.8L461.1 118.5L458 120.3ZM523.9 112.4L526.8 110.7L524 109L521.1 110.8ZM639.3 205.5L642.1 203.5L639.1 200L636.3 202.1ZM638.6 189.2L641.3 187.2L638.4 183.9L635.6 185.9ZM558.1 112.8L560.9 111.1L558.1 109.2L555.3 110.9ZM586.8 118.3L589.5 116.5L586.6 114.3L583.8 116.1ZM625.1 146.7L627.8 144.8L624.8 142.1L622.1 143.9ZM598.4 123.4L601.1 121.6L598.1 119.2L595.4 121Z" fill="#43df57" stroke="#43df57" stroke-width="0.5"/>
<path d="M458 120.3L461.1 118.5L458.5 117.3L455.4 119ZM481.1 115.6L484.1 113.8L481.4 112.5L478.4 114.2ZM495.4 113.2L498.4 111.5L495.6 110.1L492.7 111.8ZM541 108.9L543.9 107.2L541 105.5L538.2 107.2ZM546.7 109L549.5 107.2L546.7 105.5L543.9 107.2ZM552.4 109.1L555.2 107.3L552.3 105.5L549.5 107.2ZM558.1 109.2L560.9 107.4L558 105.6L555.2 107.3ZM640.3 166.4L643 164.5L640 161.4L637.3 163.3ZM578 111.8L580.8 110.1L577.9 108.1L575.1 109.8Z" fill="#3ddd5e" stroke="#3ddd5e" stroke-width="0.5"/>
<path d="M455.4 119L458.5 117.3L455.9 116.1L452.8 117.8ZM521.2 107.4L524.1 105.7L521.3 104.2L518.4 105.9ZM642.4 154.5L645.1 152.6L642.1 149.7L639.4 151.6ZM592.1 110.8L594.8 109L591.9 106.9L589.2 108.7Z" fill="#3bda6a" stroke="#3bda6a" stroke-width="0.5"/>
<path d="M452.8 117.8L455.9 116.1L453.3 114.9L450.3 116.6ZM484.4 110.8L487.3 109.1L484.7 107.8L481.7 109.5Z" fill="#3ad677" stroke="#3ad677" stroke-width="0.5"/>
<path d="M596.1 231.8L599.1 229.6L596 226L593.1 228.2ZM586 183.8L588.9 181.8L585.9 178.7L583 180.7Z" fill="#a5db44" stroke="#a5db44" stroke-width="0.5"/>
<path d="M556 189L559 186.9L556 184L552.9 186Z" fill="#d9da3b" stroke="#d9da3b" stroke-width="0.5"/>
<path d="M516.9 154.4L519.9 152.5L517 150.2L513.9 152.1ZM525.8 157.2L528.9 155.3L525.9 152.9L522.9 154.8Z" fill="#cbda3e" stroke="#cbda3e" stroke-width="0.5"/>
<path d="M485.3 132.1L488.4 130.3L485.6 128.6L482.6 130.4ZM607.6 211.9L610.5 209.8L607.4 206.3L604.5 208.4ZM567.4 143.6L570.3 141.7L567.3 139.3L564.4 141.2Z" fill="#8adc4a" stroke="#8adc4a" stroke-width="0.5"/>
<path d="M482.6 130.4L485.6 128.6L482.9 126.9L479.8 128.7ZM535.1 131L538 129.2L535.2 127.1L532.2 128.9ZM606.7 185L609.6 183L606.5 179.9L603.7 181.9ZM549.7 133.8L552.6 131.9L549.7 129.7L546.8 131.6ZM603.5 176.8L606.3 174.8L603.3 171.8L600.5 173.8ZM558.5 136.4L561.4 134.6L558.4 132.3L555.6 134.2Z" fill="#82dc4b" stroke="#82dc4b" stroke-width="0.5"/>
<path d="M469 122.6L472 120.8L469.4 119.4L466.3 121.2ZM483.5 120.2L486.5 118.5L483.8 117L480.8 118.7ZM626.1 166.1L628.9 164.1L625.9 161.1L623.1 163.1ZM575.5 121.4L578.3 119.6L575.4 117.5L572.6 119.3ZM622.9 158.2L625.6 156.2L622.6 153.3L619.9 155.2ZM584.2 124.1L586.9 122.3L584 120.1L581.2 121.9Z" fill="#52de54" stroke="#52de54" stroke-width="0.5"/>
<path d="M463.7 119.8L466.7 118.1L464.1 116.8L461.1 118.5ZM526.8 110.7L529.7 109L526.8 107.3L524 109ZM641.1 181.9L643.8 179.9L640.8 176.6L638.1 178.6ZM580.9 113.9L583.7 112.2L580.8 110.1L578 111.8ZM634 155.4L636.7 153.5L633.8 150.5L631.1 152.4ZM589.5 116.5L592.3 114.7L589.3 112.5L586.6 114.3Z" fill="#3dde59" stroke="#3dde59" stroke-width="0.5"/>
<path d="M461.1 118.5L464.1 116.8L461.5 115.5L458.5 117.3ZM484.1 113.8L487 112.1L484.4 110.8L481.4 112.5ZM543.9 107.2L546.7 105.5L543.9 103.8L541 105.5ZM647.3 193.9L650 191.9L647.1 188.5L644.3 190.5ZM549.5 107.2L552.3 105.5L549.5 103.7L546.7 105.5ZM647.1 188.5L649.8 186.5L646.8 183.2L644.1 185.2ZM555.2 107.3L558 105.6L555.1 103.8L552.3 105.5ZM560.9 107.4L563.7 105.7L560.8 103.9L558 105.6ZM643 164.5L645.7 162.5L642.7 159.5L640 161.4Z" fill="#3cdb65" stroke="#3cdb65" stroke-width="0.5"/>
<path d="M458.5 117.3L461.5 115.5L458.9 114.3L455.9 116.1ZM524.1 105.7L526.9 104L524.1 102.5L521.3 104.2Z" fill="#3ad871" stroke="#3ad871" stroke-width="0.5"/>
<path d="M455.9 116.1L458.9 114.3L456.3 113.2L453.3 114.9ZM487.3 109.1L490.3 107.3L487.6 106.1L484.7 107.8Z" fill="#39d47e" stroke="#39d47e" stroke-width="0.5"/>
<path d="M496.8 135.7L499.9 133.9L497 132L494 133.8ZM502.7 135.8L505.7 134L502.9 132.1L499.9 133.9ZM598.4 201.7L601.3 199.7L598.2 196.4L595.3 198.5ZM579.6 163.2L582.5 161.2L579.5 158.5L576.6 160.4ZM576.6 160.4L579.5 158.5L576.5 155.8L573.6 157.7ZM573.6 157.7L576.5 155.8L573.5 153.1L570.6 155.1ZM570.6 155.1L573.5 153.1L570.5 150.5L567.6 152.4Z" fill="#9adc47" stroke="#9adc47" stroke-width="0.5"/>
<path d="M482.9 126.9L485.9 125.1L483.2 123.5L480.1 125.3ZM514.9 124.8L517.8 123L515 121.2L512 123ZM520.7 124.9L523.6 123.1L520.8 121.2L517.8 123ZM526.5 125L529.4 123.2L526.5 121.3L523.6 123.1ZM612.2 175.9L615 173.9L612 170.9L609.2 172.8ZM561.3 130.5L564.2 128.7L561.2 126.5L558.4 128.3ZM609 167.9L611.8 165.9L608.8 163L605.9 164.9ZM570.1 133.2L572.9 131.4L570 129.1L567.1 130.9ZM599.7 154.4L602.5 152.5L599.5 149.7L596.7 151.6ZM584.8 141.1L587.6 139.2L584.6 136.8L581.8 138.6Z" fill="#72dd4e" stroke="#72dd4e" stroke-width="0.5"/>
<path d="M469.4 119.4L472.4 117.7L469.7 116.3L466.7 118.1ZM498.1 114.7L501.1 113L498.4 111.5L495.4 113.2ZM518.2 112.5L521.1 110.8L518.3 109.2L515.4 110.9ZM638.1 178.6L640.8 176.6L637.8 173.4L635.1 175.4ZM628.1 149.5L630.8 147.7L627.8 144.8L625.1 146.7ZM595.4 121L598.1 119.2L595.2 117L592.5 118.7ZM618.9 136.6L621.6 134.8L618.6 132.2L615.9 134ZM615.9 134L618.6 132.2L615.6 129.6L612.9 131.4ZM612.9 131.4L615.6 129.6L612.7 127.1L610 128.9ZM610 128.9L612.7 127.1L609.7 124.6L607 126.4Z" fill="#41df57" stroke="#41df57" stroke-width="0.5"/>
<path d="M466.7 118.1L469.7 116.3L467.1 115.1L464.1 116.8ZM643.8 179.9L646.5 177.9L643.5 174.7L640.8 176.6ZM592.3 114.7L595 113L592.1 110.8L589.3 112.5Z" fill="#3cdd60" stroke="#3cdd60" stroke-width="0.5"/>
<path d="M464.1 116.8L467.1 115.1L464.5 113.8L461.5 115.5ZM487 112.1L490 110.4L487.3 109.1L484.4 110.8ZM515.5 107.6L518.4 105.9L515.7 104.4L512.8 106.1ZM541 105.5L543.9 103.8L541 102.1L538.2 103.8ZM650.3 197.3L653 195.3L650 191.9L647.3 193.9ZM546.7 105.5L549.5 103.7L546.7 102L543.9 103.8ZM650 191.9L652.7 189.9L649.8 186.5L647.1 188.5ZM649.8 186.5L652.5 184.5L649.5 181.2L646.8 183.2ZM649.5 181.2L652.2 179.2L649.2 175.9L646.5 177.9ZM563.7 105.7L566.4 104L563.6 102.1L560.8 103.9Z" fill="#3bd96c" stroke="#3bd96c" stroke-width="0.5"/>
<path d="M461.5 115.5L464.5 113.8L461.9 112.6L458.9 114.3Z" fill="#39d678" stroke="#39d678" stroke-width="0.5"/>
<path d="M458.9 114.3L461.9 112.6L459.4 111.5L456.3 113.2ZM490.3 107.3L493.2 105.6L490.5 104.4L487.6 106.1ZM532.6 100.6L535.4 98.9L532.7 97.4L529.8 99.1Z" fill="#38d285" stroke="#38d285" stroke-width="0.5"/>
<path d="M523 150.6L526 148.7L523.1 146.4L520 148.3ZM577.3 195L580.3 193L577.2 189.9L574.2 191.9ZM531.9 153.4L534.9 151.5L532 149.1L528.9 151ZM571.1 183.8L574 181.8L571 178.8L568 180.8Z" fill="#bddb40" stroke="#bddb40" stroke-width="0.5"/>
<path d="M499.9 133.9L502.9 132.1L500.1 130.2L497 132ZM505.7 134L508.7 132.1L505.9 130.2L502.9 132.1ZM511.6 134.1L514.6 132.2L511.7 130.3L508.7 132.1ZM601.3 199.7L604.2 197.6L601.1 194.3L598.2 196.4ZM546.8 139.7L549.7 137.9L546.8 135.6L543.9 137.5ZM585.5 164L588.4 162.1L585.4 159.3L582.5 161.2ZM582.5 161.2L585.4 159.3L582.3 156.6L579.5 158.5ZM573.5 153.1L576.3 151.2L573.4 148.6L570.5 150.5ZM570.5 150.5L573.4 148.6L570.4 146.1L567.5 148Z" fill="#93dc48" stroke="#93dc48" stroke-width="0.5"/>
<path d="M477.7 120.5L480.8 118.7L478.1 117.3L475.1 119.1ZM632.8 187.9L635.6 185.9L632.6 182.6L629.8 184.6ZM581.2 121.9L584 120.1L581.1 117.9L578.3 119.6Z" fill="#4fde54" stroke="#4fde54" stroke-width="0.5"/>
<path d="M469.7 116.3L472.8 114.6L470.1 113.3L467.1 115.1ZM532.5 107.2L535.4 105.5L532.6 103.9L529.7 105.6ZM642.7 159.5L645.4 157.5L642.4 154.5L639.7 156.4ZM586.4 110.4L589.2 108.7L586.2 106.6L583.5 108.3Z" fill="#3cdb67" stroke="#3cdb67" stroke-width="0.5"/>
<path d="M467.1 115.1L470.1 113.3L467.5 112.1L464.5 113.8ZM490 110.4L492.9 108.7L490.3 107.3L487.3 109.1ZM518.4 105.9L521.3 104.2L518.5 102.7L515.7 104.4ZM543.9 103.8L546.7 102L543.8 100.4L541 102.1ZM653 195.3L655.7 193.3L652.7 189.9L650 191.9ZM652.7 189.9L655.4 187.9L652.5 184.5L649.8 186.5ZM652.5 184.5L655.2 182.5L652.2 179.2L649.5 181.2ZM652.2 179.2L654.9 177.2L651.9 174L649.2 175.9ZM572.1 104.1L574.8 102.4L571.9 100.5L569.2 102.3Z" fill="#3ad773" stroke="#3ad773" stroke-width="0.5"/>
<path d="M464.5 113.8L467.5 112.1L464.9 110.9L461.9 112.6ZM529.8 102.3L532.6 100.6L529.8 99.1L527 100.8ZM560.7 100.4L563.5 98.7L560.6 96.9L557.9 98.6ZM566.3 100.4L569.1 98.7L566.2 97L563.5 98.7Z" fill="#39d47f" stroke="#39d47f" stroke-width="0.5"/>
<path d="M461.9 112.6L464.9 110.9L462.3 109.8L459.4 111.5ZM493.2 105.6L496.1 104L493.4 102.7L490.5 104.4ZM535.4 98.9L538.2 97.2L535.5 95.7L532.7 97.4Z" fill="#37d08c" stroke="#37d08c" stroke-width="0.5"/>
<path d="M494.5 126.7L497.5 124.9L494.7 123.2L491.7 125ZM616 200.1L618.9 198.1L615.8 194.7L613 196.8ZM564.3 132.8L567.1 130.9L564.2 128.7L561.3 130.5ZM602.9 162L605.7 160L602.7 157.2L599.9 159.1ZM576 138L578.8 136.2L575.9 133.8L573 135.6Z" fill="#76dd4d" stroke="#76dd4d" stroke-width="0.5"/>
<path d="M480.8 118.7L483.8 117L481.1 115.6L478.1 117.3ZM521 114.2L523.9 112.4L521.1 110.8L518.2 112.5ZM635.6 185.9L638.4 183.9L635.4 180.6L632.6 182.6ZM555.3 114.6L558.1 112.8L555.3 110.9L552.4 112.7ZM628.6 159.2L631.3 157.3L628.3 154.3L625.6 156.2ZM584 120.1L586.8 118.3L583.8 116.1L581.1 117.9ZM622.4 148.6L625.1 146.7L622.1 143.9L619.4 145.8Z" fill="#49de56" stroke="#49de56" stroke-width="0.5"/>
<path d="M478.1 117.3L481.1 115.6L478.4 114.2L475.4 115.9ZM538.2 110.7L541 108.9L538.2 107.2L535.3 108.9ZM543.9 110.7L546.7 109L543.9 107.2L541 108.9ZM549.6 110.8L552.4 109.1L549.5 107.2L546.7 109ZM555.3 110.9L558.1 109.2L555.2 107.3L552.4 109.1ZM637.6 168.3L640.3 166.4L637.3 163.3L634.6 165.2ZM575.2 113.6L578 111.8L575.1 109.8L572.3 111.6Z" fill="#3edf58" stroke="#3edf58" stroke-width="0.5"/>
<path d="M472.8 114.6L475.8 112.9L473.1 111.6L470.1 113.3ZM535.4 105.5L538.2 103.8L535.4 102.2L532.6 103.9ZM648.9 170.8L651.6 168.8L648.6 165.6L646 167.6ZM575 106.1L577.7 104.3L574.8 102.4L572.1 104.1ZM645.4 157.5L648 155.6L645.1 152.6L642.4 154.5Z" fill="#3bd96e" stroke="#3bd96e" stroke-width="0.5"/>
<path d="M470.1 113.3L473.1 111.6L470.5 110.4L467.5 112.1ZM492.9 108.7L495.9 107L493.2 105.6L490.3 107.3ZM521.3 104.2L524.1 102.5L521.4 101L518.5 102.7ZM546.7 102L549.5 100.3L546.6 98.7L543.8 100.4ZM655.7 193.3L658.4 191.3L655.4 187.9L652.7 189.9ZM654.9 177.2L657.5 175.3L654.6 172L651.9 174ZM654.6 172L657.2 170.1L654.3 166.9L651.6 168.8ZM574.8 102.4L577.6 100.7L574.7 98.8L571.9 100.5Z" fill="#39d57a" stroke="#39d57a" stroke-width="0.5"/>
<path d="M467.5 112.1L470.5 110.4L467.9 109.2L464.9 110.9ZM557.9 98.6L560.6 96.9L557.8 95.2L555 96.9ZM563.5 98.7L566.2 97L563.4 95.2L560.6 96.9ZM660.5 178.5L663.1 176.6L660.2 173.3L657.5 175.3ZM569.1 98.7L571.8 97L569 95.3L566.2 97ZM574.7 98.8L577.4 97.1L574.5 95.3L571.8 97Z" fill="#38d286" stroke="#38d286" stroke-width="0.5"/>
<path d="M464.9 110.9L467.9 109.2L465.3 108.1L462.3 109.8ZM569 95.3L571.7 93.6L568.8 91.9L566.1 93.5Z" fill="#36ce93" stroke="#36ce93" stroke-width="0.5"/>
<path d="M497.5 124.9L500.5 123.1L497.7 121.4L494.7 123.2ZM618.9 198.1L621.7 196L618.7 192.7L615.8 194.7ZM543.9 125.5L546.8 123.7L543.9 121.7L541 123.5ZM558.4 128.3L561.2 126.5L558.3 124.3L555.5 126.1ZM612 170.9L614.8 168.9L611.8 165.9L609 167.9ZM567.1 130.9L570 129.1L567 126.8L564.2 128.7Z" fill="#6fdd4f" stroke="#6fdd4f" stroke-width="0.5"/>
<path d="M475.8 112.9L478.7 111.2L476.1 109.9L473.1 111.6ZM651.6 168.8L654.3 166.9L651.3 163.7L648.6 165.6ZM577.7 104.3L580.4 102.6L577.6 100.7L574.8 102.4Z" fill="#3ad775" stroke="#3ad775" stroke-width="0.5"/>
<path d="M473.1 111.6L476.1 109.9L473.5 108.7L470.5 110.4ZM495.9 107L498.8 105.3L496.1 104L493.2 105.6ZM549.5 100.3L552.3 98.6L549.4 97L546.6 98.7ZM577.6 100.7L580.3 99L577.4 97.1L574.7 98.8Z" fill="#38d481" stroke="#38d481" stroke-width="0.5"/>
<path d="M470.5 110.4L473.5 108.7L470.9 107.5L467.9 109.2ZM560.6 96.9L563.4 95.2L560.5 93.6L557.8 95.2ZM663.4 181.9L666.1 179.9L663.1 176.6L660.5 178.5ZM566.2 97L569 95.3L566.1 93.5L563.4 95.2ZM663.1 176.6L665.8 174.6L662.8 171.3L660.2 173.3ZM571.8 97L574.5 95.3L571.7 93.6L569 95.3Z" fill="#37d08d" stroke="#37d08d" stroke-width="0.5"/>
<path d="M467.9 109.2L470.9 107.5L468.3 106.4L465.3 108.1ZM499 102.3L501.9 100.6L499.2 99.3L496.3 101ZM541 95.5L543.8 93.9L541 92.4L538.3 94ZM566.1 93.5L568.8 91.9L566 90.2L563.3 91.9Z" fill="#35cd9a" stroke="#35cd9a" stroke-width="0.5"/>
<path d="M494.9 119.8L497.9 118L495.2 116.5L492.2 118.2ZM526.6 117.7L529.5 115.9L526.7 114.2L523.8 115.9ZM532.4 117.7L535.3 116L532.4 114.2L529.5 115.9ZM538.1 117.8L541 116.1L538.1 114.2L535.3 116ZM564 120.7L566.8 118.9L563.9 116.8L561.1 118.6ZM623.3 168L626.1 166.1L623.1 163.1L620.3 165ZM620.1 160.1L622.9 158.2L619.9 155.2L617.1 157.2ZM581.4 125.9L584.2 124.1L581.2 121.9L578.4 123.7ZM613.9 149.6L616.6 147.7L613.6 144.9L610.9 146.8ZM593 131.2L595.8 129.4L592.8 127L590.1 128.8Z" fill="#58de53" stroke="#58de53" stroke-width="0.5"/>
<path d="M486.8 115.3L489.7 113.5L487 112.1L484.1 113.8ZM501.1 113L504 111.3L501.3 109.8L498.4 111.5ZM640.8 176.6L643.5 174.7L640.6 171.5L637.8 173.4ZM566.6 111.3L569.4 109.6L566.5 107.6L563.7 109.3ZM637.3 163.3L640 161.4L637 158.4L634.3 160.3ZM630.8 147.7L633.5 145.8L630.5 143L627.8 144.8ZM598.1 119.2L600.9 117.5L597.9 115.2L595.2 117Z" fill="#3dde5a" stroke="#3dde5a" stroke-width="0.5"/>
<path d="M478.7 111.2L481.7 109.5L479.1 108.2L476.1 109.9Z" fill="#39d57c" stroke="#39d57c" stroke-width="0.5"/>
<path d="M476.1 109.9L479.1 108.2L476.4 107L473.5 108.7ZM498.8 105.3L501.7 103.6L499 102.3L496.1 104ZM527 100.8L529.8 99.1L527.1 97.6L524.2 99.3Z" fill="#38d288" stroke="#38d288" stroke-width="0.5"/>
<path d="M473.5 108.7L476.4 107L473.8 105.9L470.9 107.5ZM666.4 185.3L669 183.3L666.1 179.9L663.4 181.9ZM563.4 95.2L566.1 93.5L563.3 91.9L560.5 93.6ZM666.1 179.9L668.7 177.9L665.8 174.6L663.1 176.6Z" fill="#36ce94" stroke="#36ce94" stroke-width="0.5"/>
<path d="M470.9 107.5L473.8 105.9L471.3 104.8L468.3 106.4Z" fill="#34cba1" stroke="#34cba1" stroke-width="0.5"/>
<path d="M489.7 113.5L492.7 111.8L490 110.4L487 112.1ZM504 111.3L507 109.5L504.2 108.1L501.3 109.8ZM524 109L526.8 107.3L524.1 105.7L521.2 107.4ZM643.5 174.7L646.2 172.7L643.3 169.5L640.6 171.5ZM569.4 109.6L572.2 107.8L569.3 105.9L566.5 107.6ZM633.5 145.8L636.2 143.9L633.2 141.1L630.5 143ZM600.9 117.5L603.6 115.7L600.7 113.4L597.9 115.2Z" fill="#3cdc61" stroke="#3cdc61" stroke-width="0.5"/>
<path d="M481.7 109.5L484.7 107.8L482 106.5L479.1 108.2ZM538.2 100.5L541 98.8L538.2 97.2L535.4 98.9Z" fill="#38d383" stroke="#38d383" stroke-width="0.5"/>
<path d="M479.1 108.2L482 106.5L479.4 105.3L476.4 107ZM529.8 99.1L532.7 97.4L529.9 95.9L527.1 97.6ZM549.4 97L552.2 95.3L549.4 93.7L546.6 95.4Z" fill="#37d08f" stroke="#37d08f" stroke-width="0.5"/>
<path d="M476.4 107L479.4 105.3L476.8 104.2L473.8 105.9ZM521.5 97.9L524.3 96.2L521.6 94.8L518.8 96.5ZM560.5 93.6L563.3 91.9L560.5 90.3L557.7 91.9ZM669 183.3L671.7 181.3L668.7 177.9L666.1 179.9Z" fill="#35cc9b" stroke="#35cc9b" stroke-width="0.5"/>
<path d="M473.8 105.9L476.8 104.2L474.2 103.1L471.3 104.8Z" fill="#34c9a8" stroke="#34c9a8" stroke-width="0.5"/>
<path d="M526.3 132.6L529.3 130.8L526.4 128.7L523.4 130.6Z" fill="#8adc49" stroke="#8adc49" stroke-width="0.5"/>
<path d="M492.7 111.8L495.6 110.1L492.9 108.7L490 110.4ZM507 109.5L509.9 107.8L507.1 106.4L504.2 108.1ZM526.8 107.3L529.7 105.6L526.9 104L524.1 105.7ZM646.2 172.7L648.9 170.8L646 167.6L643.3 169.5Z" fill="#3bda68" stroke="#3bda68" stroke-width="0.5"/>
<path d="M484.7 107.8L487.6 106.1L485 104.8L482 106.5ZM507.3 103.2L510.2 101.5L507.5 100.2L504.6 101.9ZM541 98.8L543.8 97.1L541 95.5L538.2 97.2Z" fill="#37d18a" stroke="#37d18a" stroke-width="0.5"/>
<path d="M482 106.5L485 104.8L482.3 103.6L479.4 105.3ZM552.2 95.3L555 93.6L552.2 92.1L549.4 93.7Z" fill="#36ce96" stroke="#36ce96" stroke-width="0.5"/>
<path d="M479.4 105.3L482.3 103.6L479.7 102.5L476.8 104.2ZM524.3 96.2L527.1 94.5L524.4 93.2L521.6 94.8ZM563.3 91.9L566 90.2L563.2 88.6L560.5 90.3Z" fill="#34caa2" stroke="#34caa2" stroke-width="0.5"/>
<path d="M476.8 104.2L479.7 102.5L477.1 101.4L474.2 103.1Z" fill="#33c7af" stroke="#33c7af" stroke-width="0.5"/>
<path d="M598.1 191.1L601 189.1L597.9 185.9L595 187.9ZM594.9 182.8L597.8 180.8L594.7 177.7L591.8 179.7Z" fill="#95dc47" stroke="#95dc47" stroke-width="0.5"/>
<path d="M506.6 116.1L509.6 114.4L506.8 112.8L503.8 114.5ZM563.9 116.8L566.7 115.1L563.8 113.1L561 114.8ZM613.4 140.3L616.1 138.5L613.2 135.8L610.4 137.7ZM610.4 137.7L613.2 135.8L610.2 133.2L607.5 135.1ZM604.5 132.5L607.2 130.7L604.3 128.2L601.5 130Z" fill="#4dde55" stroke="#4dde55" stroke-width="0.5"/>
<path d="M503.8 114.5L506.8 112.8L504 111.3L501.1 113ZM529.6 112.4L532.5 110.7L529.7 109L526.8 110.7ZM535.3 112.4L538.2 110.7L535.3 108.9L532.5 110.7ZM639.1 200L641.9 198L638.9 194.6L636.1 196.6ZM638.9 194.6L641.6 192.5L638.6 189.2L635.9 191.2ZM552.4 112.7L555.3 110.9L552.4 109.1L549.6 110.8ZM634.8 170.3L637.6 168.3L634.6 165.2L631.8 167.2Z" fill="#44de57" stroke="#44de57" stroke-width="0.5"/>
<path d="M498.4 111.5L501.3 109.8L498.6 108.4L495.6 110.1ZM580.8 110.1L583.5 108.3L580.6 106.3L577.9 108.1ZM636.4 148.7L639.1 146.8L636.2 143.9L633.5 145.8Z" fill="#3cdb64" stroke="#3cdb64" stroke-width="0.5"/>
<path d="M495.6 110.1L498.6 108.4L495.9 107L492.9 108.7ZM509.9 107.8L512.8 106.1L510 104.6L507.1 106.4ZM529.7 105.6L532.6 103.9L529.8 102.3L526.9 104Z" fill="#3bd86f" stroke="#3bd86f" stroke-width="0.5"/>
<path d="M487.6 106.1L490.5 104.4L487.9 103.1L485 104.8Z" fill="#37cf91" stroke="#37cf91" stroke-width="0.5"/>
<path d="M485 104.8L487.9 103.1L485.2 102L482.3 103.6ZM555 93.6L557.7 91.9L554.9 90.4L552.2 92.1Z" fill="#35cc9d" stroke="#35cc9d" stroke-width="0.5"/>
<path d="M482.3 103.6L485.2 102L482.6 100.8L479.7 102.5Z" fill="#34c8a9" stroke="#34c8a9" stroke-width="0.5"/>
<path d="M479.7 102.5L482.6 100.8L480 99.8L477.1 101.4ZM532.7 91.2L535.5 89.6L532.8 88.2L530 89.9Z" fill="#32c5b6" stroke="#32c5b6" stroke-width="0.5"/>
<path d="M622.3 212.5L625.1 210.4L622.1 206.9L619.3 209ZM622.1 206.9L624.9 204.8L621.9 201.4L619.1 203.5ZM618.2 182.2L621 180.2L618 177L615.2 179Z" fill="#6add4f" stroke="#6add4f" stroke-width="0.5"/>
<path d="M564.6 154.4L567.6 152.4L564.6 149.9L561.6 151.8Z" fill="#a0dc46" stroke="#a0dc46" stroke-width="0.5"/>
<path d="M509.6 114.4L512.5 112.6L509.7 111.1L506.8 112.8ZM635.1 175.4L637.8 173.4L634.8 170.3L632.1 172.3ZM581.1 117.9L583.8 116.1L580.9 113.9L578.1 115.7ZM619.1 141.2L621.8 139.3L618.9 136.6L616.1 138.5ZM604.3 128.2L607 126.4L604 124L601.3 125.8Z" fill="#46de56" stroke="#46de56" stroke-width="0.5"/>
<path d="M506.8 112.8L509.7 111.1L507 109.5L504 111.3ZM532.5 110.7L535.3 108.9L532.5 107.2L529.7 109ZM642.1 203.5L644.8 201.4L641.9 198L639.1 200ZM641.9 198L644.6 195.9L641.6 192.5L638.9 194.6ZM641.6 192.5L644.3 190.5L641.3 187.2L638.6 189.2ZM641.3 187.2L644.1 185.2L641.1 181.9L638.4 183.9ZM627.8 144.8L630.5 143L627.5 140.2L624.8 142.1ZM601.1 121.6L603.8 119.8L600.9 117.5L598.1 119.2Z" fill="#3ddf58" stroke="#3ddf58" stroke-width="0.5"/>
<path d="M501.3 109.8L504.2 108.1L501.5 106.6L498.6 108.4ZM552.3 105.5L555.1 103.8L552.3 102L549.5 103.7ZM558 105.6L560.8 103.9L557.9 102.1L555.1 103.8ZM645.7 162.5L648.3 160.6L645.4 157.5L642.7 159.5ZM583.5 108.3L586.2 106.6L583.3 104.6L580.6 106.3Z" fill="#3bd96b" stroke="#3bd96b" stroke-width="0.5"/>
<path d="M498.6 108.4L501.5 106.6L498.8 105.3L495.9 107ZM532.6 103.9L535.4 102.2L532.6 100.6L529.8 102.3Z" fill="#3ad776" stroke="#3ad776" stroke-width="0.5"/>
<path d="M490.5 104.4L493.4 102.7L490.8 101.5L487.9 103.1ZM513.1 99.9L515.9 98.2L513.2 96.9L510.3 98.5ZM527.1 97.6L529.9 95.9L527.1 94.5L524.3 96.2ZM546.6 95.4L549.4 93.7L546.6 92.2L543.8 93.9Z" fill="#36cd98" stroke="#36cd98" stroke-width="0.5"/>
<path d="M487.9 103.1L490.8 101.5L488.2 100.3L485.2 102Z" fill="#34caa4" stroke="#34caa4" stroke-width="0.5"/>
<path d="M485.2 102L488.2 100.3L485.5 99.2L482.6 100.8ZM529.9 92.9L532.7 91.2L530 89.9L527.2 91.5ZM543.8 90.7L546.6 89.1L543.8 87.6L541.1 89.3Z" fill="#33c7b0" stroke="#33c7b0" stroke-width="0.5"/>
<path d="M482.6 100.8L485.5 99.2L482.9 98.1L480 99.8ZM535.5 89.6L538.3 87.9L535.6 86.6L532.8 88.2Z" fill="#31c3bd" stroke="#31c3bd" stroke-width="0.5"/>
<path d="M541 131.3L543.9 129.4L541 127.3L538 129.2ZM600.3 168.8L603.1 166.8L600.1 163.9L597.3 165.9Z" fill="#81dd4b" stroke="#81dd4b" stroke-width="0.5"/>
<path d="M518.1 115.9L521 114.2L518.2 112.5L515.3 114.3ZM633.8 209.7L636.6 207.6L633.5 204.1L630.8 206.2ZM633.5 204.1L636.3 202.1L633.3 198.6L630.5 200.7ZM633.3 198.6L636.1 196.6L633.1 193.2L630.3 195.3ZM633.1 193.2L635.9 191.2L632.8 187.9L630.1 189.9ZM552.5 116.4L555.3 114.6L552.4 112.7L549.6 114.4ZM619.6 150.5L622.4 148.6L619.4 145.8L616.6 147.7ZM592.8 127L595.6 125.2L592.7 122.8L589.9 124.6Z" fill="#50de54" stroke="#50de54" stroke-width="0.5"/>
<path d="M509.7 111.1L512.6 109.3L509.9 107.8L507 109.5ZM535.3 108.9L538.2 107.2L535.4 105.5L532.5 107.2ZM644.8 201.4L647.6 199.4L644.6 195.9L641.9 198ZM644.6 195.9L647.3 193.9L644.3 190.5L641.6 192.5ZM644.3 190.5L647.1 188.5L644.1 185.2L641.3 187.2ZM644.1 185.2L646.8 183.2L643.8 179.9L641.1 181.9ZM630.5 143L633.2 141.1L630.2 138.3L627.5 140.2ZM603.8 119.8L606.5 118L603.6 115.7L600.9 117.5Z" fill="#3ddd5f" stroke="#3ddd5f" stroke-width="0.5"/>
<path d="M504.2 108.1L507.1 106.4L504.4 104.9L501.5 106.6ZM549.5 103.7L552.3 102L549.5 100.3L546.7 102ZM566.4 104L569.2 102.3L566.3 100.4L563.6 102.1Z" fill="#3ad772" stroke="#3ad772" stroke-width="0.5"/>
<path d="M501.5 106.6L504.4 104.9L501.7 103.6L498.8 105.3ZM515.7 104.4L518.5 102.7L515.8 101.3L512.9 102.9ZM535.4 102.2L538.2 100.5L535.4 98.9L532.6 100.6Z" fill="#39d57d" stroke="#39d57d" stroke-width="0.5"/>
<path d="M496.1 104L499 102.3L496.3 101L493.4 102.7ZM538.2 97.2L541 95.5L538.3 94L535.5 95.7Z" fill="#36cf93" stroke="#36cf93" stroke-width="0.5"/>
<path d="M493.4 102.7L496.3 101L493.7 99.8L490.8 101.5ZM549.4 93.7L552.2 92.1L549.4 90.5L546.6 92.2Z" fill="#35cb9e" stroke="#35cb9e" stroke-width="0.5"/>
<path d="M490.8 101.5L493.7 99.8L491.1 98.6L488.2 100.3Z" fill="#33c8ab" stroke="#33c8ab" stroke-width="0.5"/>
<path d="M488.2 100.3L491.1 98.6L488.4 97.5L485.5 99.2ZM518.9 93.5L521.7 91.9L519 90.6L516.2 92.3ZM546.6 89.1L549.3 87.4L546.6 86L543.8 87.6Z" fill="#32c5b7" stroke="#32c5b7" stroke-width="0.5"/>
<path d="M485.5 99.2L488.4 97.5L485.8 96.5L482.9 98.1ZM538.3 87.9L541.1 86.3L538.3 84.9L535.6 86.6ZM552.1 85.8L554.8 84.1L552 82.7L549.3 84.4Z" fill="#30c1c4" stroke="#30c1c4" stroke-width="0.5"/>
<path d="M543.9 129.4L546.8 127.6L543.9 125.5L541 127.3ZM593.9 153.5L596.7 151.6L593.7 148.9L590.9 150.8ZM590.9 150.8L593.7 148.9L590.7 146.3L587.9 148.2ZM587.9 148.2L590.7 146.3L587.8 143.7L584.9 145.5ZM584.9 145.5L587.8 143.7L584.8 141.1L581.9 143Z" fill="#7add4d" stroke="#7add4d" stroke-width="0.5"/>
<path d="M515.4 110.9L518.3 109.2L515.5 107.6L512.6 109.3ZM586.6 114.3L589.3 112.5L586.4 110.4L583.7 112.2Z" fill="#3ddd5c" stroke="#3ddd5c" stroke-width="0.5"/>
<path d="M512.6 109.3L515.5 107.6L512.8 106.1L509.9 107.8ZM538.2 107.2L541 105.5L538.2 103.8L535.4 105.5ZM647.6 199.4L650.3 197.3L647.3 193.9L644.6 195.9ZM646.8 183.2L649.5 181.2L646.5 177.9L643.8 179.9ZM646.5 177.9L649.2 175.9L646.2 172.7L643.5 174.7ZM566.5 107.6L569.3 105.9L566.4 104L563.7 105.7ZM639.4 151.6L642.1 149.7L639.1 146.8L636.4 148.7ZM595 113L597.7 111.2L594.8 109L592.1 110.8Z" fill="#3cdb66" stroke="#3cdb66" stroke-width="0.5"/>
<path d="M507.1 106.4L510 104.6L507.3 103.2L504.4 104.9ZM552.3 102L555.1 100.3L552.3 98.6L549.5 100.3ZM655.4 187.9L658.1 185.9L655.2 182.5L652.5 184.5ZM557.9 102.1L560.7 100.4L557.9 98.6L555.1 100.3ZM655.2 182.5L657.8 180.5L654.9 177.2L652.2 179.2ZM563.6 102.1L566.3 100.4L563.5 98.7L560.7 100.4ZM569.2 102.3L571.9 100.5L569.1 98.7L566.3 100.4Z" fill="#39d679" stroke="#39d679" stroke-width="0.5"/>
<path d="M504.4 104.9L507.3 103.2L504.6 101.9L501.7 103.6ZM518.5 102.7L521.4 101L518.6 99.6L515.8 101.3Z" fill="#38d384" stroke="#38d384" stroke-width="0.5"/>
<path d="M501.7 103.6L504.6 101.9L501.9 100.6L499 102.3ZM515.8 101.3L518.6 99.6L515.9 98.2L513.1 99.9ZM555 96.9L557.8 95.2L555 93.6L552.2 95.3ZM663.7 187.3L666.4 185.3L663.4 181.9L660.8 183.9Z" fill="#37d08e" stroke="#37d08e" stroke-width="0.5"/>
<path d="M496.3 101L499.2 99.3L496.6 98.1L493.7 99.8ZM552.2 92.1L554.9 90.4L552.1 88.9L549.4 90.5Z" fill="#34caa5" stroke="#34caa5" stroke-width="0.5"/>
<path d="M493.7 99.8L496.6 98.1L493.9 97L491.1 98.6ZM516 95.2L518.9 93.5L516.2 92.3L513.3 93.9Z" fill="#33c6b1" stroke="#33c6b1" stroke-width="0.5"/>
<path d="M491.1 98.6L493.9 97L491.3 95.9L488.4 97.5ZM521.7 91.9L524.5 90.2L521.8 89L519 90.6ZM549.3 87.4L552.1 85.8L549.3 84.4L546.6 86Z" fill="#31c3be" stroke="#31c3be" stroke-width="0.5"/>
<path d="M488.4 97.5L491.3 95.9L488.7 94.8L485.8 96.5ZM541.1 86.3L543.8 84.6L541.1 83.3L538.3 84.9Z" fill="#2fbfcb" stroke="#2fbfcb" stroke-width="0.5"/>
<path d="M512.8 106.1L515.7 104.4L512.9 102.9L510 104.6ZM651.3 163.7L654 161.8L651 158.7L648.3 160.6ZM583.3 104.6L586.1 102.9L583.2 100.9L580.4 102.6Z" fill="#3ad676" stroke="#3ad676" stroke-width="0.5"/>
<path d="M510 104.6L512.9 102.9L510.2 101.5L507.3 103.2ZM555.1 100.3L557.9 98.6L555 96.9L552.3 98.6ZM658.1 185.9L660.8 183.9L657.8 180.5L655.2 182.5ZM657.8 180.5L660.5 178.5L657.5 175.3L654.9 177.2ZM657.5 175.3L660.2 173.3L657.2 170.1L654.6 172ZM571.9 100.5L574.7 98.8L571.8 97L569.1 98.7Z" fill="#39d480" stroke="#39d480" stroke-width="0.5"/>
<path d="M504.6 101.9L507.5 100.2L504.8 98.9L501.9 100.6ZM518.6 99.6L521.5 97.9L518.8 96.5L515.9 98.2ZM532.7 97.4L535.5 95.7L532.7 94.3L529.9 95.9ZM557.8 95.2L560.5 93.6L557.7 91.9L555 93.6Z" fill="#36ce95" stroke="#36ce95" stroke-width="0.5"/>
<path d="M501.9 100.6L504.8 98.9L502.1 97.7L499.2 99.3Z" fill="#35cba1" stroke="#35cba1" stroke-width="0.5"/>
<path d="M499.2 99.3L502.1 97.7L499.4 96.5L496.6 98.1ZM535.5 92.6L538.3 90.9L535.5 89.6L532.7 91.2ZM554.9 90.4L557.7 88.7L554.9 87.2L552.1 88.9Z" fill="#33c8ac" stroke="#33c8ac" stroke-width="0.5"/>
<path d="M496.6 98.1L499.4 96.5L496.8 95.3L493.9 97Z" fill="#32c4b8" stroke="#32c4b8" stroke-width="0.5"/>
<path d="M493.9 97L496.8 95.3L494.2 94.2L491.3 95.9ZM524.5 90.2L527.3 88.6L524.6 87.3L521.8 89Z" fill="#30c1c5" stroke="#30c1c5" stroke-width="0.5"/>
<path d="M491.3 95.9L494.2 94.2L491.6 93.2L488.7 94.8ZM530.1 86.9L532.8 85.3L530.1 84.1L527.3 85.7Z" fill="#2fbdd2" stroke="#2fbdd2" stroke-width="0.5"/>
<path d="M636.6 207.6L639.3 205.5L636.3 202.1L633.5 204.1ZM635.9 191.2L638.6 189.2L635.6 185.9L632.8 187.9ZM595.6 125.2L598.4 123.4L595.4 121L592.7 122.8Z" fill="#4ade56" stroke="#4ade56" stroke-width="0.5"/>
<path d="M621.5 190.7L624.3 188.6L621.3 185.4L618.4 187.4ZM546.8 123.7L549.6 121.9L546.7 119.9L543.9 121.7ZM618 177L620.8 175L617.8 171.9L615 173.9ZM561.2 126.5L564.1 124.7L561.2 122.5L558.3 124.3ZM614.8 168.9L617.6 166.9L614.6 164L611.8 165.9Z" fill="#68dd50" stroke="#68dd50" stroke-width="0.5"/>
<path d="M612.4 181L615.2 179L612.2 175.9L609.4 177.9Z" fill="#75dd4e" stroke="#75dd4e" stroke-width="0.5"/>
<path d="M532.4 114.2L535.3 112.4L532.5 110.7L529.6 112.4ZM538.1 114.2L541 112.5L538.2 110.7L535.3 112.4ZM543.9 114.3L546.7 112.5L543.9 110.7L541 112.5ZM569.6 117.1L572.4 115.4L569.5 113.3L566.7 115.1ZM625.6 156.2L628.3 154.3L625.3 151.4L622.6 153.3ZM619.4 145.8L622.1 143.9L619.1 141.2L616.4 143ZM598.6 127.6L601.3 125.8L598.4 123.4L595.6 125.2Z" fill="#4bde55" stroke="#4bde55" stroke-width="0.5"/>
<path d="M512.9 102.9L515.8 101.3L513.1 99.9L510.2 101.5ZM552.3 98.6L555 96.9L552.2 95.3L549.4 97ZM661.1 189.3L663.7 187.3L660.8 183.9L658.1 185.9ZM660.8 183.9L663.4 181.9L660.5 178.5L657.8 180.5ZM660.2 173.3L662.8 171.3L659.9 168.1L657.2 170.1Z" fill="#38d287" stroke="#38d287" stroke-width="0.5"/>
<path d="M510.2 101.5L513.1 99.9L510.3 98.5L507.5 100.2ZM524.2 99.3L527.1 97.6L524.3 96.2L521.5 97.9ZM543.8 97.1L546.6 95.4L543.8 93.9L541 95.5Z" fill="#36cf91" stroke="#36cf91" stroke-width="0.5"/>
<path d="M507.5 100.2L510.3 98.5L507.6 97.2L504.8 98.9ZM535.5 95.7L538.3 94L535.5 92.6L532.7 94.3Z" fill="#35cc9c" stroke="#35cc9c" stroke-width="0.5"/>
<path d="M504.8 98.9L507.6 97.2L505 96L502.1 97.7ZM546.6 92.2L549.4 90.5L546.6 89.1L543.8 90.7Z" fill="#34c9a7" stroke="#34c9a7" stroke-width="0.5"/>
<path d="M502.1 97.7L505 96L502.3 94.8L499.4 96.5ZM524.4 93.2L527.2 91.5L524.5 90.2L521.7 91.9ZM538.3 90.9L541.1 89.3L538.3 87.9L535.5 89.6Z" fill="#32c6b3" stroke="#32c6b3" stroke-width="0.5"/>
<path d="M499.4 96.5L502.3 94.8L499.7 93.7L496.8 95.3Z" fill="#31c3bf" stroke="#31c3bf" stroke-width="0.5"/>
<path d="M496.8 95.3L499.7 93.7L497 92.6L494.2 94.2ZM527.3 88.6L530.1 86.9L527.3 85.7L524.6 87.3Z" fill="#2fbfcc" stroke="#2fbfcc" stroke-width="0.5"/>
<path d="M494.2 94.2L497 92.6L494.4 91.5L491.6 93.2Z" fill="#2ebcd9" stroke="#2ebcd9" stroke-width="0.5"/>
<path d="M624.3 188.6L627.1 186.6L624 183.4L621.3 185.4ZM614.3 159.1L617.1 157.2L614.1 154.3L611.3 156.2ZM581.5 130.1L584.3 128.3L581.4 125.9L578.6 127.7ZM599.2 140.6L601.9 138.8L599 136.2L596.2 138.1Z" fill="#61de51" stroke="#61de51" stroke-width="0.5"/>
<path d="M529.7 109L532.5 107.2L529.7 105.6L526.8 107.3ZM640 161.4L642.7 159.5L639.7 156.4L637 158.4ZM583.7 112.2L586.4 110.4L583.5 108.3L580.8 110.1ZM636.7 153.5L639.4 151.6L636.4 148.7L633.8 150.5Z" fill="#3cdc60" stroke="#3cdc60" stroke-width="0.5"/>
<path d="M510.3 98.5L513.2 96.9L510.5 95.6L507.6 97.2ZM538.3 94L541 92.4L538.3 90.9L535.5 92.6ZM557.7 91.9L560.5 90.3L557.7 88.7L554.9 90.4Z" fill="#34caa3" stroke="#34caa3" stroke-width="0.5"/>
<path d="M507.6 97.2L510.5 95.6L507.8 94.3L505 96ZM549.4 90.5L552.1 88.9L549.3 87.4L546.6 89.1Z" fill="#33c7ae" stroke="#33c7ae" stroke-width="0.5"/>
<path d="M505 96L507.8 94.3L505.2 93.2L502.3 94.8ZM541.1 89.3L543.8 87.6L541.1 86.3L538.3 87.9Z" fill="#32c4ba" stroke="#32c4ba" stroke-width="0.5"/>
<path d="M502.3 94.8L505.2 93.2L502.5 92L499.7 93.7Z" fill="#30c1c6" stroke="#30c1c6" stroke-width="0.5"/>
<path d="M499.7 93.7L502.5 92L499.9 90.9L497 92.6Z" fill="#2fbdd3" stroke="#2fbdd3" stroke-width="0.5"/>
<path d="M497 92.6L499.9 90.9L497.3 89.9L494.4 91.5Z" fill="#2db9df" stroke="#2db9df" stroke-width="0.5"/>
<path d="M558.3 124.3L561.2 122.5L558.3 120.4L555.4 122.2ZM587.4 134.9L590.2 133.1L587.3 130.6L584.5 132.5Z" fill="#65dd51" stroke="#65dd51" stroke-width="0.5"/>
<path d="M526.9 104L529.8 102.3L527 100.8L524.1 102.5Z" fill="#3ad678" stroke="#3ad678" stroke-width="0.5"/>
<path d="M524.1 102.5L527 100.8L524.2 99.3L521.4 101ZM657.2 170.1L659.9 168.1L656.9 164.9L654.3 166.9Z" fill="#38d381" stroke="#38d381" stroke-width="0.5"/>
<path d="M521.4 101L524.2 99.3L521.5 97.9L518.6 99.6Z" fill="#37d18b" stroke="#37d18b" stroke-width="0.5"/>
<path d="M515.9 98.2L518.8 96.5L516 95.2L513.2 96.9ZM529.9 95.9L532.7 94.3L529.9 92.9L527.1 94.5Z" fill="#35cb9f" stroke="#35cb9f" stroke-width="0.5"/>
<path d="M513.2 96.9L516 95.2L513.3 93.9L510.5 95.6ZM541 92.4L543.8 90.7L541.1 89.3L538.3 90.9ZM560.5 90.3L563.2 88.6L560.4 87.1L557.7 88.7Z" fill="#33c8aa" stroke="#33c8aa" stroke-width="0.5"/>
<path d="M510.5 95.6L513.3 93.9L510.7 92.7L507.8 94.3Z" fill="#32c5b5" stroke="#32c5b5" stroke-width="0.5"/>
<path d="M507.8 94.3L510.7 92.7L508 91.5L505.2 93.2ZM530 89.9L532.8 88.2L530.1 86.9L527.3 88.6ZM543.8 87.6L546.6 86L543.8 84.6L541.1 86.3Z" fill="#31c2c1" stroke="#31c2c1" stroke-width="0.5"/>
<path d="M505.2 93.2L508 91.5L505.3 90.4L502.5 92Z" fill="#2fbfcd" stroke="#2fbfcd" stroke-width="0.5"/>
<path d="M502.5 92L505.3 90.4L502.7 89.3L499.9 90.9ZM532.8 85.3L535.6 83.7L532.9 82.5L530.1 84.1Z" fill="#2ebbd9" stroke="#2ebbd9" stroke-width="0.5"/>
<path d="M499.9 90.9L502.7 89.3L500.1 88.3L497.3 89.9Z" fill="#2dade0" stroke="#2dade0" stroke-width="0.5"/>
<path d="M629.8 184.6L632.6 182.6L629.6 179.4L626.8 181.4ZM619.9 155.2L622.6 153.3L619.6 150.5L616.9 152.4ZM587.1 126.4L589.9 124.6L586.9 122.3L584.2 124.1ZM607.7 139.5L610.4 137.7L607.5 135.1L604.7 136.9ZM604.7 136.9L607.5 135.1L604.5 132.5L601.7 134.4Z" fill="#54de54" stroke="#54de54" stroke-width="0.5"/>
<path d="M546.7 112.5L549.6 110.8L546.7 109L543.9 110.7Z" fill="#44de56" stroke="#44de56" stroke-width="0.5"/>
<path d="M518.8 96.5L521.6 94.8L518.9 93.5L516 95.2ZM532.7 94.3L535.5 92.6L532.7 91.2L529.9 92.9Z" fill="#34c9a6" stroke="#34c9a6" stroke-width="0.5"/>
<path d="M513.3 93.9L516.2 92.3L513.5 91L510.7 92.7Z" fill="#31c3bc" stroke="#31c3bc" stroke-width="0.5"/>
<path d="M510.7 92.7L513.5 91L510.8 89.9L508 91.5ZM532.8 88.2L535.6 86.6L532.8 85.3L530.1 86.9Z" fill="#30c0c8" stroke="#30c0c8" stroke-width="0.5"/>
<path d="M508 91.5L510.8 89.9L508.2 88.8L505.3 90.4Z" fill="#2ebdd4" stroke="#2ebdd4" stroke-width="0.5"/>
<path d="M505.3 90.4L508.2 88.8L505.5 87.7L502.7 89.3ZM535.6 83.7L538.3 82.1L535.6 80.8L532.9 82.5Z" fill="#2db8df" stroke="#2db8df" stroke-width="0.5"/>
<path d="M502.7 89.3L505.5 87.7L502.9 86.7L500.1 88.3ZM541.1 80.4L543.8 78.8L541.1 77.6L538.3 79.2Z" fill="#2da0e2" stroke="#2da0e2" stroke-width="0.5"/>
<path d="M620.6 170L623.3 168L620.3 165L617.6 166.9ZM569.9 125L572.7 123.2L569.8 121.1L566.9 122.8ZM578.6 127.7L581.4 125.9L578.4 123.7L575.6 125.5ZM608.1 148.7L610.9 146.8L607.9 144.1L605.1 146Z" fill="#5fde52" stroke="#5fde52" stroke-width="0.5"/>
<path d="M538.2 103.8L541 102.1L538.2 100.5L535.4 102.2ZM651.9 174L654.6 172L651.6 168.8L648.9 170.8Z" fill="#3ad774" stroke="#3ad774" stroke-width="0.5"/>
<path d="M521.6 94.8L524.4 93.2L521.7 91.9L518.9 93.5Z" fill="#33c8ad" stroke="#33c8ad" stroke-width="0.5"/>
<path d="M516.2 92.3L519 90.6L516.3 89.4L513.5 91Z" fill="#30c2c3" stroke="#30c2c3" stroke-width="0.5"/>
<path d="M513.5 91L516.3 89.4L513.6 88.2L510.8 89.9ZM535.6 86.6L538.3 84.9L535.6 83.7L532.8 85.3Z" fill="#2fbece" stroke="#2fbece" stroke-width="0.5"/>
<path d="M510.8 89.9L513.6 88.2L511 87.1L508.2 88.8Z" fill="#2ebbda" stroke="#2ebbda" stroke-width="0.5"/>
<path d="M508.2 88.8L511 87.1L508.3 86.1L505.5 87.7Z" fill="#2dabe1" stroke="#2dabe1" stroke-width="0.5"/>
<path d="M505.5 87.7L508.3 86.1L505.7 85.1L502.9 86.7Z" fill="#2d93e3" stroke="#2d93e3" stroke-width="0.5"/>
<path d="M541 102.1L543.8 100.4L541 98.8L538.2 100.5ZM654.3 166.9L656.9 164.9L654 161.8L651.3 163.7ZM580.4 102.6L583.2 100.9L580.3 99L577.6 100.7Z" fill="#39d57b" stroke="#39d57b" stroke-width="0.5"/>
<path d="M527.1 94.5L529.9 92.9L527.2 91.5L524.4 93.2Z" fill="#34c9a9" stroke="#34c9a9" stroke-width="0.5"/>
<path d="M519 90.6L521.8 89L519.1 87.8L516.3 89.4Z" fill="#30c0c9" stroke="#30c0c9" stroke-width="0.5"/>
<path d="M516.3 89.4L519.1 87.8L516.4 86.6L513.6 88.2ZM538.3 84.9L541.1 83.3L538.3 82.1L535.6 83.7Z" fill="#2ebdd5" stroke="#2ebdd5" stroke-width="0.5"/>
<path d="M513.6 88.2L516.4 86.6L513.8 85.5L511 87.1Z" fill="#2db6e0" stroke="#2db6e0" stroke-width="0.5"/>
<path d="M511 87.1L513.8 85.5L511.1 84.5L508.3 86.1Z" fill="#2d9fe2" stroke="#2d9fe2" stroke-width="0.5"/>
<path d="M508.3 86.1L511.1 84.5L508.5 83.5L505.7 85.1Z" fill="#2d87e4" stroke="#2d87e4" stroke-width="0.5"/>
<path d="M617.1 157.2L619.9 155.2L616.9 152.4L614.1 154.3ZM604.9 141.4L607.7 139.5L604.7 136.9L601.9 138.8ZM601.9 138.8L604.7 136.9L601.7 134.4L599 136.2Z" fill="#5ade52" stroke="#5ade52" stroke-width="0.5"/>
<path d="M593.2 135.5L596 133.7L593 131.2L590.2 133.1Z" fill="#5fde51" stroke="#5fde51" stroke-width="0.5"/>
<path d="M560.9 111.1L563.7 109.3L560.9 107.4L558.1 109.2Z" fill="#3ddf59" stroke="#3ddf59" stroke-width="0.5"/>
<path d="M543.8 100.4L546.6 98.7L543.8 97.1L541 98.8Z" fill="#38d382" stroke="#38d382" stroke-width="0.5"/>
<path d="M527.2 91.5L530 89.9L527.3 88.6L524.5 90.2Z" fill="#31c4ba" stroke="#31c4ba" stroke-width="0.5"/>
<path d="M521.8 89L524.6 87.3L521.9 86.1L519.1 87.8Z" fill="#2fbed0" stroke="#2fbed0" stroke-width="0.5"/>
<path d="M519.1 87.8L521.9 86.1L519.2 85L516.4 86.6ZM541.1 83.3L543.8 81.7L541.1 80.4L538.3 82.1Z" fill="#2dbbdc" stroke="#2dbbdc" stroke-width="0.5"/>
<path d="M516.4 86.6L519.2 85L516.5 83.9L513.8 85.5Z" fill="#2da9e1" stroke="#2da9e1" stroke-width="0.5"/>
<path d="M513.8 85.5L516.5 83.9L513.9 82.9L511.1 84.5Z" fill="#2d92e3" stroke="#2d92e3" stroke-width="0.5"/>
<path d="M511.1 84.5L513.9 82.9L511.3 81.9L508.5 83.5Z" fill="#2d7ae6" stroke="#2d7ae6" stroke-width="0.5"/>
<path d="M563.7 109.3L566.5 107.6L563.7 105.7L560.9 107.4Z" fill="#3cdd5f" stroke="#3cdd5f" stroke-width="0.5"/>
<path d="M555.1 103.8L557.9 102.1L555.1 100.3L552.3 102ZM560.8 103.9L563.6 102.1L560.7 100.4L557.9 102.1ZM648.3 160.6L651 158.7L648 155.6L645.4 157.5ZM586.2 106.6L589 104.9L586.1 102.9L583.3 104.6Z" fill="#3ad872" stroke="#3ad872" stroke-width="0.5"/>
<path d="M546.6 98.7L549.4 97L546.6 95.4L543.8 97.1Z" fill="#37d189" stroke="#37d189" stroke-width="0.5"/>
<path d="M524.6 87.3L527.3 85.7L524.7 84.5L521.9 86.1Z" fill="#2ebcd7" stroke="#2ebcd7" stroke-width="0.5"/>
<path d="M521.9 86.1L524.7 84.5L522 83.4L519.2 85Z" fill="#2db3e0" stroke="#2db3e0" stroke-width="0.5"/>
<path d="M519.2 85L522 83.4L519.3 82.3L516.5 83.9Z" fill="#2d9de2" stroke="#2d9de2" stroke-width="0.5"/>
<path d="M516.5 83.9L519.3 82.3L516.7 81.3L513.9 82.9Z" fill="#2d86e5" stroke="#2d86e5" stroke-width="0.5"/>
<path d="M513.9 82.9L516.7 81.3L514 80.3L511.3 81.9Z" fill="#2d6ee7" stroke="#2d6ee7" stroke-width="0.5"/>
<path d="M658.4 191.3L661.1 189.3L658.1 185.9L655.4 187.9Z" fill="#38d480" stroke="#38d480" stroke-width="0.5"/>
<path d="M543.8 93.9L546.6 92.2L543.8 90.7L541 92.4Z" fill="#35cba0" stroke="#35cba0" stroke-width="0.5"/>
<path d="M527.3 85.7L530.1 84.1L527.4 82.9L524.7 84.5Z" fill="#2dbade" stroke="#2dbade" stroke-width="0.5"/>
<path d="M524.7 84.5L527.4 82.9L524.7 81.8L522 83.4Z" fill="#2da7e1" stroke="#2da7e1" stroke-width="0.5"/>
<path d="M522 83.4L524.7 81.8L522.1 80.7L519.3 82.3Z" fill="#2d91e3" stroke="#2d91e3" stroke-width="0.5"/>
<path d="M519.3 82.3L522.1 80.7L519.4 79.7L516.7 81.3Z" fill="#2d79e6" stroke="#2d79e6" stroke-width="0.5"/>
<path d="M516.7 81.3L519.4 79.7L516.8 78.7L514 80.3Z" fill="#2d62e8" stroke="#2d62e8" stroke-width="0.5"/>
<path d="M649.2 175.9L651.9 174L648.9 170.8L646.2 172.7ZM569.3 105.9L572.1 104.1L569.2 102.3L566.4 104ZM589.2 108.7L591.9 106.9L589 104.9L586.2 106.6Z" fill="#3bd96d" stroke="#3bd96d" stroke-width="0.5"/>
<path d="M634.3 160.3L637 158.4L634 155.4L631.3 157.3ZM583.8 116.1L586.6 114.3L583.7 112.2L580.9 113.9Z" fill="#3fdf57" stroke="#3fdf57" stroke-width="0.5"/>
<path d="M572.2 107.8L575 106.1L572.1 104.1L569.3 105.9Z" fill="#3cda67" stroke="#3cda67" stroke-width="0.5"/>
<path d="M530.1 84.1L532.9 82.5L530.2 81.3L527.4 82.9Z" fill="#2db0e0" stroke="#2db0e0" stroke-width="0.5"/>
<path d="M527.4 82.9L530.2 81.3L527.5 80.2L524.7 81.8Z" fill="#2d9ae2" stroke="#2d9ae2" stroke-width="0.5"/>
<path d="M524.7 81.8L527.5 80.2L524.8 79.1L522.1 80.7Z" fill="#2d84e5" stroke="#2d84e5" stroke-width="0.5"/>
<path d="M522.1 80.7L524.8 79.1L522.2 78.1L519.4 79.7Z" fill="#2d6de7" stroke="#2d6de7" stroke-width="0.5"/>
<path d="M519.4 79.7L522.2 78.1L519.5 77.1L516.8 78.7Z" fill="#2d55ea" stroke="#2d55ea" stroke-width="0.5"/>
<path d="M637 158.4L639.7 156.4L636.7 153.5L634 155.4ZM633.8 150.5L636.4 148.7L633.5 145.8L630.8 147.7ZM595.2 117L597.9 115.2L595 113L592.3 114.7ZM627.5 140.2L630.2 138.3L627.2 135.6L624.6 137.5ZM606.8 122.2L609.5 120.4L606.5 118L603.8 119.8Z" fill="#3ddd5d" stroke="#3ddd5d" stroke-width="0.5"/>
<path d="M532.9 82.5L535.6 80.8L532.9 79.7L530.2 81.3Z" fill="#2da4e1" stroke="#2da4e1" stroke-width="0.5"/>
<path d="M530.2 81.3L532.9 79.7L530.2 78.6L527.5 80.2Z" fill="#2d8ee4" stroke="#2d8ee4" stroke-width="0.5"/>
<path d="M527.5 80.2L530.2 78.6L527.6 77.5L524.8 79.1Z" fill="#2d78e6" stroke="#2d78e6" stroke-width="0.5"/>
<path d="M524.8 79.1L527.6 77.5L524.9 76.5L522.2 78.1Z" fill="#2d61e8" stroke="#2d61e8" stroke-width="0.5"/>
<path d="M522.2 78.1L524.9 76.5L522.3 75.5L519.5 77.1Z" fill="#2d49eb" stroke="#2d49eb" stroke-width="0.5"/>
<path d="M580.6 106.3L583.3 104.6L580.4 102.6L577.7 104.3Z" fill="#3bd870" stroke="#3bd870" stroke-width="0.5"/>
<path d="M552.1 88.9L554.9 87.2L552.1 85.8L549.3 87.4Z" fill="#32c5b4" stroke="#32c5b4" stroke-width="0.5"/>
<path d="M546.6 86L549.3 84.4L546.5 83L543.8 84.6Z" fill="#30c0c7" stroke="#30c0c7" stroke-width="0.5"/>
<path d="M543.8 84.6L546.5 83L543.8 81.7L541.1 83.3Z" fill="#2fbed1" stroke="#2fbed1" stroke-width="0.5"/>
<path d="M538.3 82.1L541.1 80.4L538.3 79.2L535.6 80.8Z" fill="#2dace1" stroke="#2dace1" stroke-width="0.5"/>
<path d="M535.6 80.8L538.3 79.2L535.6 78.1L532.9 79.7Z" fill="#2d97e3" stroke="#2d97e3" stroke-width="0.5"/>
<path d="M532.9 79.7L535.6 78.1L532.9 77L530.2 78.6Z" fill="#2d82e5" stroke="#2d82e5" stroke-width="0.5"/>
<path d="M530.2 78.6L532.9 77L530.3 75.9L527.6 77.5Z" fill="#2d6ce7" stroke="#2d6ce7" stroke-width="0.5"/>
<path d="M527.6 77.5L530.3 75.9L527.6 74.9L524.9 76.5Z" fill="#2d54ea" stroke="#2d54ea" stroke-width="0.5"/>
<path d="M524.9 76.5L527.6 74.9L525 73.9L522.3 75.5Z" fill="#2d3dec" stroke="#2d3dec" stroke-width="0.5"/>
<path d="M557.7 88.7L560.4 87.1L557.6 85.6L554.9 87.2Z" fill="#32c6b2" stroke="#32c6b2" stroke-width="0.5"/>
<path d="M554.9 87.2L557.6 85.6L554.8 84.1L552.1 85.8Z" fill="#31c4bb" stroke="#31c4bb" stroke-width="0.5"/>
<path d="M549.3 84.4L552 82.7L549.3 81.4L546.5 83Z" fill="#2fbfce" stroke="#2fbfce" stroke-width="0.5"/>
<path d="M546.5 83L549.3 81.4L546.5 80.1L543.8 81.7Z" fill="#2ebcd8" stroke="#2ebcd8" stroke-width="0.5"/>
<path d="M543.8 81.7L546.5 80.1L543.8 78.8L541.1 80.4Z" fill="#2db4e0" stroke="#2db4e0" stroke-width="0.5"/>
<path d="M538.3 79.2L541.1 77.6L538.4 76.5L535.6 78.1Z" fill="#2d8be4" stroke="#2d8be4" stroke-width="0.5"/>
<path d="M535.6 78.1L538.4 76.5L535.7 75.4L532.9 77Z" fill="#2d76e6" stroke="#2d76e6" stroke-width="0.5"/>
<path d="M532.9 77L535.7 75.4L533 74.3L530.3 75.9Z" fill="#2d5fe9" stroke="#2d5fe9" stroke-width="0.5"/>
<path d="M530.3 75.9L533 74.3L530.3 73.3L527.6 74.9Z" fill="#2d48eb" stroke="#2d48eb" stroke-width="0.5"/>
<path d="M527.6 74.9L530.3 73.3L527.7 72.4L525 73.9Z" fill="#2d30ee" stroke="#2d30ee" stroke-width="0.5"/>
<path d="M523.6 291L515.4 281.4L507.3 272L499.2 263L491.2 254.2L483.2 245.8L475.3 237.6L467.5 229.8L459.8 222.2L452.1 215L444.6 208.2L437.1 201.6L429.8 195.4L422.6 189.6L415.6 184L408.6 178.8L401.9 174L395.2 169.5L388.7 165.3L382.4 161.4L376.2 157.9M523.6 291L531.9 284.9L540.1 278.9L548.2 272.9L556.3 267.1L564.2 261.2L572 255.5L579.7 249.8L587.3 244.2L594.8 238.7L602.2 233.2L609.5 227.7L616.8 222.4L623.9 217.1L631 211.8L638 206.6L644.8 201.4L651.7 196.3L658.4 191.3L665.1 186.3L671.7 181.3M525.7 289.5L517.5 279.9L509.4 270.6L501.4 261.5L493.3 252.8L485.4 244.3L477.5 236.2L469.7 228.4L461.9 220.9L454.3 213.7L446.7 206.8L439.3 200.3L432 194.1L424.8 188.3L417.7 182.8L410.8 177.6L404 172.8L397.4 168.3L390.9 164.1L384.5 160.3L378.3 156.7M521.5 288.6L529.9 282.5L538.1 276.5L546.2 270.6L554.3 264.7L562.2 258.9L570 253.2L577.7 247.5L585.3 241.9L592.8 236.4L600.3 230.9L607.6 225.5L614.8 220.1L622 214.8L629.1 209.6L636.1 204.4L643 199.3L649.8 194.2L656.6 189.1L663.2 184.1L669.8 179.2M527.7 287.9L519.6 278.4L511.5 269.1L503.5 260.1L495.5 251.3L487.5 242.9L479.6 234.8L471.8 227L464.1 219.5L456.4 212.3L448.9 205.5L441.5 199L434.1 192.8L426.9 187L419.9 181.5L412.9 176.3L406.1 171.5L399.5 167L393 162.9L386.6 159.1L380.5 155.6M519.5 286.1L527.8 280.1L536.1 274.1L544.2 268.2L552.3 262.4L560.2 256.6L568 250.9L575.7 245.2L583.4 239.7L590.9 234.1L598.3 228.7L605.7 223.3L612.9 217.9L620.1 212.7L627.2 207.4L634.2 202.2L641.1 197.1L647.9 192L654.7 187L661.4 182L668 177.1M529.8 286.4L521.7 276.9L513.6 267.6L505.6 258.6L497.6 249.9L489.6 241.5L481.8 233.4L473.9 225.6L466.2 218.1L458.6 211L451 204.2L443.6 197.7L436.3 191.5L429.1 185.7L422 180.2L415.1 175.1L408.3 170.3L401.6 165.8L395.1 161.7L388.8 157.9L382.6 154.4M517.4 283.8L525.8 277.7L534.1 271.8L542.2 265.9L550.3 260L558.2 254.3L566 248.6L573.8 243L581.4 237.4L589 231.9L596.4 226.5L603.8 221.1L611 215.8L618.2 210.5L625.3 205.3L632.3 200.1L639.2 195L646.1 189.9L652.8 184.9L659.5 180L666.1 175M531.9 284.9L523.8 275.4L515.7 266.1L507.7 257.1L499.7 248.4L491.8 240.1L483.9 232L476.1 224.2L468.4 216.7L460.7 209.6L453.2 202.8L445.8 196.4L438.4 190.2L431.2 184.4L424.2 179L417.2 173.8L410.4 169.1L403.8 164.6L397.2 160.5L390.9 156.7L384.7 153.2M515.4 281.4L523.8 275.4L532.1 269.4L540.2 263.5L548.3 257.7L556.2 252L564.1 246.3L571.8 240.7L579.5 235.2L587 229.7L594.5 224.3L601.8 218.9L609.1 213.6L616.3 208.3L623.4 203.1L630.4 198L637.4 192.9L644.2 187.8L651 182.8L657.7 177.9L664.3 173M534 283.4L525.9 273.9L517.8 264.6L509.8 255.7L501.8 247L493.9 238.6L486 230.6L478.2 222.8L470.5 215.4L462.9 208.3L455.3 201.5L447.9 195L440.6 188.9L433.4 183.2L426.3 177.7L419.4 172.6L412.5 167.8L405.9 163.4L399.4 159.3L393 155.5L386.8 152.1M513.4 279L521.8 273L530.1 267.1L538.2 261.2L546.3 255.5L554.3 249.7L562.1 244.1L569.9 238.5L577.5 233L585.1 227.5L592.5 222.1L599.9 216.7L607.2 211.4L614.4 206.2L621.5 201L628.5 195.9L635.5 190.8L642.3 185.7L649.1 180.8L655.8 175.8L662.5 170.9M536 281.9L527.9 272.4L519.9 263.2L511.9 254.2L503.9 245.6L496 237.2L488.1 229.2L480.3 221.4L472.6 214L465 206.9L457.4 200.2L450 193.7L442.7 187.6L435.5 181.9L428.4 176.5L421.5 171.4L414.7 166.6L408 162.2L401.5 158.1L395.1 154.4L388.9 150.9M511.4 276.7L519.8 270.7L528.1 264.8L536.2 259L544.3 253.2L552.3 247.5L560.1 241.8L567.9 236.3L575.6 230.8L583.1 225.3L590.6 219.9L598 214.6L605.3 209.3L612.5 204.1L619.6 198.9L626.6 193.8L633.6 188.7L640.5 183.7L647.3 178.7L654 173.8L660.6 168.9M538.1 280.4L530 270.9L522 261.7L514 252.8L506 244.1L498.1 235.8L490.2 227.8L482.4 220.1L474.7 212.7L467.1 205.6L459.6 198.9L452.1 192.4L444.8 186.4L437.6 180.6L430.5 175.2L423.6 170.1L416.8 165.4L410.1 161L403.6 156.9L397.2 153.2L391 149.8M509.3 274.4L517.7 268.4L526 262.5L534.2 256.7L542.3 250.9L550.3 245.2L558.2 239.6L565.9 234.1L573.6 228.6L581.2 223.1L588.7 217.8L596.1 212.4L603.4 207.2L610.6 202L617.7 196.8L624.8 191.7L631.7 186.6L638.6 181.6L645.4 176.7L652.1 171.8L658.8 166.9M540.1 278.9L532.1 269.4L524 260.2L516 251.3L508.1 242.7L500.2 234.4L492.3 226.4L484.5 218.7L476.8 211.3L469.2 204.3L461.7 197.5L454.3 191.1L446.9 185.1L439.7 179.3L432.7 174L425.7 168.9L418.9 164.2L412.2 159.8L405.7 155.7L399.3 152L393 148.6M507.3 272L515.7 266.1L524 260.2L532.2 254.4L540.3 248.7L548.3 243L556.2 237.4L564 231.9L571.7 226.4L579.3 221L586.8 215.6L594.2 210.3L601.5 205.1L608.7 199.9L615.8 194.7L622.9 189.6L629.8 184.6L636.7 179.6L643.5 174.7L650.3 169.8L656.9 164.9M542.2 277.4L534.1 267.9L526.1 258.8L518.1 249.9L510.2 241.3L502.3 233L494.4 225L486.6 217.3L478.9 210L471.3 202.9L463.8 196.2L456.4 189.8L449 183.8L441.8 178.1L434.8 172.7L427.8 167.7L421 163L414.3 158.6L407.7 154.6L401.4 150.9L395.1 147.5M505.3 269.8L513.7 263.8L522 258L530.2 252.2L538.3 246.5L546.3 240.8L554.2 235.2L562 229.7L569.7 224.3L577.3 218.9L584.8 213.5L592.2 208.2L599.5 203L606.8 197.8L613.9 192.7L621 187.6L628 182.6L634.9 177.6L641.7 172.7L648.4 167.8L655.1 163M544.2 275.9L536.2 266.5L528.2 257.3L520.2 248.5L512.2 239.9L504.3 231.6L496.5 223.6L488.7 216L481 208.6L473.4 201.6L465.9 194.9L458.5 188.6L451.1 182.5L443.9 176.8L436.9 171.5L429.9 166.5L423.1 161.8L416.4 157.4L409.8 153.4L403.4 149.7L397.2 146.3M503.3 267.5L511.7 261.6L520 255.7L528.3 250L536.4 244.3L544.4 238.7L552.3 233.1L560.1 227.6L567.8 222.1L575.4 216.7L582.9 211.4L590.3 206.1L597.6 200.9L604.9 195.7L612 190.6L619.1 185.6L626.1 180.6L633 175.6L639.8 170.7L646.6 165.8L653.2 161M546.2 274.4L538.2 265L530.2 255.9L522.2 247L514.3 238.5L506.4 230.2L498.6 222.3L490.8 214.6L483.1 207.3L475.5 200.3L468 193.6L460.6 187.3L453.2 181.3L446 175.6L438.9 170.2L432 165.2L425.2 160.6L418.5 156.2L411.9 152.2L405.5 148.5L399.2 145.2M501.2 265.2L509.7 259.3L518 253.5L526.3 247.8L534.4 242.1L542.4 236.5L550.3 230.9L558.1 225.4L565.8 220L573.4 214.6L581 209.3L588.4 204.1L595.7 198.9L603 193.7L610.1 188.6L617.2 183.6L624.2 178.6L631.1 173.6L637.9 168.7L644.7 163.9L651.4 159.1M548.2 272.9L540.2 263.5L532.2 254.4L524.3 245.6L516.3 237.1L508.5 228.8L500.6 220.9L492.9 213.3L485.2 205.9L477.6 199L470.1 192.3L462.6 186L455.3 180L448.1 174.3L441 169L434.1 164L427.2 159.4L420.5 155L414 151L407.6 147.4L401.3 144M499.2 263L507.7 257.1L516 251.3L524.3 245.6L532.4 239.9L540.4 234.3L548.3 228.8L556.2 223.3L563.9 217.9L571.5 212.6L579 207.3L586.5 202L593.8 196.8L601.1 191.7L608.2 186.6L615.3 181.6L622.3 176.6L629.2 171.7L636.1 166.8L642.8 162L649.5 157.2M550.3 271.5L542.3 262.1L534.3 253L526.3 244.2L518.4 235.7L510.5 227.4L502.7 219.5L494.9 211.9L487.3 204.6L479.7 197.6L472.1 191L464.7 184.7L457.4 178.7L450.2 173.1L443.1 167.8L436.1 162.8L429.3 158.2L422.6 153.9L416 149.9L409.6 146.2L403.3 142.9M497.2 260.8L505.7 254.9L514 249.2L522.3 243.4L530.4 237.8L538.5 232.2L546.4 226.7L554.2 221.2L561.9 215.8L569.6 210.5L577.1 205.2L584.5 200L591.9 194.8L599.2 189.7L606.3 184.6L613.4 179.6L620.4 174.7L627.4 169.7L634.2 164.9L641 160L647.7 155.3M552.3 270L544.3 260.6L536.3 251.6L528.4 242.8L520.4 234.3L512.6 226L504.8 218.1L497 210.6L489.3 203.3L481.7 196.3L474.2 189.7L466.8 183.4L459.5 177.5L452.3 171.8L445.2 166.5L438.2 161.6L431.4 157L424.7 152.7L418.1 148.7L411.7 145.1L405.4 141.8M495.2 258.6L503.7 252.7L512.1 247L520.3 241.3L528.5 235.7L536.5 230.1L544.4 224.6L552.3 219.2L560 213.8L567.6 208.5L575.2 203.2L582.6 198L590 192.8L597.3 187.7L604.4 182.7L611.5 177.7L618.5 172.7L625.5 167.8L632.3 163L639.1 158.1L645.8 153.4M554.3 268.5L546.3 259.2L538.3 250.1L530.4 241.3L522.5 232.9L514.6 224.7L506.8 216.8L499.1 209.2L491.4 202L483.8 195L476.3 188.4L468.9 182.1L461.5 176.2L454.3 170.6L447.2 165.3L440.3 160.4L433.4 155.8L426.7 151.5L420.1 147.6L413.7 143.9L407.4 140.6M493.2 256.4L501.7 250.6L510.1 244.8L518.3 239.2L526.5 233.6L534.5 228L542.5 222.5L550.3 217.1L558.1 211.7L565.7 206.4L573.2 201.2L580.7 196L588.1 190.8L595.3 185.8L602.5 180.7L609.6 175.7L616.7 170.8L623.6 165.9L630.5 161.1L637.2 156.3L644 151.5M556.3 267.1L548.3 257.7L540.3 248.7L532.4 239.9L524.5 231.5L516.7 223.3L508.9 215.4L501.1 207.9L493.4 200.6L485.8 193.7L478.3 187.1L470.9 180.9L463.6 175L456.4 169.4L449.3 164.1L442.3 159.2L435.5 154.6L428.8 150.3L422.2 146.4L415.7 142.8L409.4 139.5M491.2 254.2L499.7 248.4L508.1 242.7L516.3 237.1L524.5 231.5L532.6 225.9L540.5 220.5L548.4 215.1L556.1 209.7L563.8 204.4L571.3 199.2L578.8 194L586.2 188.9L593.4 183.8L600.6 178.8L607.8 173.8L614.8 168.9L621.7 164L628.6 159.2L635.4 154.4L642.1 149.7M558.2 265.6L550.3 256.3L542.3 247.3L534.4 238.5L526.5 230.1L518.7 221.9L510.9 214.1L503.2 206.5L495.5 199.3L487.9 192.4L480.4 185.9L473 179.6L465.7 173.7L458.4 168.1L451.4 162.9L444.4 158L437.5 153.4L430.8 149.2L424.2 145.2L417.8 141.7L411.5 138.4M489.2 252.1L497.7 246.3L506.1 240.6L514.4 235L522.5 229.4L530.6 223.9L538.6 218.4L546.4 213L554.2 207.7L561.8 202.4L569.4 197.2L576.9 192.1L584.2 186.9L591.5 181.9L598.7 176.9L605.9 171.9L612.9 167L619.9 162.2L626.7 157.3L633.5 152.6L640.2 147.9M560.2 264.1L552.3 254.9L544.3 245.9L536.4 237.1L528.5 228.7L520.7 220.6L512.9 212.7L505.2 205.2L497.5 198L489.9 191.1L482.4 184.6L475 178.3L467.7 172.5L460.5 166.9L453.4 161.7L446.4 156.8L439.6 152.2L432.8 148L426.2 144.1L419.8 140.5L413.5 137.3M487.2 250L495.7 244.2L504.1 238.5L512.4 232.9L520.6 227.3L528.6 221.9L536.6 216.4L544.5 211L552.2 205.7L559.9 200.5L567.5 195.3L575 190.1L582.3 185L589.6 180L596.8 175L604 170.1L611 165.2L618 160.3L624.9 155.5L631.7 150.8L638.4 146.1M562.2 262.7L554.3 253.4L546.3 244.4L538.4 235.7L530.6 227.3L522.7 219.2L514.9 211.4L507.2 203.9L499.6 196.7L492 189.8L484.5 183.3L477.1 177.1L469.7 171.2L462.5 165.7L455.4 160.5L448.5 155.6L441.6 151L434.9 146.8L428.3 142.9L421.8 139.4L415.5 136.1M485.2 247.9L493.7 242.1L502.1 236.5L510.4 230.8L518.6 225.3L526.7 219.8L534.7 214.4L542.5 209.1L550.3 203.8L558 198.5L565.6 193.3L573 188.2L580.4 183.1L587.7 178.1L595 173.1L602.1 168.2L609.1 163.3L616.1 158.5L623 153.7L629.8 149L636.5 144.3M564.2 261.2L556.2 252L548.3 243L540.4 234.3L532.6 225.9L524.7 217.8L517 210L509.2 202.6L501.6 195.4L494 188.5L486.5 182L479.1 175.8L471.8 170L464.6 164.4L457.5 159.2L450.5 154.4L443.6 149.9L436.9 145.7L430.3 141.8L423.8 138.2L417.5 135M483.2 245.8L491.8 240.1L500.2 234.4L508.5 228.8L516.7 223.3L524.7 217.8L532.7 212.4L540.6 207.1L548.4 201.8L556 196.6L563.6 191.4L571.1 186.3L578.5 181.2L585.8 176.2L593.1 171.3L600.2 166.4L607.3 161.5L614.2 156.7L621.1 151.9L627.9 147.2L634.7 142.5M566.1 259.8L558.2 250.6L550.3 241.6L542.4 233L534.6 224.6L526.7 216.5L519 208.7L511.3 201.2L503.6 194.1L496 187.3L488.5 180.7L481.1 174.6L473.8 168.7L466.6 163.2L459.5 158L452.5 153.2L445.6 148.7L438.9 144.5L432.3 140.6L425.8 137.1L419.5 133.9M481.2 243.7L489.8 238L498.2 232.4L506.5 226.8L514.7 221.3L522.8 215.9L530.8 210.5L538.7 205.2L546.4 199.9L554.1 194.7L561.7 189.5L569.2 184.4L576.6 179.4L583.9 174.4L591.2 169.4L598.3 164.5L605.4 159.7L612.4 154.9L619.3 150.1L626.1 145.4L632.8 140.8M568.1 258.4L560.2 249.2L552.3 240.2L544.4 231.6L536.6 223.2L528.7 215.1L521 207.4L513.3 199.9L505.6 192.8L498 186L490.5 179.5L483.1 173.3L475.8 167.5L468.6 162L461.5 156.8L454.5 152L447.7 147.5L440.9 143.3L434.3 139.5L427.8 136L421.5 132.8M479.3 241.7L487.8 236L496.2 230.4L504.5 224.8L512.7 219.3L520.8 213.9L528.8 208.5L536.7 203.2L544.5 198L552.2 192.8L559.8 187.7L567.3 182.6L574.7 177.5L582 172.6L589.3 167.6L596.4 162.7L603.5 157.9L610.5 153.1L617.4 148.4L624.2 143.7L631 139M570 256.9L562.1 247.7L554.2 238.8L546.4 230.2L538.5 221.8L530.7 213.8L523 206L515.3 198.6L507.6 191.5L500.1 184.7L492.6 178.2L485.2 172.1L477.8 166.3L470.6 160.8L463.5 155.6L456.5 150.8L449.7 146.3L442.9 142.2L436.3 138.4L429.8 134.9L423.5 131.7M477.3 239.6L485.8 234L494.3 228.4L502.6 222.8L510.8 217.4L518.9 212L526.9 206.6L534.8 201.3L542.6 196.1L550.3 190.9L557.9 185.8L565.4 180.7L572.8 175.7L580.1 170.7L587.4 165.8L594.5 161L601.6 156.1L608.6 151.4L615.5 146.6L622.3 142L629.1 137.3M572 255.5L564.1 246.3L556.2 237.4L548.3 228.8L540.5 220.5L532.7 212.4L525 204.7L517.3 197.3L509.6 190.2L502.1 183.4L494.6 177L487.2 170.8L479.9 165L472.6 159.6L465.5 154.4L458.5 149.6L451.7 145.2L444.9 141L438.3 137.2L431.8 133.7L425.4 130.6M475.3 237.6L483.9 232L492.3 226.4L500.6 220.9L508.9 215.4L517 210L525 204.7L532.9 199.4L540.7 194.2L548.4 189.1L556 184L563.5 178.9L570.9 173.9L578.2 169L585.5 164L592.7 159.2L599.7 154.4L606.7 149.6L613.6 144.9L620.5 140.2L627.2 135.6M573.9 254.1L566 244.9L558.2 236L550.3 227.4L542.5 219.1L534.7 211.1L526.9 203.4L519.3 196L511.6 188.9L504.1 182.1L496.6 175.7L489.2 169.6L481.9 163.8L474.6 158.4L467.5 153.3L460.5 148.5L453.7 144L446.9 139.9L440.3 136.1L433.8 132.6L427.4 129.5M473.4 235.6L481.9 230L490.4 224.4L498.7 218.9L506.9 213.5L515 208.1L523 202.8L530.9 197.6L538.7 192.4L546.5 187.2L554.1 182.1L561.6 177.1L569 172.1L576.4 167.2L583.6 162.3L590.8 157.5L597.9 152.7L604.9 147.9L611.8 143.2L618.6 138.6L625.4 133.9M575.8 252.7L568 243.5L560.1 234.6L552.3 226.1L544.4 217.8L536.7 209.8L528.9 202.1L521.2 194.7L513.6 187.6L506 180.9L498.6 174.4L491.2 168.4L483.8 162.6L476.6 157.2L469.5 152.1L462.5 147.3L455.6 142.9L448.9 138.7L442.3 135L435.8 131.5L429.4 128.4M471.4 233.6L480 228L488.4 222.5L496.7 217L505 211.6L513.1 206.3L521.1 201L529 195.7L536.8 190.5L544.5 185.4L552.2 180.3L559.7 175.3L567.1 170.3L574.5 165.4L581.7 160.6L588.9 155.7L596 151L603 146.2L609.9 141.5L616.8 136.9L623.5 132.3M577.7 251.2L569.9 242.1L562 233.3L554.2 224.7L546.4 216.4L538.6 208.4L530.9 200.7L523.2 193.4L515.6 186.3L508 179.6L500.5 173.2L493.1 167.1L485.8 161.4L478.6 156L471.5 150.9L464.5 146.1L457.6 141.7L450.9 137.6L444.2 133.8L437.7 130.4L431.4 127.3M469.5 231.7L478 226.1L486.5 220.6L494.8 215.1L503 209.7L511.2 204.4L519.2 199.1L527.1 193.9L534.9 188.7L542.6 183.6L550.3 178.6L557.8 173.6L565.2 168.6L572.6 163.7L579.8 158.8L587 154L594.1 149.3L601.1 144.5L608.1 139.9L614.9 135.2L621.7 130.7M579.7 249.8L571.8 240.7L564 231.9L556.2 223.3L548.4 215.1L540.6 207.1L532.9 199.4L525.2 192.1L517.6 185.1L510 178.3L502.5 172L495.1 165.9L487.8 160.2L480.6 154.8L473.5 149.7L466.5 145L459.6 140.5L452.8 136.5L446.2 132.7L439.7 129.3L433.3 126.2M467.5 229.8L476.1 224.2L484.5 218.7L492.9 213.3L501.1 207.9L509.2 202.6L517.3 197.3L525.2 192.1L533 186.9L540.7 181.8L548.4 176.8L555.9 171.8L563.3 166.9L570.7 162L578 157.1L585.1 152.3L592.2 147.6L599.3 142.9L606.2 138.2L613.1 133.6L619.8 129M581.6 248.4L573.7 239.3L565.9 230.5L558.1 222L550.3 213.7L542.5 205.8L534.8 198.1L527.1 190.8L519.5 183.8L512 177.1L504.5 170.7L497.1 164.7L489.8 158.9L482.6 153.6L475.5 148.5L468.5 143.8L461.6 139.4L454.8 135.3L448.2 131.6L441.6 128.2L435.3 125.1M465.6 227.9L474.1 222.3L482.6 216.8L490.9 211.4L499.2 206L507.3 200.7L515.3 195.5L523.3 190.3L531.1 185.2L538.8 180.1L546.5 175.1L554 170.1L561.5 165.2L568.8 160.3L576.1 155.5L583.3 150.7L590.4 145.9L597.4 141.3L604.3 136.6L611.2 132L618 127.5M583.5 247L575.7 237.9L567.8 229.1L560 220.6L552.2 212.4L544.5 204.5L536.8 196.8L529.1 189.5L521.5 182.5L513.9 175.8L506.5 169.5L499.1 163.4L491.8 157.7L484.6 152.4L477.4 147.3L470.4 142.6L463.5 138.2L456.8 134.2L450.1 130.5L443.6 127.1L437.2 124M463.6 226L472.2 220.4L480.7 215L489 209.6L497.3 204.2L505.4 198.9L513.4 193.7L521.4 188.5L529.2 183.4L536.9 178.3L544.6 173.3L552.1 168.4L559.6 163.5L566.9 158.6L574.2 153.8L581.4 149L588.5 144.3L595.5 139.6L602.5 135L609.3 130.4L616.1 125.9M585.4 245.6L577.6 236.6L569.8 227.8L562 219.3L554.2 211L546.4 203.1L538.7 195.5L531.1 188.2L523.5 181.2L515.9 174.6L508.4 168.2L501 162.2L493.7 156.5L486.5 151.2L479.4 146.2L472.4 141.5L465.5 137.1L458.7 133.1L452.1 129.4L445.5 126L439.1 122.9M461.7 224.1L470.3 218.6L478.7 213.1L487.1 207.7L495.4 202.4L503.5 197.1L511.5 191.9L519.5 186.8L527.3 181.7L535 176.6L542.7 171.6L550.2 166.7L557.7 161.8L565.1 157L572.3 152.2L579.5 147.4L586.6 142.7L593.7 138L600.6 133.4L607.5 128.9L614.3 124.3M587.3 244.2L579.5 235.2L571.7 226.4L563.9 217.9L556.1 209.7L548.4 201.8L540.7 194.2L533 186.9L525.4 180L517.9 173.3L510.4 167L503 161L495.7 155.3L488.5 150L481.4 145L474.4 140.3L467.5 136L460.7 131.9L454 128.2L447.5 124.9L441.1 121.8M459.8 222.2L468.4 216.7L476.8 211.3L485.2 205.9L493.4 200.6L501.6 195.4L509.6 190.2L517.6 185.1L525.4 180L533.1 174.9L540.8 170L548.3 165L555.8 160.2L563.2 155.3L570.5 150.5L577.7 145.8L584.8 141.1L591.8 136.5L598.8 131.9L605.6 127.3L612.4 122.8M589.2 242.8L581.4 233.8L573.6 225L565.8 216.6L558 208.4L550.3 200.5L542.6 192.9L534.9 185.7L527.3 178.7L519.8 172.1L512.3 165.8L505 159.8L497.6 154.1L490.4 148.8L483.3 143.8L476.3 139.2L469.4 134.8L462.6 130.8L456 127.1L449.4 123.8L443 120.7M457.8 220.4L466.4 214.9L474.9 209.5L483.3 204.2L491.5 198.9L499.7 193.6L507.7 188.5L515.7 183.3L523.5 178.3L531.3 173.3L538.9 168.3L546.5 163.4L553.9 158.5L561.3 153.7L568.6 148.9L575.8 144.2L582.9 139.5L590 134.9L596.9 130.3L603.8 125.8L610.6 121.3M591 241.4L583.3 232.4L575.5 223.7L567.7 215.2L559.9 207.1L552.2 199.2L544.5 191.6L536.9 184.4L529.3 177.4L521.8 170.8L514.3 164.5L506.9 158.6L499.6 152.9L492.4 147.6L485.3 142.6L478.2 138L471.3 133.7L464.6 129.7L457.9 126L451.3 122.7L444.9 119.6M455.9 218.6L464.5 213.1L473 207.7L481.4 202.4L489.6 197.1L497.8 191.9L505.8 186.8L513.8 181.7L521.6 176.6L529.4 171.6L537 166.7L544.6 161.8L552.1 156.9L559.4 152.1L566.7 147.4L573.9 142.7L581.1 138L588.1 133.4L595.1 128.8L601.9 124.3L608.7 119.8M592.9 240L585.1 231.1L577.4 222.3L569.6 213.9L561.9 205.7L554.1 197.9L546.5 190.3L538.8 183.1L531.2 176.2L523.7 169.6L516.2 163.3L508.8 157.4L501.5 151.7L494.3 146.4L487.2 141.5L480.2 136.9L473.3 132.5L466.5 128.6L459.8 124.9L453.3 121.6L446.8 118.6M454 216.8L462.6 211.4L471.1 206L479.5 200.7L487.7 195.4L495.9 190.2L503.9 185.1L511.9 180L519.7 175L527.5 170L535.1 165L542.7 160.2L550.2 155.3L557.6 150.5L564.9 145.8L572.1 141.1L579.2 136.5L586.2 131.9L593.2 127.3L600.1 122.8L606.9 118.3M594.8 238.7L587 229.7L579.3 221L571.5 212.6L563.8 204.4L556 196.6L548.4 189.1L540.7 181.8L533.1 174.9L525.6 168.4L518.2 162.1L510.8 156.2L503.5 150.6L496.3 145.3L489.1 140.3L482.1 135.7L475.2 131.4L468.4 127.5L461.7 123.8L455.2 120.5L448.8 117.5M452.1 215L460.7 209.6L469.2 204.3L477.6 199L485.8 193.7L494 188.5L502.1 183.4L510 178.3L517.9 173.3L525.6 168.4L533.3 163.4L540.8 158.6L548.3 153.8L555.7 149L563 144.3L570.2 139.6L577.3 134.9L584.4 130.4L591.4 125.8L598.3 121.3L605.1 116.8M596.6 237.3L588.9 228.3L581.1 219.6L573.4 211.2L565.7 203.1L558 195.3L550.3 187.8L542.6 180.6L535.1 173.7L527.5 167.1L520.1 160.9L512.7 155L505.4 149.4L498.2 144.1L491.1 139.2L484 134.6L477.1 130.3L470.3 126.3L463.7 122.7L457.1 119.4L450.7 116.4M450.2 213.3L458.8 207.9L467.3 202.5L475.7 197.3L484 192L492.1 186.9L500.2 181.8L508.1 176.7L516 171.7L523.7 166.8L531.4 161.9L539 157L546.5 152.2L553.8 147.4L561.1 142.7L568.4 138.1L575.5 133.5L582.5 128.9L589.5 124.3L596.4 119.8L603.2 115.4M598.5 235.9L590.8 227L583 218.3L575.3 209.9L567.6 201.8L559.9 194L552.2 186.5L544.6 179.3L537 172.4L529.5 165.9L522 159.7L514.6 153.8L507.3 148.2L500.1 142.9L493 138L486 133.4L479.1 129.2L472.2 125.2L465.6 121.6L459 118.3L452.6 115.3M448.3 211.6L456.9 206.2L465.4 200.9L473.8 195.6L482.1 190.4L490.2 185.2L498.3 180.1L506.3 175.1L514.1 170.1L521.9 165.2L529.5 160.3L537.1 155.5L544.6 150.7L552 145.9L559.3 141.2L566.5 136.6L573.6 132L580.7 127.4L587.7 122.9L594.6 118.4L601.4 114M600.4 234.5L592.6 225.6L584.9 217L577.2 208.6L569.4 200.5L561.7 192.7L554.1 185.2L546.5 178.1L538.9 171.2L531.4 164.7L523.9 158.4L516.5 152.6L509.2 147L502 141.8L494.9 136.9L487.9 132.3L481 128L474.2 124.1L467.5 120.5L460.9 117.2L454.5 114.3M446.5 209.9L455.1 204.5L463.6 199.2L471.9 193.9L480.2 188.8L488.4 183.6L496.4 178.5L504.4 173.5L512.3 168.5L520 163.6L527.7 158.8L535.3 153.9L542.7 149.2L550.1 144.4L557.4 139.8L564.7 135.1L571.8 130.5L578.9 126L585.8 121.5L592.7 117L599.6 112.6M602.2 233.2L594.5 224.3L586.8 215.6L579 207.3L571.3 199.2L563.6 191.4L556 184L548.4 176.8L540.8 170L533.3 163.4L525.8 157.2L518.4 151.4L511.1 145.8L503.9 140.6L496.8 135.7L489.8 131.2L482.9 126.9L476.1 123L469.4 119.4L462.8 116.2L456.3 113.2M444.6 208.2L453.2 202.8L461.7 197.5L470.1 192.3L478.3 187.1L486.5 182L494.6 177L502.5 172L510.4 167L518.2 162.1L525.8 157.2L533.4 152.4L540.9 147.7L548.3 143L555.6 138.3L562.8 133.7L570 129.1L577 124.6L584 120.1L590.9 115.6L597.7 111.2M604 231.8L596.3 222.9L588.6 214.3L580.9 205.9L573.2 197.9L565.5 190.1L557.9 182.7L550.3 175.5L542.7 168.7L535.2 162.2L527.7 156L520.4 150.2L513.1 144.6L505.8 139.4L498.7 134.6L491.7 130L484.8 125.8L478 121.9L471.3 118.3L464.7 115.1L458.2 112.1M442.7 206.5L451.3 201.2L459.8 195.9L468.2 190.7L476.5 185.5L484.6 180.4L492.7 175.4L500.7 170.4L508.5 165.5L516.3 160.6L524 155.7L531.6 150.9L539 146.2L546.4 141.5L553.8 136.9L561 132.2L568.1 127.7L575.2 123.2L582.2 118.7L589.1 114.2L595.9 109.8M605.9 230.5L598.2 221.6L590.5 213L582.8 204.6L575.1 196.6L567.4 188.9L559.7 181.4L552.1 174.3L544.6 167.5L537.1 161L529.6 154.8L522.3 149L515 143.5L507.7 138.3L500.6 133.4L493.6 128.9L486.7 124.7L479.9 120.8L473.1 117.2L466.6 114L460.1 111.1M440.8 204.9L449.5 199.5L458 194.3L466.3 189.1L474.6 184L482.8 178.9L490.9 173.9L498.8 168.9L506.7 164L514.5 159.1L522.1 154.3L529.7 149.5L537.2 144.8L544.6 140.1L551.9 135.4L559.1 130.8L566.3 126.3L573.4 121.8L580.3 117.3L587.2 112.9L594.1 108.5M607.7 229.1L600 220.2L592.3 211.6L584.6 203.3L576.9 195.3L569.3 187.6L561.6 180.2L554 173.1L546.5 166.3L539 159.8L531.5 153.6L524.1 147.8L516.8 142.3L509.6 137.1L502.5 132.3L495.5 127.8L488.6 123.6L481.7 119.7L475 116.2L468.4 112.9L462 110M439 203.2L447.6 197.9L456.1 192.7L464.5 187.5L472.8 182.4L480.9 177.3L489 172.3L497 167.4L504.8 162.5L512.6 157.6L520.3 152.8L527.9 148L535.4 143.3L542.8 138.7L550.1 134L557.3 129.5L564.5 124.9L571.5 120.4L578.5 116L585.4 111.6L592.2 107.2M609.5 227.7L601.8 218.9L594.2 210.3L586.5 202L578.8 194L571.1 186.3L563.5 178.9L555.9 171.8L548.3 165L540.8 158.6L533.4 152.4L526 146.6L518.7 141.1L511.5 136L504.4 131.1L497.4 126.6L490.4 122.5L483.6 118.6L476.9 115.1L470.3 111.9L463.8 109M437.1 201.6L445.8 196.4L454.3 191.1L462.6 186L470.9 180.9L479.1 175.8L487.2 170.8L495.1 165.9L503 161L510.8 156.2L518.4 151.4L526 146.6L533.5 141.9L540.9 137.3L548.2 132.7L555.5 128.1L562.6 123.6L569.7 119.1L576.7 114.6L583.6 110.2L590.4 105.9M611.3 226.4L603.7 217.6L596 209L588.3 200.7L580.6 192.7L573 185L565.4 177.6L557.8 170.6L550.2 163.8L542.7 157.4L535.3 151.2L527.9 145.4L520.6 140L513.4 134.8L506.3 130L499.2 125.5L492.3 121.4L485.5 117.5L478.8 114L472.2 110.8L465.7 107.9M435.3 200L443.9 194.8L452.4 189.6L460.8 184.4L469.1 179.4L477.3 174.3L485.3 169.4L493.3 164.4L501.2 159.6L508.9 154.7L516.6 149.9L524.2 145.2L531.7 140.5L539.1 135.9L546.4 131.3L553.7 126.7L560.8 122.2L567.9 117.8L574.9 113.3L581.8 109L588.6 104.6M613.2 225L605.5 216.2L597.8 207.7L590.1 199.4L582.5 191.4L574.8 183.8L567.2 176.4L559.6 169.3L552.1 162.6L544.6 156.2L537.2 150L529.8 144.3L522.5 138.8L515.3 133.7L508.2 128.9L501.1 124.4L494.2 120.2L487.4 116.4L480.6 112.9L474 109.7L467.6 106.9M433.5 198.5L442.1 193.2L450.6 188.1L459 182.9L467.2 177.9L475.4 172.9L483.5 167.9L491.5 163L499.3 158.1L507.1 153.3L514.8 148.6L522.4 143.8L529.9 139.2L537.3 134.5L544.6 130L551.8 125.4L559 120.9L566.1 116.5L573 112.1L580 107.7L586.8 103.4M615 223.7L607.3 214.9L599.6 206.4L592 198.1L584.3 190.2L576.7 182.5L569.1 175.1L561.5 168.1L553.9 161.4L546.5 155L539 148.9L531.7 143.1L524.4 137.6L517.2 132.5L510 127.7L503 123.3L496.1 119.1L489.2 115.3L482.5 111.8L475.9 108.7L469.4 105.8M431.6 196.9L440.3 191.7L448.8 186.6L457.1 181.5L465.4 176.4L473.6 171.4L481.7 166.5L489.6 161.6L497.5 156.7L505.3 151.9L513 147.2L520.6 142.5L528.1 137.8L535.5 133.2L542.8 128.6L550 124.1L557.2 119.6L564.2 115.2L571.2 110.8L578.1 106.4L585 102.1M616.8 222.4L609.1 213.6L601.5 205.1L593.8 196.8L586.2 188.9L578.5 181.2L570.9 173.9L563.3 166.9L555.8 160.2L548.3 153.8L540.9 147.7L533.5 141.9L526.2 136.5L519 131.4L511.9 126.6L504.9 122.2L497.9 118L491.1 114.2L484.4 110.8L477.7 107.6L471.3 104.8M429.8 195.4L438.4 190.2L446.9 185.1L455.3 180L463.6 175L471.8 170L479.9 165L487.8 160.2L495.7 155.3L503.5 150.6L511.1 145.8L518.7 141.1L526.2 136.5L533.6 131.9L541 127.3L548.2 122.8L555.4 118.4L562.4 113.9L569.4 109.6L576.3 105.2L583.2 100.9M618.6 221L610.9 212.3L603.3 203.8L595.6 195.5L588 187.6L580.4 180L572.8 172.7L565.2 165.6L557.7 158.9L550.2 152.6L542.7 146.5L535.4 140.8L528.1 135.3L520.9 130.3L513.8 125.5L506.7 121.1L499.8 116.9L492.9 113.2L486.2 109.7L479.6 106.5L473.1 103.7M428 193.9L436.6 188.7L445.1 183.6L453.5 178.5L461.8 173.5L470 168.6L478 163.6L486 158.8L493.9 154L501.7 149.2L509.3 144.5L516.9 139.8L524.4 135.2L531.8 130.6L539.2 126.1L546.4 121.6L553.5 117.1L560.6 112.7L567.6 108.3L574.5 104L581.4 99.7M620.3 219.7L612.7 210.9L605.1 202.5L597.4 194.3L589.8 186.3L582.2 178.7L574.6 171.4L567 164.4L559.5 157.7L552 151.4L544.6 145.3L537.2 139.6L530 134.2L522.7 129.1L515.6 124.4L508.6 119.9L501.6 115.9L494.8 112.1L488.1 108.6L481.4 105.5L474.9 102.7M426.2 192.5L434.8 187.3L443.3 182.2L451.7 177.1L460 172.1L468.2 167.2L476.2 162.3L484.2 157.4L492.1 152.6L499.8 147.9L507.5 143.2L515.1 138.5L522.6 133.9L530 129.3L537.4 124.8L544.6 120.3L551.7 115.9L558.8 111.5L565.8 107.1L572.7 102.8L579.6 98.5M622.1 218.4L614.5 209.6L606.9 201.2L599.3 193L591.6 185.1L584 177.5L576.4 170.2L568.9 163.2L561.3 156.5L553.9 150.2L546.4 144.1L539.1 138.4L531.8 133L524.6 128L517.5 123.2L510.4 118.8L503.5 114.8L496.6 111L489.9 107.6L483.3 104.4L476.8 101.6M424.4 191L433 185.8L441.5 180.8L449.9 175.7L458.2 170.7L466.4 165.8L474.4 160.9L482.4 156.1L490.3 151.3L498 146.6L505.7 141.9L513.3 137.2L520.8 132.6L528.2 128.1L535.6 123.6L542.8 119.1L549.9 114.7L557 110.3L564 105.9L570.9 101.6L577.8 97.4M623.9 217.1L616.3 208.3L608.7 199.9L601.1 191.7L593.4 183.8L585.8 176.2L578.2 169L570.7 162L563.2 155.3L555.7 149L548.3 143L540.9 137.3L533.6 131.9L526.4 126.9L519.3 122.1L512.3 117.7L505.3 113.7L498.5 109.9L491.7 106.5L485.1 103.4L478.6 100.6M422.6 189.6L431.2 184.4L439.7 179.3L448.1 174.3L456.4 169.4L464.6 164.4L472.6 159.6L480.6 154.8L488.5 150L496.3 145.3L503.9 140.6L511.5 136L519 131.4L526.4 126.9L533.8 122.4L541 117.9L548.2 113.5L555.2 109.1L562.2 104.8L569.1 100.5L576 96.2M625.7 215.7L618.1 207L610.5 198.6L602.9 190.4L595.2 182.6L587.6 175L580.1 167.7L572.5 160.8L565 154.1L557.5 147.8L550.1 141.8L542.8 136.1L535.5 130.8L528.3 125.7L521.1 121L514.1 116.6L507.2 112.6L500.3 108.8L493.6 105.4L486.9 102.3L480.4 99.6M420.9 188.1L429.5 183L438 178L446.3 173L454.6 168L462.8 163.1L470.9 158.3L478.8 153.5L486.7 148.7L494.5 144L502.1 139.3L509.7 134.7L517.2 130.2L524.6 125.6L532 121.2L539.2 116.7L546.4 112.3L553.4 108L560.4 103.6L567.3 99.3L574.2 95.1M627.4 214.4L619.9 205.7L612.3 197.3L604.7 189.2L597.1 181.3L589.5 173.7L581.9 166.5L574.3 159.6L566.8 152.9L559.4 146.6L552 140.6L544.6 135L537.3 129.6L530.1 124.6L523 119.9L515.9 115.5L509 111.5L502.1 107.8L495.4 104.4L488.7 101.3L482.2 98.5M419.1 186.8L427.7 181.7L436.2 176.6L444.6 171.6L452.8 166.7L461 161.8L469.1 157L477 152.2L484.9 147.4L492.7 142.8L500.4 138.1L507.9 133.5L515.4 129L522.9 124.5L530.2 120L537.4 115.6L544.6 111.2L551.6 106.8L558.6 102.5L565.6 98.2L572.4 94M629.2 213.1L621.6 204.4L614 196L606.4 187.9L598.8 180L591.3 172.5L583.7 165.3L576.2 158.3L568.6 151.7L561.2 145.4L553.8 139.5L546.4 133.8L539.1 128.5L531.9 123.5L524.8 118.8L517.8 114.4L510.8 110.4L504 106.7L497.2 103.3L490.6 100.2L484 97.5M417.3 185.4L425.9 180.3L434.4 175.3L442.8 170.3L451.1 165.4L459.2 160.5L467.3 155.7L475.3 150.9L483.1 146.2L490.9 141.5L498.6 136.9L506.2 132.3L513.7 127.8L521.1 123.3L528.4 118.8L535.6 114.4L542.8 110L549.9 105.7L556.9 101.4L563.8 97.1L570.6 92.9M631 211.8L623.4 203.1L615.8 194.7L608.2 186.6L600.6 178.8L593.1 171.3L585.5 164L578 157.1L570.5 150.5L563 144.3L555.6 138.3L548.2 132.7L541 127.3L533.8 122.4L526.6 117.7L519.6 113.4L512.6 109.3L505.8 105.6L499 102.3L492.4 99.2L485.8 96.5M415.6 184L424.2 179L432.7 174L441 169L449.3 164.1L457.5 159.2L465.5 154.4L473.5 149.7L481.4 145L489.1 140.3L496.8 135.7L504.4 131.1L511.9 126.6L519.3 122.1L526.6 117.7L533.9 113.3L541 108.9L548.1 104.6L555.1 100.3L562 96.1L568.8 91.9M632.7 210.5L625.2 201.8L617.6 193.4L610 185.4L602.4 177.5L594.9 170L587.3 162.8L579.8 155.9L572.3 149.4L564.8 143.1L557.4 137.1L550.1 131.5L542.8 126.2L535.6 121.2L528.4 116.6L521.4 112.3L514.4 108.3L507.6 104.6L500.8 101.2L494.2 98.2L487.6 95.4M413.8 182.7L422.4 177.7L430.9 172.7L439.3 167.7L447.5 162.8L455.7 158L463.8 153.2L471.7 148.5L479.6 143.8L487.4 139.1L495 134.5L502.6 130L510.1 125.5L517.5 121L524.9 116.6L532.1 112.2L539.2 107.8L546.3 103.5L553.3 99.3L560.2 95L567.1 90.8M634.5 209.2L626.9 200.5L619.4 192.2L611.8 184.1L604.2 176.3L596.6 168.8L589.1 161.6L581.6 154.7L574.1 148.2L566.6 141.9L559.2 136L551.9 130.4L544.6 125.1L537.4 120.1L530.3 115.5L523.2 111.2L516.2 107.2L509.4 103.5L502.6 100.2L496 97.1L489.4 94.4M412.1 181.4L420.7 176.4L429.2 171.4L437.5 166.5L445.8 161.6L454 156.8L462 152L470 147.3L477.8 142.6L485.6 138L493.3 133.4L500.9 128.8L508.4 124.4L515.8 119.9L523.1 115.5L530.3 111.1L537.5 106.8L544.6 102.5L551.5 98.2L558.5 94L565.3 89.8M636.2 207.9L628.7 199.3L621.1 190.9L613.5 182.8L606 175.1L598.4 167.6L590.9 160.4L583.4 153.5L575.9 147L568.4 140.7L561 134.8L553.7 129.2L546.4 124L539.2 119L532.1 114.4L525 110.1L518.1 106.1L511.2 102.5L504.4 99.1L497.8 96.1L491.2 93.4M410.4 180.1L418.9 175.1L427.4 170.1L435.8 165.2L444.1 160.4L452.2 155.6L460.3 150.8L468.2 146.1L476.1 141.4L483.9 136.8L491.5 132.3L499.1 127.7L506.6 123.2L514 118.8L521.3 114.4L528.6 110L535.7 105.7L542.8 101.4L549.8 97.2L556.7 93L563.5 88.8M638 206.6L630.4 198L622.9 189.6L615.3 181.6L607.8 173.8L600.2 166.4L592.7 159.2L585.1 152.3L577.7 145.8L570.2 139.6L562.8 133.7L555.5 128.1L548.2 122.8L541 117.9L533.9 113.3L526.8 109L519.9 105L513 101.4L506.2 98.1L499.6 95.1L493 92.4M408.6 178.8L417.2 173.8L425.7 168.9L434.1 164L442.3 159.2L450.5 154.4L458.5 149.6L466.5 145L474.4 140.3L482.1 135.7L489.8 131.2L497.4 126.6L504.9 122.2L512.3 117.7L519.6 113.4L526.8 109L534 104.7L541 100.4L548 96.2L554.9 92L561.8 87.8M639.7 205.3L632.2 196.7L624.6 188.4L617.1 180.3L609.5 172.6L602 165.1L594.4 158L586.9 151.2L579.4 144.6L572 138.4L564.6 132.5L557.3 127L550 121.7L542.8 116.8L535.7 112.2L528.6 107.9L521.6 104L514.8 100.3L508 97L501.3 94L494.8 91.3M406.9 177.6L415.5 172.6L424 167.7L432.3 162.8L440.6 158L448.8 153.2L456.8 148.5L464.8 143.8L472.6 139.2L480.4 134.6L488 130.1L495.6 125.6L503.1 121.1L510.5 116.7L517.8 112.3L525.1 108L532.2 103.7L539.3 99.4L546.3 95.2L553.2 91L560 86.9M641.4 204L633.9 195.4L626.4 187.1L618.8 179.1L611.3 171.4L603.7 163.9L596.2 156.8L588.7 150L581.2 143.5L573.8 137.3L566.4 131.4L559.1 125.8L551.8 120.6L544.6 115.7L537.4 111.1L530.4 106.8L523.4 102.9L516.6 99.3L509.8 96L503.1 93L496.6 90.3M405.2 176.4L413.8 171.4L422.3 166.5L430.6 161.6L438.9 156.8L447 152.1L455.1 147.4L463 142.7L470.9 138.1L478.7 133.5L486.3 129L493.9 124.5L501.4 120.1L508.8 115.7L516.1 111.3L523.3 107L530.5 102.7L537.5 98.5L544.5 94.2L551.4 90.1L558.3 85.9M643.1 202.7L635.6 194.1L628.1 185.9L620.6 177.8L613 170.1L605.5 162.7L598 155.6L590.5 148.8L583 142.3L575.6 136.1L568.2 130.2L560.9 124.7L553.6 119.5L546.4 114.6L539.2 110L532.2 105.8L525.2 101.8L518.3 98.2L511.6 94.9L504.9 92L498.3 89.3M403.5 175.2L412.1 170.2L420.6 165.3L428.9 160.5L437.2 155.7L445.3 151L453.4 146.3L461.3 141.6L469.2 137L476.9 132.5L484.6 127.9L492.2 123.5L499.6 119L507 114.7L514.4 110.3L521.6 106L528.7 101.7L535.8 97.5L542.8 93.3L549.7 89.1L556.5 85M644.8 201.4L637.4 192.9L629.8 184.6L622.3 176.6L614.8 168.9L607.3 161.5L599.7 154.4L592.2 147.6L584.8 141.1L577.3 134.9L570 129.1L562.6 123.6L555.4 118.4L548.2 113.5L541 108.9L534 104.7L527 100.8L520.1 97.2L513.3 93.9L506.7 90.9L500.1 88.3M401.9 174L410.4 169.1L418.9 164.2L427.2 159.4L435.5 154.6L443.6 149.9L451.7 145.2L459.6 140.5L467.5 136L475.2 131.4L482.9 126.9L490.4 122.5L497.9 118L505.3 113.7L512.6 109.3L519.9 105L527 100.8L534.1 96.6L541 92.4L548 88.2L554.8 84.1M646.6 200.1L639.1 191.6L631.6 183.3L624.1 175.4L616.5 167.7L609 160.3L601.5 153.2L594 146.4L586.5 139.9L579.1 133.8L571.7 128L564.4 122.4L557.1 117.3L549.9 112.4L542.8 107.8L535.7 103.6L528.8 99.7L521.9 96.1L515.1 92.9L508.4 89.9L501.8 87.3M400.2 172.8L408.7 167.9L417.2 163.1L425.5 158.2L433.8 153.5L441.9 148.8L450 144.1L457.9 139.5L465.8 134.9L473.5 130.4L481.2 125.9L488.7 121.5L496.2 117.1L503.6 112.7L510.9 108.4L518.1 104.1L525.3 99.9L532.3 95.6L539.3 91.5L546.2 87.3L553.1 83.2M648.3 198.9L640.8 190.3L633.3 182.1L625.8 174.1L618.3 166.5L610.7 159.1L603.2 152L595.8 145.2L588.3 138.8L580.9 132.6L573.5 126.8L566.2 121.3L558.9 116.1L551.7 111.3L544.6 106.8L537.5 102.6L530.5 98.7L523.7 95.1L516.9 91.8L510.2 88.9L503.6 86.3M398.5 171.7L407.1 166.8L415.5 162L423.9 157.2L432.1 152.4L440.2 147.7L448.3 143.1L456.2 138.5L464.1 133.9L471.8 129.4L479.5 124.9L487 120.5L494.5 116.1L501.9 111.8L509.2 107.4L516.4 103.2L523.5 98.9L530.6 94.8L537.6 90.6L544.5 86.5L551.3 82.4M650 197.6L642.5 189.1L635 180.9L627.5 172.9L620 165.2L612.5 157.9L605 150.8L597.5 144.1L590.1 137.6L582.6 131.5L575.3 125.7L567.9 120.2L560.7 115L553.5 110.2L546.3 105.7L539.3 101.5L532.3 97.6L525.4 94.1L518.6 90.8L511.9 87.9L505.4 85.3M396.9 170.6L405.4 165.7L413.9 160.9L422.2 156.1L430.4 151.4L438.6 146.7L446.6 142L454.5 137.5L462.4 132.9L470.1 128.4L477.8 124L485.3 119.5L492.8 115.2L500.2 110.8L507.5 106.5L514.7 102.3L521.8 98.1L528.9 93.9L535.9 89.7L542.8 85.6L549.6 81.5M651.7 196.3L644.2 187.8L636.7 179.6L629.2 171.7L621.7 164L614.2 156.7L606.7 149.6L599.3 142.9L591.8 136.5L584.4 130.4L577 124.6L569.7 119.1L562.4 113.9L555.2 109.1L548.1 104.6L541 100.4L534.1 96.6L527.2 93L520.4 89.8L513.7 86.9L507.1 84.3M395.2 169.5L403.8 164.6L412.2 159.8L420.5 155L428.8 150.3L436.9 145.7L444.9 141L452.8 136.5L460.7 131.9L468.4 127.5L476.1 123L483.6 118.6L491.1 114.2L498.5 109.9L505.8 105.6L513 101.4L520.1 97.2L527.2 93L534.2 88.9L541.1 84.8L547.9 80.7M653.4 195.1L645.9 186.6L638.4 178.4L630.9 170.4L623.5 162.8L616 155.5L608.5 148.4L601 141.7L593.6 135.3L586.1 129.2L578.8 123.4L571.5 118L564.2 112.8L557 108L549.8 103.5L542.8 99.4L535.8 95.5L528.9 92L522.1 88.8L515.4 85.9L508.8 83.3M393.6 168.4L402.1 163.6L410.6 158.8L418.9 154L427.1 149.3L435.2 144.7L443.2 140.1L451.2 135.5L459 131L466.7 126.5L474.4 122.1L481.9 117.7L489.4 113.3L496.8 109L504.1 104.8L511.3 100.5L518.4 96.3L525.5 92.2L532.4 88.1L539.3 84L546.2 79.9M655 193.8L647.6 185.3L640.1 177.1L632.7 169.2L625.2 161.6L617.7 154.3L610.2 147.3L602.7 140.6L595.3 134.2L587.9 128.1L580.5 122.3L573.2 116.9L565.9 111.7L558.7 106.9L551.6 102.5L544.5 98.3L537.6 94.5L530.7 90.9L523.9 87.7L517.2 84.8L510.6 82.3M391.9 167.3L400.5 162.5L408.9 157.7L417.2 153L425.5 148.3L433.6 143.7L441.6 139.1L449.5 134.6L457.3 130L465.1 125.6L472.7 121.2L480.2 116.8L487.7 112.5L495.1 108.2L502.4 103.9L509.6 99.7L516.7 95.5L523.8 91.4L530.7 87.3L537.6 83.2L544.5 79.1M656.7 192.5L649.3 184.1L641.8 175.9L634.4 168L626.9 160.4L619.4 153.1L611.9 146.1L604.5 139.4L597 133L589.6 126.9L582.3 121.2L574.9 115.8L567.7 110.6L560.5 105.9L553.3 101.4L546.3 97.2L539.3 93.4L532.4 89.9L525.6 86.7L518.9 83.8L512.3 81.3M390.3 166.3L398.9 161.5L407.3 156.7L415.6 152L423.8 147.3L431.9 142.7L439.9 138.2L447.8 133.6L455.7 129.1L463.4 124.7L471 120.3L478.6 115.9L486 111.6L493.4 107.3L500.7 103.1L507.9 98.9L515 94.7L522.1 90.6L529 86.5L535.9 82.4L542.8 78.4M658.4 191.3L651 182.8L643.5 174.7L636.1 166.8L628.6 159.2L621.1 151.9L613.6 144.9L606.2 138.2L598.8 131.9L591.4 125.8L584 120.1L576.7 114.6L569.4 109.6L562.2 104.8L555.1 100.3L548 96.2L541 92.4L534.2 88.9L527.3 85.7L520.6 82.8L514 80.3M388.7 165.3L397.2 160.5L405.7 155.7L414 151L422.2 146.4L430.3 141.8L438.3 137.2L446.2 132.7L454 128.2L461.7 123.8L469.4 119.4L476.9 115.1L484.4 110.8L491.7 106.5L499 102.3L506.2 98.1L513.3 93.9L520.4 89.8L527.3 85.7L534.2 81.6L541.1 77.6M660.1 190L652.7 181.6L645.2 173.4L637.8 165.6L630.3 158L622.8 150.7L615.4 143.7L607.9 137.1L600.5 130.7L593.1 124.7L585.7 119L578.4 113.5L571.2 108.5L564 103.7L556.8 99.3L549.8 95.1L542.8 91.3L535.9 87.9L529.1 84.7L522.4 81.8L515.8 79.3M387.1 164.3L395.6 159.5L404.1 154.8L412.4 150.1L420.6 145.5L428.7 140.9L436.7 136.3L444.6 131.8L452.4 127.4L460.1 123L467.7 118.6L475.2 114.2L482.7 109.9L490.1 105.7L497.3 101.5L504.5 97.3L511.7 93.1L518.7 89L525.7 85L532.6 80.9L539.4 76.9M661.7 188.8L654.3 180.3L646.9 172.2L639.5 164.4L632 156.8L624.5 149.5L617.1 142.6L609.6 135.9L602.2 129.6L594.8 123.5L587.5 117.8L580.1 112.4L572.9 107.4L565.7 102.6L558.6 98.2L551.5 94.1L544.5 90.3L537.6 86.8L530.8 83.7L524.1 80.8L517.5 78.3M385.5 163.3L394 158.6L402.4 153.8L410.7 149.2L418.9 144.6L427 140L435 135.4L442.9 131L450.7 126.5L458.4 122.1L466.1 117.8L473.6 113.4L481 109.1L488.4 104.9L495.7 100.7L502.9 96.5L510 92.4L517 88.3L524 84.2L530.9 80.2L537.7 76.2M663.4 187.5L656 179.1L648.6 171L641.2 163.2L633.7 155.6L626.2 148.4L618.8 141.4L611.3 134.8L603.9 128.4L596.5 122.4L589.2 116.7L581.9 111.3L574.6 106.3L567.4 101.6L560.3 97.1L553.2 93L546.2 89.3L539.3 85.8L532.5 82.7L525.8 79.8L519.2 77.3M384 162.4L392.5 157.6L400.9 152.9L409.1 148.3L417.3 143.7L425.4 139.1L433.4 134.6L441.3 130.1L449.1 125.7L456.8 121.3L464.4 116.9L472 112.6L479.4 108.4L486.7 104.1L494 99.9L501.2 95.8L508.3 91.7L515.4 87.6L522.3 83.5L529.2 79.5L536 75.5M665.1 186.3L657.7 177.9L650.3 169.8L642.8 162L635.4 154.4L627.9 147.2L620.5 140.2L613.1 133.6L605.6 127.3L598.3 121.3L590.9 115.6L583.6 110.2L576.3 105.2L569.1 100.5L562 96.1L554.9 92L548 88.2L541.1 84.8L534.2 81.6L527.5 78.8L520.9 76.3M382.4 161.4L390.9 156.7L399.3 152L407.6 147.4L415.7 142.8L423.8 138.2L431.8 133.7L439.7 129.3L447.5 124.9L455.2 120.5L462.8 116.2L470.3 111.9L477.7 107.6L485.1 103.4L492.4 99.2L499.6 95.1L506.7 90.9L513.7 86.9L520.6 82.8L527.5 78.8L534.3 74.9M666.7 185L659.3 176.7L651.9 168.6L644.5 160.8L637.1 153.2L629.6 146L622.2 139.1L614.8 132.5L607.3 126.2L600 120.2L592.6 114.5L585.3 109.2L578.1 104.1L570.9 99.4L563.7 95L556.7 91L549.7 87.2L542.8 83.8L536 80.6L529.2 77.8L522.6 75.3M380.8 160.5L389.3 155.8L397.7 151.1L406 146.5L414.1 141.9L422.2 137.4L430.2 132.9L438.1 128.5L445.9 124.1L453.6 119.7L461.2 115.4L468.7 111.1L476.1 106.9L483.5 102.7L490.7 98.5L497.9 94.4L505 90.3L512 86.2L519 82.2L525.9 78.2L532.7 74.2M668.4 183.8L661 175.4L653.6 167.3L646.2 159.6L638.8 152L631.3 144.8L623.9 137.9L616.5 131.3L609 125L601.7 119.1L594.3 113.4L587 108.1L579.8 103L572.6 98.3L565.4 94L558.4 89.9L551.4 86.2L544.5 82.7L537.7 79.6L530.9 76.8L524.3 74.3M379.3 159.6L387.8 154.9L396.1 150.3L404.4 145.7L412.6 141.1L420.6 136.6L428.6 132.1L436.5 127.7L444.3 123.3L452 119L459.6 114.6L467.1 110.4L474.5 106.1L481.8 101.9L489.1 97.8L496.3 93.7L503.4 89.6L510.4 85.5L517.3 81.5L524.2 77.5L531 73.6M670 182.5L662.7 174.2L655.3 166.1L647.9 158.4L640.4 150.9L633 143.7L625.6 136.8L618.1 130.2L610.7 123.9L603.4 117.9L596 112.3L588.7 107L581.5 102L574.3 97.3L567.1 92.9L560.1 88.9L553.1 85.1L546.2 81.7L539.4 78.6L532.6 75.8L526 73.4M377.7 158.8L386.2 154.1L394.6 149.4L402.8 144.9L411 140.3L419.1 135.8L427 131.3L434.9 126.9L442.7 122.5L450.3 118.2L457.9 113.9L465.4 109.7L472.9 105.4L480.2 101.3L487.5 97.1L494.6 93L501.7 88.9L508.7 84.9L515.7 80.9L522.5 76.9L529.3 73M671.7 181.3L664.3 173L656.9 164.9L649.5 157.2L642.1 149.7L634.7 142.5L627.2 135.6L619.8 129L612.4 122.8L605.1 116.8L597.7 111.2L590.4 105.9L583.2 100.9L576 96.2L568.8 91.9L561.8 87.8L554.8 84.1L547.9 80.7L541.1 77.6L534.3 74.9L527.7 72.4M376.2 157.9L384.7 153.2L393 148.6L401.3 144L409.4 139.5L417.5 135L425.4 130.6L433.3 126.2L441.1 121.8L448.8 117.5L456.3 113.2L463.8 109L471.3 104.8L478.6 100.6L485.8 96.5L493 92.4L500.1 88.3L507.1 84.3L514 80.3L520.9 76.3L527.7 72.4" stroke="#000" stroke-width="1.0" stroke-opacity="0.45" fill="none"/>
<circle cx="456.1" cy="111.7" r="2.5" fill="#c40000" stroke="#600" stroke-width="0.6"/>
<circle cx="597.6" cy="110.2" r="2.5" fill="#c40000" stroke="#600" stroke-width="0.6"/>
<circle cx="525.8" cy="153.7" r="2.5" fill="#c40000" stroke="#600" stroke-width="0.6"/>
<circle cx="523.9" cy="291.3" r="2.5" fill="#c40000" stroke="#600" stroke-width="0.6"/>
<circle cx="602.7" cy="233.3" r="2.5" fill="#c40000" stroke="#600" stroke-width="0.6"/>
<path d="M386.7 212.3a1.1 1.1 0 1 0 2.2 0a1.1 1.1 0 1 0-2.2 0M382.1 191.2a1.1 1.1 0 1 0 2.2 0a1.1 1.1 0 1 0-2.2 0M377.6 170.1a1.1 1.1 0 1 0 2.2 0a1.1 1.1 0 1 0-2.2 0M373.0 149.1a1.1 1.1 0 1 0 2.2 0a1.1 1.1 0 1 0-2.2 0M368.5 128.0a1.1 1.1 0 1 0 2.2 0a1.1 1.1 0 1 0-2.2 0M392.0 236.8a1.1 1.1 0 1 0 2.2 0a1.1 1.1 0 1 0-2.2 0M523.1 370.7a1.1 1.1 0 1 0 2.2 0a1.1 1.1 0 1 0-2.2 0M496.9 343.9a1.1 1.1 0 1 0 2.2 0a1.1 1.1 0 1 0-2.2 0M470.7 317.1a1.1 1.1 0 1 0 2.2 0a1.1 1.1 0 1 0-2.2 0M444.4 290.3a1.1 1.1 0 1 0 2.2 0a1.1 1.1 0 1 0-2.2 0M418.2 263.6a1.1 1.1 0 1 0 2.2 0a1.1 1.1 0 1 0-2.2 0M556.8 338.1a1.1 1.1 0 1 0 2.2 0a1.1 1.1 0 1 0-2.2 0M590.5 305.5a1.1 1.1 0 1 0 2.2 0a1.1 1.1 0 1 0-2.2 0M624.2 272.8a1.1 1.1 0 1 0 2.2 0a1.1 1.1 0 1 0-2.2 0M657.9 240.2a1.1 1.1 0 1 0 2.2 0a1.1 1.1 0 1 0-2.2 0" fill="#000"/>
<text transform="matrix(0.1582 0 0 0.1743 119.7343 26.0257)" font-family="Liberation Sans" font-size="100" fill="#1a1a1a" stroke="#1a1a1a" stroke-width="1.01">Predicted vs. Actual</text>
<text transform="matrix(0.1341 0 0 0.1117 69.6293 45.7543)" font-family="Liberation Sans" font-size="100" fill="#222" stroke="#222" stroke-width="1.43">Color points by value of</text>
<text transform="matrix(0.1372 0 0 0.1225 68.8255 59.7775)" font-family="Liberation Sans" font-size="100" fill="#222" stroke="#222" stroke-width="1.31">TS:</text>
<text transform="matrix(0.1342 0 0 0.1155 90.1317 74.2845)" font-family="Liberation Sans" font-size="100" fill="#e8202c" stroke="#e8202c" stroke-width="1.39">4.312</text>
<text transform="matrix(0.1353 0 0 0.1085 89.7237 101.8915)" font-family="Liberation Sans" font-size="100" fill="#3434d8" stroke="#3434d8" stroke-width="1.48">2.948</text>
<text transform="matrix(0 -0.1176 0.1095 0 15.7905 206.4235)" font-family="Liberation Sans" font-size="100" font-weight="bold" fill="#222" stroke="#222" stroke-width="0.00">Predicted</text>
<text transform="matrix(0.1074 0 0 0.1257 174.3 391.0743)" font-family="Liberation Sans" font-size="100" fill="#222" stroke="#222" stroke-width="1.49">Actual</text>
<text transform="matrix(0.163 0 0 0.1267 177.4481 413.64)" font-family="Liberation Serif" font-size="100" font-weight="bold" fill="#111" stroke="#111" stroke-width="0.63">(a)</text>
<text transform="matrix(0.1623 0 0 0.1311 510.6509 410.0467)" font-family="Liberation Serif" font-size="100" font-weight="bold" fill="#111" stroke="#111" stroke-width="0.61">(b)</text>
<text transform="matrix(0 -0.1383 0.1362 0 337.8404 214.7767)" font-family="Liberation Sans" font-size="100" fill="#222" stroke="#222" stroke-width="1.17">TS (MPa)</text>
<text transform="matrix(0.1384 0 0 0.1378 379.0927 354.7069)" font-family="Liberation Sans" font-size="100" fill="#222" stroke="#222" stroke-width="1.16">B: PVA (%)</text>
<text transform="matrix(0.1358 0 0 0.1378 606 357.5069)" font-family="Liberation Sans" font-size="100" fill="#222" stroke="#222" stroke-width="1.18">A: CR (%)</text>
<text transform="matrix(0.093 0 0 0.1 38.445 51)" font-family="Liberation Sans" font-size="100" fill="#333" stroke="#333" stroke-width="0.00">4.5</text>
<text transform="matrix(0.093 0 0 0.1 46.071 117.28)" font-family="Liberation Sans" font-size="100" fill="#333" stroke="#333" stroke-width="0.00">4</text>
<text transform="matrix(0.093 0 0 0.1 38.445 183.56)" font-family="Liberation Sans" font-size="100" fill="#333" stroke="#333" stroke-width="0.00">3.5</text>
<text transform="matrix(0.093 0 0 0.1 46.257 249.84)" font-family="Liberation Sans" font-size="100" fill="#333" stroke="#333" stroke-width="0.00">3</text>
<text transform="matrix(0.093 0 0 0.1 38.445 316.12)" font-family="Liberation Sans" font-size="100" fill="#333" stroke="#333" stroke-width="0.00">2.5</text>
<text transform="matrix(0.09 0 0 0.1 69.3 350.8)" font-family="Liberation Sans" font-size="100" fill="#333" stroke="#333" stroke-width="0.00">2.5</text>
<text transform="matrix(0.09 0 0 0.1 130.305 350.8)" font-family="Liberation Sans" font-size="100" fill="#333" stroke="#333" stroke-width="0.00">3</text>
<text transform="matrix(0.09 0 0 0.1 183.705 350.8)" font-family="Liberation Sans" font-size="100" fill="#333" stroke="#333" stroke-width="0.00">3.5</text>
<text transform="matrix(0.09 0 0 0.1 244.665 350.8)" font-family="Liberation Sans" font-size="100" fill="#333" stroke="#333" stroke-width="0.00">4</text>
<text transform="matrix(0.09 0 0 0.1 298.155 350.8)" font-family="Liberation Sans" font-size="100" fill="#333" stroke="#333" stroke-width="0.00">4.5</text>
<text transform="matrix(0.1071 0 0 0.119 349.6415 126)" font-family="Liberation Sans" font-size="100" fill="#222" stroke="#222" stroke-width="1.49">4.5</text>
<text transform="matrix(0.1071 0 0 0.119 362.3237 146.6)" font-family="Liberation Sans" font-size="100" fill="#222" stroke="#222" stroke-width="1.49">4</text>
<text transform="matrix(0.1071 0 0 0.119 358.5415 168)" font-family="Liberation Sans" font-size="100" fill="#222" stroke="#222" stroke-width="1.49">3.5</text>
<text transform="matrix(0.1071 0 0 0.119 371.8379 189.2)" font-family="Liberation Sans" font-size="100" fill="#222" stroke="#222" stroke-width="1.49">3</text>
<text transform="matrix(0.1071 0 0 0.119 366.9415 210.8)" font-family="Liberation Sans" font-size="100" fill="#222" stroke="#222" stroke-width="1.49">2.5</text>
<text transform="matrix(0.1071 0 0 0.119 381.9379 247.7)" font-family="Liberation Sans" font-size="100" fill="#222" stroke="#222" stroke-width="1.49">2</text>
<text transform="matrix(0.1071 0 0 0.119 398.7415 274.1)" font-family="Liberation Sans" font-size="100" fill="#222" stroke="#222" stroke-width="1.49">1.8</text>
<text transform="matrix(0.1071 0 0 0.119 424.4415 301.2)" font-family="Liberation Sans" font-size="100" fill="#222" stroke="#222" stroke-width="1.49">1.6</text>
<text transform="matrix(0.1071 0 0 0.119 451.8344 328.1)" font-family="Liberation Sans" font-size="100" fill="#222" stroke="#222" stroke-width="1.49">1.4</text>
<text transform="matrix(0.1071 0 0 0.119 478.0486 354.8)" font-family="Liberation Sans" font-size="100" fill="#222" stroke="#222" stroke-width="1.49">1.2</text>
<text transform="matrix(0.1071 0 0 0.119 512.0379 381.6)" font-family="Liberation Sans" font-size="100" fill="#222" stroke="#222" stroke-width="1.49">1</text>
<text transform="matrix(0.1071 0 0 0.119 530.0432 381.6)" font-family="Liberation Sans" font-size="100" fill="#222" stroke="#222" stroke-width="1.49">10</text>
<text transform="matrix(0.1071 0 0 0.119 563.8432 348.7)" font-family="Liberation Sans" font-size="100" fill="#222" stroke="#222" stroke-width="1.49">15</text>
<text transform="matrix(0.1071 0 0 0.119 596.9645 316.2)" font-family="Liberation Sans" font-size="100" fill="#222" stroke="#222" stroke-width="1.49">20</text>
<text transform="matrix(0.1071 0 0 0.119 629.9645 284)" font-family="Liberation Sans" font-size="100" fill="#222" stroke="#222" stroke-width="1.49">25</text>
<text transform="matrix(0.1071 0 0 0.119 664.5716 250.6)" font-family="Liberation Sans" font-size="100" fill="#222" stroke="#222" stroke-width="1.49">30</text>
</svg>
</body></html>
